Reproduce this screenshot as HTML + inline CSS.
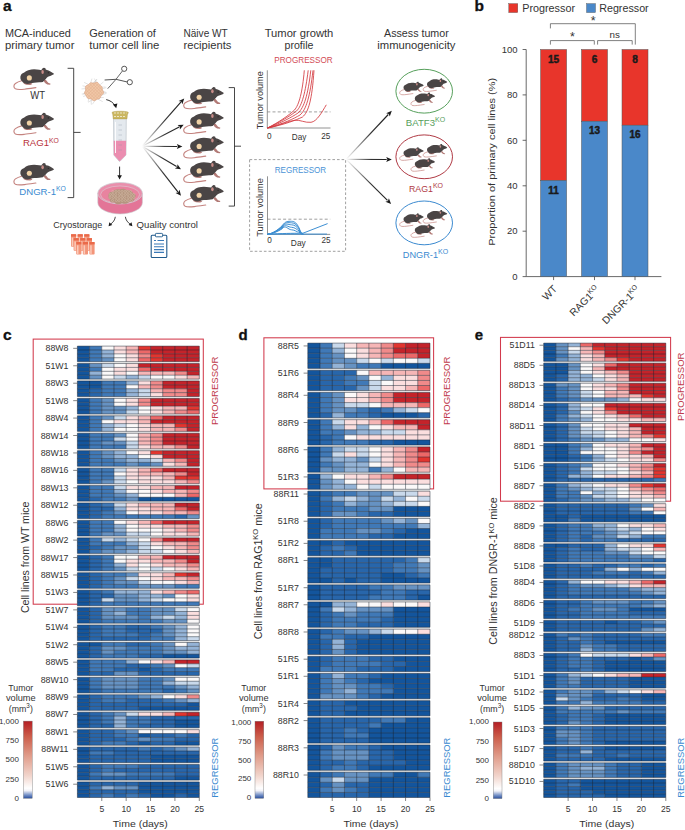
<!DOCTYPE html><html><head><meta charset="utf-8"><style>html,body{margin:0;padding:0;background:#fff;}svg{display:block;}</style></head><body>
<svg width="685" height="830" viewBox="0 0 685 830" font-family='"Liberation Sans", sans-serif'>
<defs>
<symbol id="ms" viewBox="0 0 42 23" overflow="visible">
 <path d="M8.9,13.2 C6.5,13.8 4.5,14.6 2.6,15.9 C0.6,17.4 0.6,20 2.6,21.2 C4.6,22.3 8.5,21.9 11.8,21.6 C15,21.2 19,20.6 23.1,20.0" fill="none" stroke="#c4837f" stroke-width="1.15" stroke-linecap="round"/>
 <path d="M30.3,12.4 L33,12.2 L35.4,15.2 L37.8,16.1 L37.3,17.1 L34.5,17 L32.2,15.3 Z" fill="#b27a76"/>
 <path d="M10.4,14.4 L18,15.1 L19.6,16.5 L17.6,17.4 L13.4,17.2 L11,16.2 Z" fill="#b27a76"/>
 <path d="M9.24,13.57 C7.3,12.3 7.1,9.2 8.15,7.36 C9,6 10,5.6 11.07,5.17 C12.5,4 13.8,3.2 15.45,2.62 C17.5,2 19.5,1.74 21.29,1.74 C23.2,1.74 25,2 26.4,2.25 L28.59,2.62 C29,1.8 29.3,1.3 29.68,1.01 C30.2,0.5 30.6,0.1 31.14,0.06 C31.8,0.05 32.3,0.3 32.6,0.58 L32.97,1.89 C33.8,2.2 34.5,2.4 35.16,2.62 C36.3,3.1 37.2,3.6 38.08,4.08 C39.2,4.7 40.2,5.3 41.0,5.9 C41.1,6.4 40.9,6.8 40.63,7.0 C39.8,7.5 38.9,7.8 38.08,8.09 C37,8.4 36,8.8 35.16,9.19 C34.3,9.9 33.6,10.6 32.97,11.38 L31.51,12.84 C31,13.4 30.6,14 30.05,14.3 C28.8,14.5 27.6,14.6 26.4,14.66 C24.7,14.8 23,14.9 21.29,15.03 C20,15.2 18.8,15.5 17.64,15.76 C16.6,16.1 15.7,16.4 14.72,16.49 C13.7,16.4 12.7,16.1 11.8,15.76 C11.1,15.4 10.5,15 9.97,14.66 Z" fill="#4a4545"/>
 <ellipse cx="29.8" cy="4.3" rx="1.25" ry="2.0" fill="#c98c88"/>
 <circle cx="35.5" cy="5.2" r="0.55" fill="#1a1a1a"/>
</symbol>
<symbol id="msp" viewBox="0 0 42 23" overflow="visible">
 <use href="#ms"/>
 <circle cx="16.54" cy="10.3" r="2.55" fill="#f0d2a6"/>
</symbol>
</defs>
<text x="2.9" y="10.8" font-size="15.5" text-anchor="start" fill="#111" font-weight="bold" stroke="#111" stroke-width="0.3">a</text>
<text x="4.9" y="36.6" font-size="10.6" text-anchor="start" fill="#333333" font-weight="normal" textLength="66" lengthAdjust="spacingAndGlyphs" >MCA-induced</text>
<text x="4.9" y="48.9" font-size="10.6" text-anchor="start" fill="#333333" font-weight="normal" textLength="69.5" lengthAdjust="spacingAndGlyphs" >primary tumor</text>
<text x="89.3" y="36.6" font-size="10.6" text-anchor="start" fill="#333333" font-weight="normal" textLength="66.6" lengthAdjust="spacingAndGlyphs" >Generation of</text>
<text x="89.3" y="48.9" font-size="10.6" text-anchor="start" fill="#333333" font-weight="normal" textLength="70.1" lengthAdjust="spacingAndGlyphs" >tumor cell line</text>
<text x="183.5" y="36.6" font-size="10.6" text-anchor="start" fill="#333333" font-weight="normal" textLength="44.2" lengthAdjust="spacingAndGlyphs" >Näive WT</text>
<text x="183.5" y="48.9" font-size="10.6" text-anchor="start" fill="#333333" font-weight="normal" textLength="47.9" lengthAdjust="spacingAndGlyphs" >recipients</text>
<text x="299" y="36.6" font-size="10.6" text-anchor="middle" fill="#333333" font-weight="normal" textLength="68.7" lengthAdjust="spacingAndGlyphs" >Tumor growth</text>
<text x="299" y="48.9" font-size="10.6" text-anchor="middle" fill="#333333" font-weight="normal" >profile</text>
<text x="416.4" y="36.6" font-size="10.6" text-anchor="middle" fill="#333333" font-weight="normal" textLength="64.8" lengthAdjust="spacingAndGlyphs" >Assess tumor</text>
<text x="416.4" y="48.9" font-size="10.6" text-anchor="middle" fill="#333333" font-weight="normal" textLength="78.2" lengthAdjust="spacingAndGlyphs" >immunogenicity</text>
<use href="#msp" x="0" y="0" width="42" height="23" transform="translate(12.8,67.6) scale(1.0)"/>
<use href="#msp" x="0" y="0" width="42" height="23" transform="translate(12.8,112.7) scale(1.0)"/>
<use href="#msp" x="0" y="0" width="42" height="23" transform="translate(12.8,163.0) scale(1.0)"/>
<text x="30.2" y="98.6" font-size="10.2" text-anchor="start" fill="#333333" font-weight="normal" textLength="14.8" lengthAdjust="spacingAndGlyphs" >WT</text>
<text x="22.9" y="146.4" font-size="9.6" fill="#b8323c">RAG1<tspan font-size="6.8" dy="-3.8">KO</tspan></text>
<text x="19.3" y="195.2" font-size="9.6" fill="#3a8ad0">DNGR-1<tspan font-size="6.8" dy="-3.8">KO</tspan></text>
<path d="M67.6,68.3 H73.7 V197.6 H67.6 M73.7,132.4 H80.6" fill="none" stroke="#333" stroke-width="0.9"/>
<use href="#msp" x="0" y="0" width="42" height="23" transform="translate(182.6,86.9) scale(1.0)"/>
<use href="#msp" x="0" y="0" width="42" height="23" transform="translate(182.6,111.60000000000001) scale(1.0)"/>
<use href="#msp" x="0" y="0" width="42" height="23" transform="translate(182.6,136.1) scale(1.0)"/>
<use href="#msp" x="0" y="0" width="42" height="23" transform="translate(182.6,160.6) scale(1.0)"/>
<use href="#msp" x="0" y="0" width="42" height="23" transform="translate(182.6,185.0) scale(1.0)"/>
<path d="M228.7,87.6 H234.5 V206.1 H228.7 M234.5,146.2 H241" fill="none" stroke="#333" stroke-width="0.9"/>
<path d="M102.39,91.00 L105.75,92.14 M102.23,92.99 L106.67,92.66 M101.43,95.25 L106.51,93.32 M99.55,97.65 L103.81,97.47 M97.55,98.98 L102.71,101.62 M95.57,99.63 L92.40,104.28 M92.56,99.69 L88.00,102.31 M91.08,99.32 L91.32,104.70 M88.80,98.10 L88.15,101.60 M86.47,95.43 L83.14,96.51 M85.68,93.47 L81.78,94.07 M85.43,92.04 L82.75,94.67 M85.84,88.61 L81.56,88.91 M86.83,86.58 L82.51,85.83 M88.72,84.56 L84.09,82.40 M90.48,83.52 L91.97,78.63 M93.08,82.84 L96.80,79.43 M94.46,82.82 L96.96,79.13 M96.88,83.34 L94.36,78.59 M99.68,85.07 L103.51,81.94 M101.38,87.25 L105.40,86.98 M102.10,89.06 L106.28,87.51" stroke="#b8b8b8" stroke-width="0.4" fill="none"/>
<path d="M103.25,91.30 L103.58,92.12 L103.59,92.96 L103.21,93.72 L102.56,94.36 L101.85,94.90 L101.27,95.43 L100.90,96.05 L100.65,96.79 L100.35,97.56 L99.89,98.22 L99.22,98.67 L98.44,98.93 L97.66,99.12 L96.93,99.39 L96.25,99.80 L95.53,100.28 L94.74,100.65 L93.90,100.72 L93.08,100.44 L92.34,99.91 L91.68,99.34 L91.04,98.93 L90.32,98.76 L89.48,98.72 L88.60,98.64 L87.80,98.35 L87.20,97.80 L86.79,97.09 L86.49,96.33 L86.15,95.64 L85.69,95.01 L85.16,94.39 L84.71,93.69 L84.53,92.90 L84.68,92.08 L85.05,91.30 L85.45,90.58 L85.66,89.89 L85.63,89.15 L85.46,88.32 L85.35,87.43 L85.51,86.60 L85.99,85.93 L86.70,85.44 L87.48,85.08 L88.19,84.70 L88.78,84.21 L89.34,83.64 L89.97,83.12 L90.71,82.80 L91.54,82.74 L92.37,82.89 L93.16,83.06 L93.90,83.07 L94.66,82.85 L95.50,82.52 L96.39,82.29 L97.26,82.34 L98.01,82.76 L98.58,83.43 L99.04,84.18 L99.50,84.82 L100.06,85.32 L100.73,85.74 L101.40,86.21 L101.91,86.81 L102.18,87.55 L102.26,88.35 L102.29,89.12 L102.46,89.84 L102.81,90.54 Z" fill="#f1c7a6" stroke="#d59c7e" stroke-width="0.6"/>
<clipPath id="tclip"><circle cx="93.9" cy="91.3" r="8.6"/></clipPath>
<path d="M69.1,79.3 L93.1,103.3 M93.1,79.3 L69.1,103.3 M72.3,79.3 L96.3,103.3 M96.3,79.3 L72.3,103.3 M75.5,79.3 L99.5,103.3 M99.5,79.3 L75.5,103.3 M78.7,79.3 L102.7,103.3 M102.7,79.3 L78.7,103.3 M81.9,79.3 L105.9,103.3 M105.9,79.3 L81.9,103.3 M85.1,79.3 L109.1,103.3 M109.1,79.3 L85.1,103.3 M88.3,79.3 L112.3,103.3 M112.3,79.3 L88.3,103.3 M91.5,79.3 L115.5,103.3 M115.5,79.3 L91.5,103.3 M94.7,79.3 L118.7,103.3 M118.7,79.3 L94.7,103.3" stroke="#e0ad8d" stroke-width="0.45" fill="none" clip-path="url(#tclip)"/>
<g stroke="#555" fill="none" stroke-width="0.9"><path d="M104.6,80 L116,79.3 L127.3,82" stroke-width="1"/><path d="M107.7,88.7 L116,79.3 L122.4,71"/><circle cx="124.2" cy="68.8" r="2.6" stroke-width="1"/><circle cx="129.8" cy="82.2" r="2.6" stroke-width="1"/></g>
<path d="M106.2,99.6 C110,100.4 113.5,102.5 115.3,106.3" stroke="#1a1a1a" stroke-width="0.9" fill="none"/>
<path d="M116.2,108.3 L112.9,104.6 L117.4,103.4 Z" fill="#1a1a1a"/>
<path d="M113.5,118.5 L126.3,118.5 L126,155 L120,161.3 L119.2,161.3 L113.8,155 Z" fill="#e4e9ee" stroke="#a9b1b9" stroke-width="0.5"/>
<path d="M113.7,140.8 L126.1,140.8 L125.9,155 L120,161 L119.3,161 L113.9,155 Z" fill="#eb8db0"/>
<path d="M115.5,122 V153" stroke="#fff" stroke-width="1" opacity="0.9"/>
<path d="M118.5,125 H122 M118.5,130 H122 M118.5,135 H122 M118.5,140 H122 M118.5,145 H122 M118.5,150 H122" stroke="#8a96a2" stroke-width="0.35"/>
<path d="M112,112.5 C112,110.8 128.4,110.8 128.4,112.5 L127.4,114.8 L127,118.9 L113.2,118.9 L112.8,114.8 Z" fill="#cbb761" stroke="#a8964a" stroke-width="0.4"/>
<path d="M114,113 H126.5 M114,116.5 H126" stroke="#f0ead0" stroke-width="0.9" stroke-dasharray="2,1"/>
<path d="M119.6,166.6 V176.5" stroke="#1a1a1a" stroke-width="0.9"/>
<path d="M119.6,179.4 L117.3,175.2 L121.9,175.2 Z" fill="#1a1a1a"/>
<path d="M97.8,193.2 L97.8,202.6 A22.3,11.3 0 0 0 142.4,202.6 L142.4,193.2 Z" fill="#e37597" stroke="#c9c9cf" stroke-width="0.6"/>
<ellipse cx="120.1" cy="193.2" rx="22.3" ry="10.7" fill="#e98fac" stroke="#cfd0d6" stroke-width="0.8"/>
<ellipse cx="120.1" cy="194.6" rx="19.5" ry="8.6" fill="#e8839f" stroke="#d8d8de" stroke-width="0.5"/>
<path d="M108.5,196 C108,193 110.5,191.5 113,191.8 C114,189.5 117,188.6 119.5,189.6 C121.5,188.2 125,188.4 126.5,190.2 C129,189.6 132.5,190.8 133,193 C136,193.8 136.5,196.5 134.5,198.2 C135,200.5 132.5,202.3 129.5,201.8 C128,203.8 124.5,204.5 122,203.2 C119.5,205 115.5,204.6 114.5,202.5 C111.5,203 109,201.5 110,199.2 C108.3,198.6 108,197.3 108.5,196 Z" fill="#b59580"/>
<circle cx="112.7" cy="191.5" r="1.05" fill="none" stroke="#d9c2ad" stroke-width="0.45"/><circle cx="116.0" cy="191.5" r="1.05" fill="none" stroke="#d9c2ad" stroke-width="0.45"/><circle cx="118.9" cy="191.5" r="1.05" fill="none" stroke="#d9c2ad" stroke-width="0.45"/><circle cx="122.1" cy="191.5" r="1.05" fill="none" stroke="#d9c2ad" stroke-width="0.45"/><circle cx="125.1" cy="191.5" r="1.05" fill="none" stroke="#d9c2ad" stroke-width="0.45"/><circle cx="127.6" cy="191.5" r="1.05" fill="none" stroke="#d9c2ad" stroke-width="0.45"/><circle cx="130.5" cy="191.5" r="1.05" fill="none" stroke="#d9c2ad" stroke-width="0.45"/><circle cx="110.3" cy="194.5" r="1.05" fill="none" stroke="#d9c2ad" stroke-width="0.45"/><circle cx="112.8" cy="194.5" r="1.05" fill="none" stroke="#d9c2ad" stroke-width="0.45"/><circle cx="115.7" cy="194.5" r="1.05" fill="none" stroke="#d9c2ad" stroke-width="0.45"/><circle cx="119.5" cy="194.5" r="1.05" fill="none" stroke="#d9c2ad" stroke-width="0.45"/><circle cx="122.0" cy="194.5" r="1.05" fill="none" stroke="#d9c2ad" stroke-width="0.45"/><circle cx="125.3" cy="194.5" r="1.05" fill="none" stroke="#d9c2ad" stroke-width="0.45"/><circle cx="128.0" cy="194.5" r="1.05" fill="none" stroke="#d9c2ad" stroke-width="0.45"/><circle cx="131.1" cy="194.5" r="1.05" fill="none" stroke="#d9c2ad" stroke-width="0.45"/><circle cx="133.7" cy="194.5" r="1.05" fill="none" stroke="#d9c2ad" stroke-width="0.45"/><circle cx="110.1" cy="197.5" r="1.05" fill="none" stroke="#d9c2ad" stroke-width="0.45"/><circle cx="113.4" cy="197.5" r="1.05" fill="none" stroke="#d9c2ad" stroke-width="0.45"/><circle cx="116.0" cy="197.5" r="1.05" fill="none" stroke="#d9c2ad" stroke-width="0.45"/><circle cx="119.2" cy="197.5" r="1.05" fill="none" stroke="#d9c2ad" stroke-width="0.45"/><circle cx="122.2" cy="197.5" r="1.05" fill="none" stroke="#d9c2ad" stroke-width="0.45"/><circle cx="124.6" cy="197.5" r="1.05" fill="none" stroke="#d9c2ad" stroke-width="0.45"/><circle cx="128.3" cy="197.5" r="1.05" fill="none" stroke="#d9c2ad" stroke-width="0.45"/><circle cx="131.1" cy="197.5" r="1.05" fill="none" stroke="#d9c2ad" stroke-width="0.45"/><circle cx="133.8" cy="197.5" r="1.05" fill="none" stroke="#d9c2ad" stroke-width="0.45"/><circle cx="112.5" cy="200.5" r="1.05" fill="none" stroke="#d9c2ad" stroke-width="0.45"/><circle cx="116.4" cy="200.5" r="1.05" fill="none" stroke="#d9c2ad" stroke-width="0.45"/><circle cx="119.0" cy="200.5" r="1.05" fill="none" stroke="#d9c2ad" stroke-width="0.45"/><circle cx="122.2" cy="200.5" r="1.05" fill="none" stroke="#d9c2ad" stroke-width="0.45"/><circle cx="125.4" cy="200.5" r="1.05" fill="none" stroke="#d9c2ad" stroke-width="0.45"/><circle cx="128.2" cy="200.5" r="1.05" fill="none" stroke="#d9c2ad" stroke-width="0.45"/><circle cx="131.4" cy="200.5" r="1.05" fill="none" stroke="#d9c2ad" stroke-width="0.45"/>
<path d="M115.3,216.8 C115,220 113,222.5 110.4,224.3" stroke="#1a1a1a" stroke-width="0.8" fill="none"/>
<path d="M108.6,226.2 L109.3,222.3 L112.3,225 Z" fill="#1a1a1a"/>
<path d="M125.4,216.8 C125.7,220 127.7,222.5 130.4,224.3" stroke="#1a1a1a" stroke-width="0.8" fill="none"/>
<path d="M132.4,226.2 L128.6,225 L131.5,222.3 Z" fill="#1a1a1a"/>
<text x="53.2" y="227.6" font-size="9.2" text-anchor="start" fill="#333333" font-weight="normal" textLength="49" lengthAdjust="spacingAndGlyphs" >Cryostorage</text>
<text x="136.6" y="227.6" font-size="9.2" text-anchor="start" fill="#333333" font-weight="normal" textLength="61.4" lengthAdjust="spacingAndGlyphs" >Quality control</text>
<rect x="71.0" y="234.2" width="5.2" height="12.6" rx="0.8" fill="#f3957a"/><rect x="71.0" y="234.2" width="5.2" height="2.4" fill="#ea6a4a"/><rect x="71.8" y="237.5" width="1.5" height="8.6" fill="#fbcab8"/><rect x="77.6" y="234.2" width="5.2" height="12.6" rx="0.8" fill="#f3957a"/><rect x="77.6" y="234.2" width="5.2" height="2.4" fill="#ea6a4a"/><rect x="78.4" y="237.5" width="1.5" height="8.6" fill="#fbcab8"/><rect x="84.2" y="234.2" width="5.2" height="12.6" rx="0.8" fill="#f3957a"/><rect x="84.2" y="234.2" width="5.2" height="2.4" fill="#ea6a4a"/><rect x="85.0" y="237.5" width="1.5" height="8.6" fill="#fbcab8"/><rect x="73.6" y="238.1" width="5.2" height="12.6" rx="0.8" fill="#f3957a"/><rect x="73.6" y="238.1" width="5.2" height="2.4" fill="#ea6a4a"/><rect x="74.4" y="241.4" width="1.5" height="8.6" fill="#fbcab8"/><rect x="80.2" y="238.1" width="5.2" height="12.6" rx="0.8" fill="#f3957a"/><rect x="80.2" y="238.1" width="5.2" height="2.4" fill="#ea6a4a"/><rect x="81.0" y="241.4" width="1.5" height="8.6" fill="#fbcab8"/><rect x="86.8" y="238.1" width="5.2" height="12.6" rx="0.8" fill="#f3957a"/><rect x="86.8" y="238.1" width="5.2" height="2.4" fill="#ea6a4a"/><rect x="87.6" y="241.4" width="1.5" height="8.6" fill="#fbcab8"/><rect x="76.2" y="242.0" width="5.2" height="12.6" rx="0.8" fill="#f3957a"/><rect x="76.2" y="242.0" width="5.2" height="2.4" fill="#ea6a4a"/><rect x="77.0" y="245.3" width="1.5" height="8.6" fill="#fbcab8"/><rect x="82.8" y="242.0" width="5.2" height="12.6" rx="0.8" fill="#f3957a"/><rect x="82.8" y="242.0" width="5.2" height="2.4" fill="#ea6a4a"/><rect x="83.6" y="245.3" width="1.5" height="8.6" fill="#fbcab8"/><rect x="89.4" y="242.0" width="5.2" height="12.6" rx="0.8" fill="#f3957a"/><rect x="89.4" y="242.0" width="5.2" height="2.4" fill="#ea6a4a"/><rect x="90.2" y="245.3" width="1.5" height="8.6" fill="#fbcab8"/>
<rect x="151.2" y="235.2" width="15.6" height="22.3" rx="1" fill="#fff" stroke="#1f5a8c" stroke-width="1.1"/>
<rect x="155.4" y="233.4" width="7.2" height="3.4" rx="0.8" fill="#fff" stroke="#1f5a8c" stroke-width="0.9"/>
<path d="M154,240.5 h2 M157.5,240.5 h6.5 M154,244 h10 M154,246.8 h10 M154,249.6 h10 M154,252.4 h10" stroke="#3a7ab8" stroke-width="1.1"/>
<linearGradient id="fa0" gradientUnits="userSpaceOnUse" x1="142.2" y1="146.2" x2="184.2" y2="98.4"><stop offset="0" stop-color="#ffffff"/><stop offset="0.55" stop-color="#333"/><stop offset="1" stop-color="#1a1a1a"/></linearGradient><path d="M142.2,146.2 L180.83,102.23" stroke="url(#fa0)" stroke-width="1.15" fill="none"/><path d="M184.2,98.4 L182.38,104.26 L181.30,101.71 L178.63,100.96 Z" fill="#1a1a1a"/>
<linearGradient id="fa1" gradientUnits="userSpaceOnUse" x1="142.2" y1="146.2" x2="183.7" y2="124.7"><stop offset="0" stop-color="#ffffff"/><stop offset="0.55" stop-color="#333"/><stop offset="1" stop-color="#1a1a1a"/></linearGradient><path d="M142.2,146.2 L179.17,127.05" stroke="url(#fa1)" stroke-width="1.15" fill="none"/><path d="M183.7,124.7 L179.88,129.50 L179.79,126.72 L177.58,125.06 Z" fill="#1a1a1a"/>
<linearGradient id="fa2" gradientUnits="userSpaceOnUse" x1="142.2" y1="146.2" x2="182.4" y2="146.6"><stop offset="0" stop-color="#ffffff"/><stop offset="0.55" stop-color="#333"/><stop offset="1" stop-color="#1a1a1a"/></linearGradient><path d="M142.2,146.2 L177.30,146.55" stroke="url(#fa2)" stroke-width="1.15" fill="none"/><path d="M182.4,146.6 L176.78,149.04 L178.00,146.56 L176.83,144.04 Z" fill="#1a1a1a"/>
<linearGradient id="fa3" gradientUnits="userSpaceOnUse" x1="142.2" y1="146.2" x2="181.0" y2="169.2"><stop offset="0" stop-color="#ffffff"/><stop offset="0.55" stop-color="#333"/><stop offset="1" stop-color="#1a1a1a"/></linearGradient><path d="M142.2,146.2 L176.61,166.60" stroke="url(#fa3)" stroke-width="1.15" fill="none"/><path d="M181.0,169.2 L174.91,168.49 L177.22,166.96 L177.46,164.19 Z" fill="#1a1a1a"/>
<linearGradient id="fa4" gradientUnits="userSpaceOnUse" x1="142.2" y1="146.2" x2="181.0" y2="195.8"><stop offset="0" stop-color="#ffffff"/><stop offset="0.55" stop-color="#333"/><stop offset="1" stop-color="#1a1a1a"/></linearGradient><path d="M142.2,146.2 L177.86,191.78" stroke="url(#fa4)" stroke-width="1.15" fill="none"/><path d="M181.0,195.8 L175.58,192.93 L178.29,192.33 L179.52,189.85 Z" fill="#1a1a1a"/>
<linearGradient id="fb0" gradientUnits="userSpaceOnUse" x1="346.1" y1="159.3" x2="391.8" y2="110.8"><stop offset="0" stop-color="#ffffff"/><stop offset="0.55" stop-color="#333"/><stop offset="1" stop-color="#1a1a1a"/></linearGradient><path d="M346.1,159.3 L388.30,114.51" stroke="url(#fb0)" stroke-width="1.15" fill="none"/><path d="M391.8,110.8 L389.78,116.59 L388.78,114.00 L386.14,113.16 Z" fill="#1a1a1a"/>
<linearGradient id="fb1" gradientUnits="userSpaceOnUse" x1="346.1" y1="159.3" x2="391.8" y2="159.5"><stop offset="0" stop-color="#ffffff"/><stop offset="0.55" stop-color="#333"/><stop offset="1" stop-color="#1a1a1a"/></linearGradient><path d="M346.1,159.3 L386.70,159.48" stroke="url(#fb1)" stroke-width="1.15" fill="none"/><path d="M391.8,159.5 L386.19,161.98 L387.40,159.48 L386.21,156.98 Z" fill="#1a1a1a"/>
<linearGradient id="fb2" gradientUnits="userSpaceOnUse" x1="346.1" y1="159.3" x2="391.1" y2="204.0"><stop offset="0" stop-color="#ffffff"/><stop offset="0.55" stop-color="#333"/><stop offset="1" stop-color="#1a1a1a"/></linearGradient><path d="M346.1,159.3 L387.48,200.41" stroke="url(#fb2)" stroke-width="1.15" fill="none"/><path d="M391.1,204.0 L385.37,201.83 L387.98,200.90 L388.89,198.28 Z" fill="#1a1a1a"/>
<text x="274.3" y="63" font-size="8.6" text-anchor="start" fill="#d24a55" font-weight="normal" textLength="58.4" lengthAdjust="spacingAndGlyphs" >PROGRESSOR</text>
<path d="M267.3,70.3 V128 H330.5" stroke="#777" stroke-width="0.8" fill="none"/>
<path d="M267.3,111.9 H330.5" stroke="#777" stroke-width="0.7" stroke-dasharray="3,2.2" fill="none"/>
<g stroke="#d3393f" stroke-width="0.85" fill="none"><path d="M267.5,128 C279,122 288,116 294.5,110 C299,105 302.5,92 304.3,70.3"/><path d="M267.5,128 C281,121.5 290,116 296.5,111 C302,106 305.5,92 308.2,70.3"/><path d="M267.5,128 C282,122.5 292,117 298,113 C304,108 308,95 310.8,70.3"/><path d="M267.5,128 C284,123.5 294,118.5 300,115 C306,110 310,97 313,70.3"/><path d="M267.5,128 C285,124.5 296,120 302.5,117 C308.5,112 312,100 314,70.3"/><path d="M267.5,128 C280,125.5 288,121 295,120.3 C300,119.6 305,123 311,122.3 C317,121.5 322,112 326.3,104.8"/></g>
<text transform="translate(263.2,100.2) rotate(-90)" font-size="9.4" text-anchor="middle" fill="#333333" textLength="58" lengthAdjust="spacingAndGlyphs">Tumor volume</text>
<text x="269.3" y="139.2" font-size="8.2" text-anchor="middle" fill="#333333" font-weight="normal" >0</text>
<text x="299.1" y="139.7" font-size="9.2" text-anchor="middle" fill="#333333" font-weight="normal" textLength="14.6" lengthAdjust="spacingAndGlyphs" >Day</text>
<text x="325.8" y="139.2" font-size="8.2" text-anchor="middle" fill="#333333" font-weight="normal" >25</text>
<rect x="249.6" y="159.6" width="96" height="91.7" fill="none" stroke="#777" stroke-width="0.7" stroke-dasharray="2.6,2"/>
<text x="274.7" y="173.1" font-size="8.6" text-anchor="start" fill="#4a93d6" font-weight="normal" textLength="51.5" lengthAdjust="spacingAndGlyphs" >REGRESSOR</text>
<path d="M267.5,176.3 V234.4 H330.2" stroke="#777" stroke-width="0.8" fill="none"/>
<path d="M267.5,219.2 H330.2" stroke="#777" stroke-width="0.7" stroke-dasharray="3,2.2" fill="none"/>
<g stroke="#3d8fd3" stroke-width="1" fill="none"><path d="M267.5,234.3 C273,233.6 278,229.7 282,225.9 C285.5,220.8 288,221.3 291.5,221.3 C295,221.3 297,223.8 299,227.8 C300.5,231.7 301.5,234 303.5,234.3"/><path d="M267.5,234.3 C273,233.6 278,230.0 282,226.5 C285.5,221.4 288,222.8 291.5,222.8 C295,222.8 297,225.3 299,228.6 C300.5,232.0 301.5,234 303.5,234.3"/><path d="M267.5,234.3 C273,233.6 278,230.4 282,227.2 C285.5,222.2 288,224.8 291.5,224.8 C295,224.8 297,227.3 299,229.6 C300.5,232.4 301.5,234 303,234.3"/><path d="M267.5,234.3 C273,233.6 278,230.9 282,228.1 C285.5,223.2 288,227.3 291.5,227.3 C295,227.3 297,229.8 299,230.8 C300.5,232.9 301.5,234 302.5,234.3"/><path d="M267.5,234.3 C273,233.6 278,231.4 282,228.9 C285.5,224.2 288,229.8 291.5,229.8 C295,229.8 297,232.3 299,232.1 C300.5,233.4 301.5,234 302,234.3"/><path d="M267.5,234.3 C282,233.4 292,233.3 303,233.2 L327.6,223.6"/><path d="M267.5,234.1 H327"/></g>
<text transform="translate(263.3,207.4) rotate(-90)" font-size="9.4" text-anchor="middle" fill="#333333" textLength="58.7" lengthAdjust="spacingAndGlyphs">Tumor volume</text>
<text x="269.5" y="242.8" font-size="8.2" text-anchor="middle" fill="#333333" font-weight="normal" >0</text>
<text x="298.3" y="245.5" font-size="9.2" text-anchor="middle" fill="#333333" font-weight="normal" textLength="14.9" lengthAdjust="spacingAndGlyphs" >Day</text>
<text x="326" y="242.8" font-size="8.2" text-anchor="middle" fill="#333333" font-weight="normal" >25</text>
<ellipse cx="424.2" cy="91.2" rx="28.3" ry="21.9" fill="none" stroke="#57a05c" stroke-width="1"/>
<use href="#ms" x="0" y="0" width="42" height="23" transform="translate(399.0,81.6) scale(0.6)"/>
<use href="#ms" x="0" y="0" width="42" height="23" transform="translate(422.5,78.3) scale(0.6)"/>
<use href="#ms" x="0" y="0" width="42" height="23" transform="translate(410.3,92.5) scale(0.6)"/>
<text x="405.8" y="126.4" font-size="9.8" fill="#57a05c"><tspan textLength="29.2" lengthAdjust="spacingAndGlyphs">BATF3</tspan><tspan font-size="7" dy="-4">KO</tspan></text>
<ellipse cx="424.2" cy="156.8" rx="28.3" ry="21.9" fill="none" stroke="#b03a44" stroke-width="1"/>
<use href="#ms" x="0" y="0" width="42" height="23" transform="translate(399.0,147.20000000000002) scale(0.6)"/>
<use href="#ms" x="0" y="0" width="42" height="23" transform="translate(422.5,143.90000000000003) scale(0.6)"/>
<use href="#ms" x="0" y="0" width="42" height="23" transform="translate(410.3,158.10000000000002) scale(0.6)"/>
<text x="408.9" y="192.4" font-size="9.8" fill="#b03a44"><tspan textLength="24" lengthAdjust="spacingAndGlyphs">RAG1</tspan><tspan font-size="7" dy="-4">KO</tspan></text>
<ellipse cx="424.2" cy="222.9" rx="28.3" ry="21.9" fill="none" stroke="#3b8ad0" stroke-width="1"/>
<use href="#ms" x="0" y="0" width="42" height="23" transform="translate(399.0,213.3) scale(0.6)"/>
<use href="#ms" x="0" y="0" width="42" height="23" transform="translate(422.5,210.00000000000003) scale(0.6)"/>
<use href="#ms" x="0" y="0" width="42" height="23" transform="translate(410.3,224.20000000000002) scale(0.6)"/>
<text x="402.8" y="258.4" font-size="9.8" fill="#3b8ad0"><tspan textLength="35.2" lengthAdjust="spacingAndGlyphs">DNGR-1</tspan><tspan font-size="7" dy="-4">KO</tspan></text>
<text x="474.6" y="10.9" font-size="15.5" text-anchor="start" fill="#111" font-weight="bold" stroke="#111" stroke-width="0.3">b</text>
<rect x="508.8" y="3.6" width="9" height="9" fill="#e8352b" stroke="#555" stroke-width="0.4"/>
<text x="522.2" y="11.7" font-size="10" text-anchor="start" fill="#333333" font-weight="normal" textLength="52.8" lengthAdjust="spacingAndGlyphs" >Progressor</text>
<rect x="586.5" y="3.6" width="9" height="9" fill="#4a88c9" stroke="#555" stroke-width="0.4"/>
<text x="599.2" y="11.7" font-size="10" text-anchor="start" fill="#333333" font-weight="normal" textLength="49.5" lengthAdjust="spacingAndGlyphs" >Regressor</text>
<path d="M526.2,49.5 V276.6 H661.4" fill="none" stroke="#444" stroke-width="0.8"/>
<path d="M522.6,276.6 H526.2" stroke="#444" stroke-width="0.8"/>
<text x="517.6" y="279.90000000000003" font-size="9.5" text-anchor="end" fill="#333333" font-weight="normal" >0</text>
<path d="M522.6,231.2 H526.2" stroke="#444" stroke-width="0.8"/>
<text x="517.6" y="234.48000000000002" font-size="9.5" text-anchor="end" fill="#333333" font-weight="normal" >20</text>
<path d="M522.6,185.8 H526.2" stroke="#444" stroke-width="0.8"/>
<text x="517.6" y="189.06000000000003" font-size="9.5" text-anchor="end" fill="#333333" font-weight="normal" >40</text>
<path d="M522.6,140.3 H526.2" stroke="#444" stroke-width="0.8"/>
<text x="517.6" y="143.64000000000001" font-size="9.5" text-anchor="end" fill="#333333" font-weight="normal" >60</text>
<path d="M522.6,94.9 H526.2" stroke="#444" stroke-width="0.8"/>
<text x="517.6" y="98.22000000000001" font-size="9.5" text-anchor="end" fill="#333333" font-weight="normal" >80</text>
<path d="M522.6,49.5 H526.2" stroke="#444" stroke-width="0.8"/>
<text x="517.6" y="52.8" font-size="9.5" text-anchor="end" fill="#333333" font-weight="normal" >100</text>
<rect x="540.6" y="49.50" width="26" height="131.02" fill="#e8352b" stroke="#555" stroke-width="0.5"/>
<rect x="540.6" y="180.52" width="26" height="96.08" fill="#4a88c9" stroke="#555" stroke-width="0.5"/>
<text x="553.6" y="62.5" font-size="10" text-anchor="middle" fill="#1a1a1a" font-weight="bold" stroke="#1a1a1a" stroke-width="0.45">15</text>
<text x="553.6" y="193.51923076923077" font-size="10" text-anchor="middle" fill="#1a1a1a" font-weight="bold" stroke="#1a1a1a" stroke-width="0.45">11</text>
<path d="M553.6,276.6 V280.1" stroke="#444" stroke-width="0.8"/>
<rect x="581.5" y="49.50" width="26" height="71.72" fill="#e8352b" stroke="#555" stroke-width="0.5"/>
<rect x="581.5" y="121.22" width="26" height="155.38" fill="#4a88c9" stroke="#555" stroke-width="0.5"/>
<text x="594.5" y="62.5" font-size="10" text-anchor="middle" fill="#1a1a1a" font-weight="bold" stroke="#1a1a1a" stroke-width="0.45">6</text>
<text x="594.5" y="134.21578947368423" font-size="10" text-anchor="middle" fill="#1a1a1a" font-weight="bold" stroke="#1a1a1a" stroke-width="0.45">13</text>
<path d="M594.5,276.6 V280.1" stroke="#444" stroke-width="0.8"/>
<rect x="622.0" y="49.50" width="26" height="75.70" fill="#e8352b" stroke="#555" stroke-width="0.5"/>
<rect x="622.0" y="125.20" width="26" height="151.40" fill="#4a88c9" stroke="#555" stroke-width="0.5"/>
<text x="635.0" y="62.5" font-size="10" text-anchor="middle" fill="#1a1a1a" font-weight="bold" stroke="#1a1a1a" stroke-width="0.45">8</text>
<text x="635.0" y="138.20000000000002" font-size="10" text-anchor="middle" fill="#1a1a1a" font-weight="bold" stroke="#1a1a1a" stroke-width="0.45">16</text>
<path d="M635.0,276.6 V280.1" stroke="#444" stroke-width="0.8"/>
<path d="M550.4,28.4 V23.7 H635.3 V44.6" fill="none" stroke="#555" stroke-width="0.75"/>
<text x="593.2" y="25.0" font-size="12.5" text-anchor="middle" fill="#333333" font-weight="normal" >*</text>
<path d="M550.4,44.6 V40.6 H594.3 V44.6" fill="none" stroke="#555" stroke-width="0.75"/>
<text x="572.4" y="41.2" font-size="12.5" text-anchor="middle" fill="#333333" font-weight="normal" >*</text>
<path d="M597.6,44.6 V40.6 H632.2 V44.6" fill="none" stroke="#555" stroke-width="0.75"/>
<text x="614.7" y="38.0" font-size="9.8" text-anchor="middle" fill="#333333" font-weight="normal" >ns</text>
<text transform="translate(495.2,161.8) rotate(-90)" font-size="9.6" text-anchor="middle" fill="#333333" textLength="168" lengthAdjust="spacingAndGlyphs">Proportion of primary cell lines (%)</text>
<text transform="translate(557.8,289.6) rotate(-45)" font-size="10.4" text-anchor="end" fill="#333333">WT</text>
<text transform="translate(600.2,290.2) rotate(-45)" font-size="10.2" text-anchor="end" fill="#333333">RAG1<tspan font-size="7" dy="-4" dx="-0.5">KO</tspan></text>
<text transform="translate(640.8,290.2) rotate(-45)" font-size="10.2" text-anchor="end" fill="#333333">DNGR-1<tspan font-size="7" dy="-4" dx="-0.5">KO</tspan></text>
<defs><linearGradient id="cbg" x1="0" y1="1" x2="0" y2="0">
    <stop offset="0" stop-color="#2a4f9c"/><stop offset="0.04" stop-color="#6f8cc4"/><stop offset="0.1" stop-color="#f2f2f8"/><stop offset="0.13" stop-color="#ffffff"/>
    <stop offset="0.3" stop-color="#f1d3ca"/><stop offset="0.55" stop-color="#e09c8a"/><stop offset="0.8" stop-color="#cc5e4b"/><stop offset="1" stop-color="#b41e24"/>
    </linearGradient></defs>
<text x="2.9" y="340.3" font-size="15.5" font-weight="bold" fill="#111" stroke="#111" stroke-width="0.3">c</text>
<text x="238.4" y="339.6" font-size="15" font-weight="bold" fill="#111" stroke="#111" stroke-width="0.3">d</text>
<text x="474.8" y="340.1" font-size="15" font-weight="bold" fill="#111" stroke="#111" stroke-width="0.3">e</text>
<rect x="33.2" y="339.1" width="170.10000000000002" height="265.1" fill="none" stroke="#d23a4c" stroke-width="1.05"/>
<rect x="263.9" y="337.8" width="169.70000000000005" height="151.09999999999997" fill="none" stroke="#d23a4c" stroke-width="1.05"/>
<rect x="500.5" y="337.4" width="170.10000000000002" height="163.8" fill="none" stroke="#d23a4c" stroke-width="1.05"/>
<rect x="77.4" y="346.1" width="121.9" height="451.4" fill="#ebebeb"/>
<rect x="77.40" y="346.10" width="12.19" height="3.88" fill="#13559d"/>
<rect x="89.59" y="346.10" width="12.19" height="3.88" fill="#4079b7"/>
<rect x="101.78" y="346.10" width="12.19" height="3.88" fill="#fbf9f9"/>
<rect x="113.97" y="346.10" width="12.19" height="3.88" fill="#fbdede"/>
<rect x="126.16" y="346.10" width="12.19" height="3.88" fill="#f6b6b6"/>
<rect x="138.35" y="346.10" width="12.19" height="3.88" fill="#e2352f"/>
<rect x="150.54" y="346.10" width="48.76" height="3.88" fill="#c4232a"/>
<rect x="77.40" y="349.98" width="12.19" height="3.88" fill="#13559d"/>
<rect x="89.59" y="349.98" width="12.19" height="3.88" fill="#4079b7"/>
<rect x="101.78" y="349.98" width="12.19" height="3.88" fill="#94b3d6"/>
<rect x="113.97" y="349.98" width="12.19" height="3.88" fill="#fbdede"/>
<rect x="126.16" y="349.98" width="12.19" height="3.88" fill="#f6b6b6"/>
<rect x="138.35" y="349.98" width="12.19" height="3.88" fill="#ec6868"/>
<rect x="150.54" y="349.98" width="48.76" height="3.88" fill="#c4232a"/>
<rect x="77.40" y="353.87" width="12.19" height="3.88" fill="#13559d"/>
<rect x="89.59" y="353.87" width="12.19" height="3.88" fill="#4079b7"/>
<rect x="101.78" y="353.87" width="12.19" height="3.88" fill="#94b3d6"/>
<rect x="113.97" y="353.87" width="12.19" height="3.88" fill="#fbf9f9"/>
<rect x="126.16" y="353.87" width="12.19" height="3.88" fill="#fbdede"/>
<rect x="138.35" y="353.87" width="12.19" height="3.88" fill="#f08a8a"/>
<rect x="150.54" y="353.87" width="12.19" height="3.88" fill="#e2352f"/>
<rect x="162.73" y="353.87" width="36.57" height="3.88" fill="#c4232a"/>
<rect x="77.40" y="357.75" width="12.19" height="3.88" fill="#13559d"/>
<rect x="89.59" y="357.75" width="12.19" height="3.88" fill="#4079b7"/>
<rect x="101.78" y="357.75" width="12.19" height="3.88" fill="#6692c2"/>
<rect x="113.97" y="357.75" width="12.19" height="3.88" fill="#fbf9f9"/>
<rect x="126.16" y="357.75" width="12.19" height="3.88" fill="#fbdede"/>
<rect x="138.35" y="357.75" width="12.19" height="3.88" fill="#ec6868"/>
<rect x="150.54" y="357.75" width="12.19" height="3.88" fill="#e2352f"/>
<rect x="162.73" y="357.75" width="36.57" height="3.88" fill="#c4232a"/>
<rect x="77.40" y="363.53" width="12.19" height="3.88" fill="#13559d"/>
<rect x="89.59" y="363.53" width="12.19" height="3.88" fill="#6692c2"/>
<rect x="101.78" y="363.53" width="12.19" height="3.88" fill="#c9d9eb"/>
<rect x="113.97" y="363.53" width="12.19" height="3.88" fill="#fbf9f9"/>
<rect x="126.16" y="363.53" width="12.19" height="3.88" fill="#fbdede"/>
<rect x="138.35" y="363.53" width="60.95" height="3.88" fill="#c4232a"/>
<rect x="77.40" y="367.42" width="12.19" height="3.88" fill="#13559d"/>
<rect x="89.59" y="367.42" width="12.19" height="3.88" fill="#4079b7"/>
<rect x="101.78" y="367.42" width="12.19" height="3.88" fill="#fbf9f9"/>
<rect x="113.97" y="367.42" width="24.38" height="3.88" fill="#fbdede"/>
<rect x="138.35" y="367.42" width="12.19" height="3.88" fill="#ec6868"/>
<rect x="150.54" y="367.42" width="48.76" height="3.88" fill="#c4232a"/>
<rect x="77.40" y="371.30" width="12.19" height="3.88" fill="#13559d"/>
<rect x="89.59" y="371.30" width="12.19" height="3.88" fill="#94b3d6"/>
<rect x="101.78" y="371.30" width="12.19" height="3.88" fill="#fbf9f9"/>
<rect x="113.97" y="371.30" width="12.19" height="3.88" fill="#fbdede"/>
<rect x="126.16" y="371.30" width="12.19" height="3.88" fill="#fbf9f9"/>
<rect x="138.35" y="371.30" width="36.57" height="3.88" fill="#f6b6b6"/>
<rect x="174.92" y="371.30" width="12.19" height="3.88" fill="#f08a8a"/>
<rect x="187.11" y="371.30" width="12.19" height="3.88" fill="#c4232a"/>
<rect x="77.40" y="375.19" width="12.19" height="3.88" fill="#13559d"/>
<rect x="89.59" y="375.19" width="12.19" height="3.88" fill="#6692c2"/>
<rect x="101.78" y="375.19" width="12.19" height="3.88" fill="#fbf9f9"/>
<rect x="113.97" y="375.19" width="12.19" height="3.88" fill="#c9d9eb"/>
<rect x="126.16" y="375.19" width="12.19" height="3.88" fill="#94b3d6"/>
<rect x="138.35" y="375.19" width="12.19" height="3.88" fill="#c9d9eb"/>
<rect x="150.54" y="375.19" width="24.38" height="3.88" fill="#fbf9f9"/>
<rect x="174.92" y="375.19" width="12.19" height="3.88" fill="#fbdede"/>
<rect x="187.11" y="375.19" width="12.19" height="3.88" fill="#f6b6b6"/>
<rect x="77.40" y="380.97" width="24.38" height="3.88" fill="#13559d"/>
<rect x="101.78" y="380.97" width="24.38" height="3.88" fill="#4079b7"/>
<rect x="126.16" y="380.97" width="12.19" height="3.88" fill="#94b3d6"/>
<rect x="138.35" y="380.97" width="12.19" height="3.88" fill="#fbdede"/>
<rect x="150.54" y="380.97" width="12.19" height="3.88" fill="#f08a8a"/>
<rect x="162.73" y="380.97" width="36.57" height="3.88" fill="#c4232a"/>
<rect x="77.40" y="384.85" width="24.38" height="3.88" fill="#13559d"/>
<rect x="101.78" y="384.85" width="24.38" height="3.88" fill="#4079b7"/>
<rect x="126.16" y="384.85" width="12.19" height="3.88" fill="#fbf9f9"/>
<rect x="138.35" y="384.85" width="12.19" height="3.88" fill="#f6b6b6"/>
<rect x="150.54" y="384.85" width="12.19" height="3.88" fill="#f08a8a"/>
<rect x="162.73" y="384.85" width="36.57" height="3.88" fill="#c4232a"/>
<rect x="77.40" y="388.74" width="12.19" height="3.88" fill="#13559d"/>
<rect x="89.59" y="388.74" width="12.19" height="3.88" fill="#2866ab"/>
<rect x="101.78" y="388.74" width="24.38" height="3.88" fill="#4079b7"/>
<rect x="126.16" y="388.74" width="12.19" height="3.88" fill="#94b3d6"/>
<rect x="138.35" y="388.74" width="12.19" height="3.88" fill="#c9d9eb"/>
<rect x="150.54" y="388.74" width="12.19" height="3.88" fill="#f6b6b6"/>
<rect x="162.73" y="388.74" width="24.38" height="3.88" fill="#f08a8a"/>
<rect x="187.11" y="388.74" width="12.19" height="3.88" fill="#c4232a"/>
<rect x="77.40" y="392.62" width="12.19" height="3.88" fill="#13559d"/>
<rect x="89.59" y="392.62" width="12.19" height="3.88" fill="#2866ab"/>
<rect x="101.78" y="392.62" width="24.38" height="3.88" fill="#4079b7"/>
<rect x="126.16" y="392.62" width="12.19" height="3.88" fill="#94b3d6"/>
<rect x="138.35" y="392.62" width="12.19" height="3.88" fill="#c9d9eb"/>
<rect x="150.54" y="392.62" width="12.19" height="3.88" fill="#fbdede"/>
<rect x="162.73" y="392.62" width="24.38" height="3.88" fill="#f08a8a"/>
<rect x="187.11" y="392.62" width="12.19" height="3.88" fill="#c4232a"/>
<rect x="77.40" y="398.40" width="12.19" height="3.88" fill="#13559d"/>
<rect x="89.59" y="398.40" width="12.19" height="3.88" fill="#4079b7"/>
<rect x="101.78" y="398.40" width="12.19" height="3.88" fill="#6692c2"/>
<rect x="113.97" y="398.40" width="12.19" height="3.88" fill="#fbf9f9"/>
<rect x="126.16" y="398.40" width="12.19" height="3.88" fill="#fbdede"/>
<rect x="138.35" y="398.40" width="12.19" height="3.88" fill="#f08a8a"/>
<rect x="150.54" y="398.40" width="48.76" height="3.88" fill="#c4232a"/>
<rect x="77.40" y="402.29" width="12.19" height="3.88" fill="#13559d"/>
<rect x="89.59" y="402.29" width="12.19" height="3.88" fill="#4079b7"/>
<rect x="101.78" y="402.29" width="12.19" height="3.88" fill="#6692c2"/>
<rect x="113.97" y="402.29" width="12.19" height="3.88" fill="#fbf9f9"/>
<rect x="126.16" y="402.29" width="12.19" height="3.88" fill="#fbdede"/>
<rect x="138.35" y="402.29" width="12.19" height="3.88" fill="#f08a8a"/>
<rect x="150.54" y="402.29" width="48.76" height="3.88" fill="#c4232a"/>
<rect x="77.40" y="406.17" width="12.19" height="3.88" fill="#13559d"/>
<rect x="89.59" y="406.17" width="12.19" height="3.88" fill="#4079b7"/>
<rect x="101.78" y="406.17" width="24.38" height="3.88" fill="#6692c2"/>
<rect x="126.16" y="406.17" width="12.19" height="3.88" fill="#94b3d6"/>
<rect x="138.35" y="406.17" width="12.19" height="3.88" fill="#fbf9f9"/>
<rect x="150.54" y="406.17" width="12.19" height="3.88" fill="#fbdede"/>
<rect x="162.73" y="406.17" width="24.38" height="3.88" fill="#f6b6b6"/>
<rect x="187.11" y="406.17" width="12.19" height="3.88" fill="#e2352f"/>
<rect x="77.40" y="410.05" width="12.19" height="3.88" fill="#13559d"/>
<rect x="89.59" y="410.05" width="12.19" height="3.88" fill="#4079b7"/>
<rect x="101.78" y="410.05" width="24.38" height="3.88" fill="#6692c2"/>
<rect x="126.16" y="410.05" width="12.19" height="3.88" fill="#c9d9eb"/>
<rect x="138.35" y="410.05" width="12.19" height="3.88" fill="#fbf9f9"/>
<rect x="150.54" y="410.05" width="12.19" height="3.88" fill="#fbdede"/>
<rect x="162.73" y="410.05" width="12.19" height="3.88" fill="#f6b6b6"/>
<rect x="174.92" y="410.05" width="12.19" height="3.88" fill="#f08a8a"/>
<rect x="187.11" y="410.05" width="12.19" height="3.88" fill="#ec6868"/>
<rect x="77.40" y="415.84" width="12.19" height="3.88" fill="#13559d"/>
<rect x="89.59" y="415.84" width="12.19" height="3.88" fill="#4079b7"/>
<rect x="101.78" y="415.84" width="12.19" height="3.88" fill="#6692c2"/>
<rect x="113.97" y="415.84" width="12.19" height="3.88" fill="#c9d9eb"/>
<rect x="126.16" y="415.84" width="12.19" height="3.88" fill="#fbdede"/>
<rect x="138.35" y="415.84" width="12.19" height="3.88" fill="#f6b6b6"/>
<rect x="150.54" y="415.84" width="12.19" height="3.88" fill="#ec6868"/>
<rect x="162.73" y="415.84" width="36.57" height="3.88" fill="#c4232a"/>
<rect x="77.40" y="419.72" width="12.19" height="3.88" fill="#13559d"/>
<rect x="89.59" y="419.72" width="12.19" height="3.88" fill="#4079b7"/>
<rect x="101.78" y="419.72" width="12.19" height="3.88" fill="#fbf9f9"/>
<rect x="113.97" y="419.72" width="24.38" height="3.88" fill="#fbdede"/>
<rect x="138.35" y="419.72" width="12.19" height="3.88" fill="#f6b6b6"/>
<rect x="150.54" y="419.72" width="48.76" height="3.88" fill="#c4232a"/>
<rect x="77.40" y="423.61" width="12.19" height="3.88" fill="#13559d"/>
<rect x="89.59" y="423.61" width="12.19" height="3.88" fill="#4079b7"/>
<rect x="101.78" y="423.61" width="12.19" height="3.88" fill="#94b3d6"/>
<rect x="113.97" y="423.61" width="12.19" height="3.88" fill="#c9d9eb"/>
<rect x="126.16" y="423.61" width="12.19" height="3.88" fill="#fbf9f9"/>
<rect x="138.35" y="423.61" width="12.19" height="3.88" fill="#fbdede"/>
<rect x="150.54" y="423.61" width="24.38" height="3.88" fill="#f6b6b6"/>
<rect x="174.92" y="423.61" width="12.19" height="3.88" fill="#e2352f"/>
<rect x="187.11" y="423.61" width="12.19" height="3.88" fill="#c4232a"/>
<rect x="77.40" y="427.49" width="12.19" height="3.88" fill="#13559d"/>
<rect x="89.59" y="427.49" width="12.19" height="3.88" fill="#4079b7"/>
<rect x="101.78" y="427.49" width="12.19" height="3.88" fill="#94b3d6"/>
<rect x="113.97" y="427.49" width="24.38" height="3.88" fill="#fbf9f9"/>
<rect x="138.35" y="427.49" width="12.19" height="3.88" fill="#fbdede"/>
<rect x="150.54" y="427.49" width="24.38" height="3.88" fill="#f6b6b6"/>
<rect x="174.92" y="427.49" width="12.19" height="3.88" fill="#f08a8a"/>
<rect x="187.11" y="427.49" width="12.19" height="3.88" fill="#c4232a"/>
<rect x="77.40" y="433.27" width="12.19" height="3.88" fill="#13559d"/>
<rect x="89.59" y="433.27" width="24.38" height="3.88" fill="#4079b7"/>
<rect x="113.97" y="433.27" width="12.19" height="3.88" fill="#6692c2"/>
<rect x="126.16" y="433.27" width="12.19" height="3.88" fill="#fbf9f9"/>
<rect x="138.35" y="433.27" width="12.19" height="3.88" fill="#f6b6b6"/>
<rect x="150.54" y="433.27" width="12.19" height="3.88" fill="#f08a8a"/>
<rect x="162.73" y="433.27" width="36.57" height="3.88" fill="#c4232a"/>
<rect x="77.40" y="437.16" width="12.19" height="3.88" fill="#13559d"/>
<rect x="89.59" y="437.16" width="24.38" height="3.88" fill="#4079b7"/>
<rect x="113.97" y="437.16" width="12.19" height="3.88" fill="#c9d9eb"/>
<rect x="126.16" y="437.16" width="12.19" height="3.88" fill="#fbf9f9"/>
<rect x="138.35" y="437.16" width="12.19" height="3.88" fill="#f6b6b6"/>
<rect x="150.54" y="437.16" width="12.19" height="3.88" fill="#f08a8a"/>
<rect x="162.73" y="437.16" width="36.57" height="3.88" fill="#c4232a"/>
<rect x="77.40" y="441.04" width="12.19" height="3.88" fill="#13559d"/>
<rect x="89.59" y="441.04" width="12.19" height="3.88" fill="#4079b7"/>
<rect x="101.78" y="441.04" width="24.38" height="3.88" fill="#6692c2"/>
<rect x="126.16" y="441.04" width="12.19" height="3.88" fill="#c9d9eb"/>
<rect x="138.35" y="441.04" width="12.19" height="3.88" fill="#f6b6b6"/>
<rect x="150.54" y="441.04" width="12.19" height="3.88" fill="#f08a8a"/>
<rect x="162.73" y="441.04" width="36.57" height="3.88" fill="#c4232a"/>
<rect x="77.40" y="444.92" width="12.19" height="3.88" fill="#13559d"/>
<rect x="89.59" y="444.92" width="36.57" height="3.88" fill="#4079b7"/>
<rect x="126.16" y="444.92" width="12.19" height="3.88" fill="#c9d9eb"/>
<rect x="138.35" y="444.92" width="12.19" height="3.88" fill="#fbdede"/>
<rect x="150.54" y="444.92" width="24.38" height="3.88" fill="#f6b6b6"/>
<rect x="174.92" y="444.92" width="12.19" height="3.88" fill="#f08a8a"/>
<rect x="187.11" y="444.92" width="12.19" height="3.88" fill="#c4232a"/>
<rect x="77.40" y="450.71" width="12.19" height="3.88" fill="#13559d"/>
<rect x="89.59" y="450.71" width="12.19" height="3.88" fill="#4079b7"/>
<rect x="101.78" y="450.71" width="12.19" height="3.88" fill="#6692c2"/>
<rect x="113.97" y="450.71" width="12.19" height="3.88" fill="#94b3d6"/>
<rect x="126.16" y="450.71" width="12.19" height="3.88" fill="#fbf9f9"/>
<rect x="138.35" y="450.71" width="12.19" height="3.88" fill="#fbdede"/>
<rect x="150.54" y="450.71" width="12.19" height="3.88" fill="#e2352f"/>
<rect x="162.73" y="450.71" width="36.57" height="3.88" fill="#c4232a"/>
<rect x="77.40" y="454.59" width="12.19" height="3.88" fill="#13559d"/>
<rect x="89.59" y="454.59" width="12.19" height="3.88" fill="#4079b7"/>
<rect x="101.78" y="454.59" width="12.19" height="3.88" fill="#6692c2"/>
<rect x="113.97" y="454.59" width="24.38" height="3.88" fill="#94b3d6"/>
<rect x="138.35" y="454.59" width="12.19" height="3.88" fill="#fbf9f9"/>
<rect x="150.54" y="454.59" width="12.19" height="3.88" fill="#fbdede"/>
<rect x="162.73" y="454.59" width="36.57" height="3.88" fill="#c4232a"/>
<rect x="77.40" y="458.47" width="12.19" height="3.88" fill="#13559d"/>
<rect x="89.59" y="458.47" width="24.38" height="3.88" fill="#4079b7"/>
<rect x="113.97" y="458.47" width="12.19" height="3.88" fill="#6692c2"/>
<rect x="126.16" y="458.47" width="24.38" height="3.88" fill="#94b3d6"/>
<rect x="150.54" y="458.47" width="12.19" height="3.88" fill="#c9d9eb"/>
<rect x="162.73" y="458.47" width="12.19" height="3.88" fill="#f6b6b6"/>
<rect x="174.92" y="458.47" width="12.19" height="3.88" fill="#f08a8a"/>
<rect x="187.11" y="458.47" width="12.19" height="3.88" fill="#c4232a"/>
<rect x="77.40" y="462.36" width="12.19" height="3.88" fill="#13559d"/>
<rect x="89.59" y="462.36" width="36.57" height="3.88" fill="#4079b7"/>
<rect x="126.16" y="462.36" width="12.19" height="3.88" fill="#6692c2"/>
<rect x="138.35" y="462.36" width="12.19" height="3.88" fill="#4079b7"/>
<rect x="150.54" y="462.36" width="12.19" height="3.88" fill="#6692c2"/>
<rect x="162.73" y="462.36" width="12.19" height="3.88" fill="#fbdede"/>
<rect x="174.92" y="462.36" width="12.19" height="3.88" fill="#f6b6b6"/>
<rect x="187.11" y="462.36" width="12.19" height="3.88" fill="#c4232a"/>
<rect x="77.40" y="468.14" width="12.19" height="3.88" fill="#13559d"/>
<rect x="89.59" y="468.14" width="24.38" height="3.88" fill="#4079b7"/>
<rect x="113.97" y="468.14" width="12.19" height="3.88" fill="#c9d9eb"/>
<rect x="126.16" y="468.14" width="12.19" height="3.88" fill="#fbdede"/>
<rect x="138.35" y="468.14" width="12.19" height="3.88" fill="#f6b6b6"/>
<rect x="150.54" y="468.14" width="12.19" height="3.88" fill="#ec6868"/>
<rect x="162.73" y="468.14" width="36.57" height="3.88" fill="#c4232a"/>
<rect x="77.40" y="472.03" width="12.19" height="3.88" fill="#13559d"/>
<rect x="89.59" y="472.03" width="24.38" height="3.88" fill="#4079b7"/>
<rect x="113.97" y="472.03" width="12.19" height="3.88" fill="#fbf9f9"/>
<rect x="126.16" y="472.03" width="12.19" height="3.88" fill="#fbdede"/>
<rect x="138.35" y="472.03" width="36.57" height="3.88" fill="#f6b6b6"/>
<rect x="174.92" y="472.03" width="12.19" height="3.88" fill="#f08a8a"/>
<rect x="187.11" y="472.03" width="12.19" height="3.88" fill="#c4232a"/>
<rect x="77.40" y="475.91" width="12.19" height="3.88" fill="#13559d"/>
<rect x="89.59" y="475.91" width="24.38" height="3.88" fill="#4079b7"/>
<rect x="113.97" y="475.91" width="12.19" height="3.88" fill="#c9d9eb"/>
<rect x="126.16" y="475.91" width="36.57" height="3.88" fill="#fbdede"/>
<rect x="162.73" y="475.91" width="12.19" height="3.88" fill="#f6b6b6"/>
<rect x="174.92" y="475.91" width="24.38" height="3.88" fill="#e2352f"/>
<rect x="77.40" y="479.79" width="12.19" height="3.88" fill="#13559d"/>
<rect x="89.59" y="479.79" width="12.19" height="3.88" fill="#4079b7"/>
<rect x="101.78" y="479.79" width="12.19" height="3.88" fill="#6692c2"/>
<rect x="113.97" y="479.79" width="12.19" height="3.88" fill="#c9d9eb"/>
<rect x="126.16" y="479.79" width="12.19" height="3.88" fill="#fbf9f9"/>
<rect x="138.35" y="479.79" width="36.57" height="3.88" fill="#fbdede"/>
<rect x="174.92" y="479.79" width="12.19" height="3.88" fill="#f6b6b6"/>
<rect x="187.11" y="479.79" width="12.19" height="3.88" fill="#f08a8a"/>
<rect x="77.40" y="485.58" width="12.19" height="3.88" fill="#13559d"/>
<rect x="89.59" y="485.58" width="24.38" height="3.88" fill="#4079b7"/>
<rect x="113.97" y="485.58" width="12.19" height="3.88" fill="#c9d9eb"/>
<rect x="126.16" y="485.58" width="24.38" height="3.88" fill="#fbdede"/>
<rect x="150.54" y="485.58" width="24.38" height="3.88" fill="#f6b6b6"/>
<rect x="174.92" y="485.58" width="24.38" height="3.88" fill="#c4232a"/>
<rect x="77.40" y="489.46" width="12.19" height="3.88" fill="#13559d"/>
<rect x="89.59" y="489.46" width="24.38" height="3.88" fill="#4079b7"/>
<rect x="113.97" y="489.46" width="12.19" height="3.88" fill="#94b3d6"/>
<rect x="126.16" y="489.46" width="24.38" height="3.88" fill="#fbf9f9"/>
<rect x="150.54" y="489.46" width="12.19" height="3.88" fill="#fbdede"/>
<rect x="162.73" y="489.46" width="24.38" height="3.88" fill="#f6b6b6"/>
<rect x="187.11" y="489.46" width="12.19" height="3.88" fill="#f08a8a"/>
<rect x="77.40" y="493.34" width="12.19" height="3.88" fill="#13559d"/>
<rect x="89.59" y="493.34" width="24.38" height="3.88" fill="#4079b7"/>
<rect x="113.97" y="493.34" width="12.19" height="3.88" fill="#6692c2"/>
<rect x="126.16" y="493.34" width="12.19" height="3.88" fill="#94b3d6"/>
<rect x="138.35" y="493.34" width="36.57" height="3.88" fill="#fbf9f9"/>
<rect x="174.92" y="493.34" width="12.19" height="3.88" fill="#f6b6b6"/>
<rect x="187.11" y="493.34" width="12.19" height="3.88" fill="#ec6868"/>
<rect x="77.40" y="497.23" width="12.19" height="3.88" fill="#13559d"/>
<rect x="89.59" y="497.23" width="12.19" height="3.88" fill="#2866ab"/>
<rect x="101.78" y="497.23" width="24.38" height="3.88" fill="#4079b7"/>
<rect x="126.16" y="497.23" width="12.19" height="3.88" fill="#6692c2"/>
<rect x="138.35" y="497.23" width="60.95" height="3.88" fill="#13559d"/>
<rect x="77.40" y="503.01" width="12.19" height="3.88" fill="#13559d"/>
<rect x="89.59" y="503.01" width="12.19" height="3.88" fill="#2866ab"/>
<rect x="101.78" y="503.01" width="12.19" height="3.88" fill="#4079b7"/>
<rect x="113.97" y="503.01" width="12.19" height="3.88" fill="#c9d9eb"/>
<rect x="126.16" y="503.01" width="12.19" height="3.88" fill="#fbdede"/>
<rect x="138.35" y="503.01" width="36.57" height="3.88" fill="#f6b6b6"/>
<rect x="174.92" y="503.01" width="24.38" height="3.88" fill="#c4232a"/>
<rect x="77.40" y="506.90" width="12.19" height="3.88" fill="#13559d"/>
<rect x="89.59" y="506.90" width="24.38" height="3.88" fill="#2866ab"/>
<rect x="113.97" y="506.90" width="12.19" height="3.88" fill="#94b3d6"/>
<rect x="126.16" y="506.90" width="24.38" height="3.88" fill="#fbdede"/>
<rect x="150.54" y="506.90" width="24.38" height="3.88" fill="#f6b6b6"/>
<rect x="174.92" y="506.90" width="12.19" height="3.88" fill="#ec6868"/>
<rect x="187.11" y="506.90" width="12.19" height="3.88" fill="#c4232a"/>
<rect x="77.40" y="510.78" width="12.19" height="3.88" fill="#13559d"/>
<rect x="89.59" y="510.78" width="12.19" height="3.88" fill="#2866ab"/>
<rect x="101.78" y="510.78" width="12.19" height="3.88" fill="#4079b7"/>
<rect x="113.97" y="510.78" width="12.19" height="3.88" fill="#6692c2"/>
<rect x="126.16" y="510.78" width="12.19" height="3.88" fill="#fbf9f9"/>
<rect x="138.35" y="510.78" width="24.38" height="3.88" fill="#fbdede"/>
<rect x="162.73" y="510.78" width="24.38" height="3.88" fill="#f6b6b6"/>
<rect x="187.11" y="510.78" width="12.19" height="3.88" fill="#f08a8a"/>
<rect x="77.40" y="514.66" width="12.19" height="3.88" fill="#13559d"/>
<rect x="89.59" y="514.66" width="12.19" height="3.88" fill="#2866ab"/>
<rect x="101.78" y="514.66" width="73.14" height="3.88" fill="#4079b7"/>
<rect x="174.92" y="514.66" width="12.19" height="3.88" fill="#2866ab"/>
<rect x="187.11" y="514.66" width="12.19" height="3.88" fill="#6692c2"/>
<rect x="77.40" y="520.45" width="12.19" height="3.88" fill="#13559d"/>
<rect x="89.59" y="520.45" width="24.38" height="3.88" fill="#4079b7"/>
<rect x="113.97" y="520.45" width="12.19" height="3.88" fill="#fbf9f9"/>
<rect x="126.16" y="520.45" width="12.19" height="3.88" fill="#fbdede"/>
<rect x="138.35" y="520.45" width="12.19" height="3.88" fill="#f6b6b6"/>
<rect x="150.54" y="520.45" width="12.19" height="3.88" fill="#ec6868"/>
<rect x="162.73" y="520.45" width="36.57" height="3.88" fill="#c4232a"/>
<rect x="77.40" y="524.33" width="12.19" height="3.88" fill="#13559d"/>
<rect x="89.59" y="524.33" width="24.38" height="3.88" fill="#4079b7"/>
<rect x="113.97" y="524.33" width="12.19" height="3.88" fill="#94b3d6"/>
<rect x="126.16" y="524.33" width="12.19" height="3.88" fill="#fbf9f9"/>
<rect x="138.35" y="524.33" width="24.38" height="3.88" fill="#fbdede"/>
<rect x="162.73" y="524.33" width="24.38" height="3.88" fill="#f6b6b6"/>
<rect x="187.11" y="524.33" width="12.19" height="3.88" fill="#f08a8a"/>
<rect x="77.40" y="528.21" width="12.19" height="3.88" fill="#13559d"/>
<rect x="89.59" y="528.21" width="24.38" height="3.88" fill="#4079b7"/>
<rect x="113.97" y="528.21" width="12.19" height="3.88" fill="#94b3d6"/>
<rect x="126.16" y="528.21" width="36.57" height="3.88" fill="#fbf9f9"/>
<rect x="162.73" y="528.21" width="12.19" height="3.88" fill="#fbdede"/>
<rect x="174.92" y="528.21" width="12.19" height="3.88" fill="#f6b6b6"/>
<rect x="187.11" y="528.21" width="12.19" height="3.88" fill="#f08a8a"/>
<rect x="77.40" y="532.10" width="12.19" height="3.88" fill="#13559d"/>
<rect x="89.59" y="532.10" width="12.19" height="3.88" fill="#4079b7"/>
<rect x="101.78" y="532.10" width="24.38" height="3.88" fill="#6692c2"/>
<rect x="126.16" y="532.10" width="24.38" height="3.88" fill="#c9d9eb"/>
<rect x="150.54" y="532.10" width="12.19" height="3.88" fill="#fbf9f9"/>
<rect x="162.73" y="532.10" width="24.38" height="3.88" fill="#fbdede"/>
<rect x="187.11" y="532.10" width="12.19" height="3.88" fill="#f6b6b6"/>
<rect x="77.40" y="537.88" width="12.19" height="3.88" fill="#13559d"/>
<rect x="89.59" y="537.88" width="12.19" height="3.88" fill="#4079b7"/>
<rect x="101.78" y="537.88" width="12.19" height="3.88" fill="#c9d9eb"/>
<rect x="113.97" y="537.88" width="12.19" height="3.88" fill="#94b3d6"/>
<rect x="126.16" y="537.88" width="12.19" height="3.88" fill="#c9d9eb"/>
<rect x="138.35" y="537.88" width="12.19" height="3.88" fill="#fbf9f9"/>
<rect x="150.54" y="537.88" width="12.19" height="3.88" fill="#f08a8a"/>
<rect x="162.73" y="537.88" width="36.57" height="3.88" fill="#c4232a"/>
<rect x="77.40" y="541.76" width="12.19" height="3.88" fill="#13559d"/>
<rect x="89.59" y="541.76" width="36.57" height="3.88" fill="#4079b7"/>
<rect x="126.16" y="541.76" width="12.19" height="3.88" fill="#94b3d6"/>
<rect x="138.35" y="541.76" width="12.19" height="3.88" fill="#c9d9eb"/>
<rect x="150.54" y="541.76" width="12.19" height="3.88" fill="#fbdede"/>
<rect x="162.73" y="541.76" width="24.38" height="3.88" fill="#f6b6b6"/>
<rect x="187.11" y="541.76" width="12.19" height="3.88" fill="#f08a8a"/>
<rect x="77.40" y="545.65" width="12.19" height="3.88" fill="#13559d"/>
<rect x="89.59" y="545.65" width="12.19" height="3.88" fill="#2866ab"/>
<rect x="101.78" y="545.65" width="12.19" height="3.88" fill="#4079b7"/>
<rect x="113.97" y="545.65" width="24.38" height="3.88" fill="#6692c2"/>
<rect x="138.35" y="545.65" width="12.19" height="3.88" fill="#c9d9eb"/>
<rect x="150.54" y="545.65" width="12.19" height="3.88" fill="#fbf9f9"/>
<rect x="162.73" y="545.65" width="12.19" height="3.88" fill="#fbdede"/>
<rect x="174.92" y="545.65" width="12.19" height="3.88" fill="#f6b6b6"/>
<rect x="187.11" y="545.65" width="12.19" height="3.88" fill="#f08a8a"/>
<rect x="77.40" y="549.53" width="12.19" height="3.88" fill="#13559d"/>
<rect x="89.59" y="549.53" width="12.19" height="3.88" fill="#4079b7"/>
<rect x="101.78" y="549.53" width="24.38" height="3.88" fill="#6692c2"/>
<rect x="126.16" y="549.53" width="12.19" height="3.88" fill="#94b3d6"/>
<rect x="138.35" y="549.53" width="24.38" height="3.88" fill="#c9d9eb"/>
<rect x="162.73" y="549.53" width="12.19" height="3.88" fill="#fbf9f9"/>
<rect x="174.92" y="549.53" width="12.19" height="3.88" fill="#fbdede"/>
<rect x="187.11" y="549.53" width="12.19" height="3.88" fill="#f6b6b6"/>
<rect x="77.40" y="555.32" width="12.19" height="3.88" fill="#13559d"/>
<rect x="89.59" y="555.32" width="12.19" height="3.88" fill="#2866ab"/>
<rect x="101.78" y="555.32" width="12.19" height="3.88" fill="#4079b7"/>
<rect x="113.97" y="555.32" width="24.38" height="3.88" fill="#fbf9f9"/>
<rect x="138.35" y="555.32" width="24.38" height="3.88" fill="#f6b6b6"/>
<rect x="162.73" y="555.32" width="36.57" height="3.88" fill="#c4232a"/>
<rect x="77.40" y="559.20" width="12.19" height="3.88" fill="#13559d"/>
<rect x="89.59" y="559.20" width="12.19" height="3.88" fill="#2866ab"/>
<rect x="101.78" y="559.20" width="12.19" height="3.88" fill="#4079b7"/>
<rect x="113.97" y="559.20" width="12.19" height="3.88" fill="#fbf9f9"/>
<rect x="126.16" y="559.20" width="24.38" height="3.88" fill="#fbdede"/>
<rect x="150.54" y="559.20" width="24.38" height="3.88" fill="#f6b6b6"/>
<rect x="174.92" y="559.20" width="12.19" height="3.88" fill="#f08a8a"/>
<rect x="187.11" y="559.20" width="12.19" height="3.88" fill="#c4232a"/>
<rect x="77.40" y="563.08" width="12.19" height="3.88" fill="#13559d"/>
<rect x="89.59" y="563.08" width="12.19" height="3.88" fill="#2866ab"/>
<rect x="101.78" y="563.08" width="12.19" height="3.88" fill="#4079b7"/>
<rect x="113.97" y="563.08" width="12.19" height="3.88" fill="#94b3d6"/>
<rect x="126.16" y="563.08" width="12.19" height="3.88" fill="#fbdede"/>
<rect x="138.35" y="563.08" width="12.19" height="3.88" fill="#fbf9f9"/>
<rect x="150.54" y="563.08" width="12.19" height="3.88" fill="#fbdede"/>
<rect x="162.73" y="563.08" width="24.38" height="3.88" fill="#f6b6b6"/>
<rect x="187.11" y="563.08" width="12.19" height="3.88" fill="#f08a8a"/>
<rect x="77.40" y="566.97" width="12.19" height="3.88" fill="#13559d"/>
<rect x="89.59" y="566.97" width="12.19" height="3.88" fill="#2866ab"/>
<rect x="101.78" y="566.97" width="12.19" height="3.88" fill="#4079b7"/>
<rect x="113.97" y="566.97" width="12.19" height="3.88" fill="#6692c2"/>
<rect x="126.16" y="566.97" width="12.19" height="3.88" fill="#c9d9eb"/>
<rect x="138.35" y="566.97" width="12.19" height="3.88" fill="#fbf9f9"/>
<rect x="150.54" y="566.97" width="12.19" height="3.88" fill="#c9d9eb"/>
<rect x="162.73" y="566.97" width="12.19" height="3.88" fill="#fbf9f9"/>
<rect x="174.92" y="566.97" width="12.19" height="3.88" fill="#fbdede"/>
<rect x="187.11" y="566.97" width="12.19" height="3.88" fill="#f6b6b6"/>
<rect x="77.40" y="572.75" width="12.19" height="3.88" fill="#13559d"/>
<rect x="89.59" y="572.75" width="12.19" height="3.88" fill="#2866ab"/>
<rect x="101.78" y="572.75" width="24.38" height="3.88" fill="#4079b7"/>
<rect x="126.16" y="572.75" width="12.19" height="3.88" fill="#6692c2"/>
<rect x="138.35" y="572.75" width="24.38" height="3.88" fill="#fbdede"/>
<rect x="162.73" y="572.75" width="12.19" height="3.88" fill="#f6b6b6"/>
<rect x="174.92" y="572.75" width="12.19" height="3.88" fill="#e2352f"/>
<rect x="187.11" y="572.75" width="12.19" height="3.88" fill="#c4232a"/>
<rect x="77.40" y="576.63" width="12.19" height="3.88" fill="#13559d"/>
<rect x="89.59" y="576.63" width="12.19" height="3.88" fill="#2866ab"/>
<rect x="101.78" y="576.63" width="12.19" height="3.88" fill="#4079b7"/>
<rect x="113.97" y="576.63" width="12.19" height="3.88" fill="#6692c2"/>
<rect x="126.16" y="576.63" width="12.19" height="3.88" fill="#c9d9eb"/>
<rect x="138.35" y="576.63" width="12.19" height="3.88" fill="#fbf9f9"/>
<rect x="150.54" y="576.63" width="12.19" height="3.88" fill="#fbdede"/>
<rect x="162.73" y="576.63" width="24.38" height="3.88" fill="#f6b6b6"/>
<rect x="187.11" y="576.63" width="12.19" height="3.88" fill="#f08a8a"/>
<rect x="77.40" y="580.52" width="12.19" height="3.88" fill="#13559d"/>
<rect x="89.59" y="580.52" width="12.19" height="3.88" fill="#2866ab"/>
<rect x="101.78" y="580.52" width="12.19" height="3.88" fill="#4079b7"/>
<rect x="113.97" y="580.52" width="24.38" height="3.88" fill="#6692c2"/>
<rect x="138.35" y="580.52" width="12.19" height="3.88" fill="#c9d9eb"/>
<rect x="150.54" y="580.52" width="24.38" height="3.88" fill="#fbf9f9"/>
<rect x="174.92" y="580.52" width="12.19" height="3.88" fill="#fbdede"/>
<rect x="187.11" y="580.52" width="12.19" height="3.88" fill="#f6b6b6"/>
<rect x="77.40" y="584.40" width="12.19" height="3.88" fill="#13559d"/>
<rect x="89.59" y="584.40" width="12.19" height="3.88" fill="#2866ab"/>
<rect x="101.78" y="584.40" width="36.57" height="3.88" fill="#4079b7"/>
<rect x="138.35" y="584.40" width="36.57" height="3.88" fill="#6692c2"/>
<rect x="174.92" y="584.40" width="24.38" height="3.88" fill="#4079b7"/>
<rect x="77.40" y="590.18" width="12.19" height="3.88" fill="#13559d"/>
<rect x="89.59" y="590.18" width="12.19" height="3.88" fill="#2866ab"/>
<rect x="101.78" y="590.18" width="12.19" height="3.88" fill="#4079b7"/>
<rect x="113.97" y="590.18" width="36.57" height="3.88" fill="#94b3d6"/>
<rect x="150.54" y="590.18" width="12.19" height="3.88" fill="#fbdede"/>
<rect x="162.73" y="590.18" width="12.19" height="3.88" fill="#f6b6b6"/>
<rect x="174.92" y="590.18" width="12.19" height="3.88" fill="#f08a8a"/>
<rect x="187.11" y="590.18" width="12.19" height="3.88" fill="#ec6868"/>
<rect x="77.40" y="594.07" width="12.19" height="3.88" fill="#13559d"/>
<rect x="89.59" y="594.07" width="24.38" height="3.88" fill="#2866ab"/>
<rect x="113.97" y="594.07" width="24.38" height="3.88" fill="#6692c2"/>
<rect x="138.35" y="594.07" width="24.38" height="3.88" fill="#94b3d6"/>
<rect x="162.73" y="594.07" width="12.19" height="3.88" fill="#6692c2"/>
<rect x="174.92" y="594.07" width="12.19" height="3.88" fill="#fbf9f9"/>
<rect x="187.11" y="594.07" width="12.19" height="3.88" fill="#fbdede"/>
<rect x="77.40" y="597.95" width="12.19" height="3.88" fill="#13559d"/>
<rect x="89.59" y="597.95" width="12.19" height="3.88" fill="#2866ab"/>
<rect x="101.78" y="597.95" width="12.19" height="3.88" fill="#c9d9eb"/>
<rect x="113.97" y="597.95" width="24.38" height="3.88" fill="#6692c2"/>
<rect x="138.35" y="597.95" width="12.19" height="3.88" fill="#94b3d6"/>
<rect x="150.54" y="597.95" width="12.19" height="3.88" fill="#c9d9eb"/>
<rect x="162.73" y="597.95" width="24.38" height="3.88" fill="#fbf9f9"/>
<rect x="187.11" y="597.95" width="12.19" height="3.88" fill="#fbdede"/>
<rect x="77.40" y="601.84" width="12.19" height="3.88" fill="#13559d"/>
<rect x="89.59" y="601.84" width="12.19" height="3.88" fill="#2866ab"/>
<rect x="101.78" y="601.84" width="97.52" height="3.88" fill="#4079b7"/>
<rect x="77.40" y="607.62" width="12.19" height="3.88" fill="#13559d"/>
<rect x="89.59" y="607.62" width="12.19" height="3.88" fill="#2866ab"/>
<rect x="101.78" y="607.62" width="24.38" height="3.88" fill="#6692c2"/>
<rect x="126.16" y="607.62" width="24.38" height="3.88" fill="#4079b7"/>
<rect x="150.54" y="607.62" width="24.38" height="3.88" fill="#6692c2"/>
<rect x="174.92" y="607.62" width="12.19" height="3.88" fill="#c9d9eb"/>
<rect x="187.11" y="607.62" width="12.19" height="3.88" fill="#fbf9f9"/>
<rect x="77.40" y="611.50" width="12.19" height="3.88" fill="#13559d"/>
<rect x="89.59" y="611.50" width="12.19" height="3.88" fill="#2866ab"/>
<rect x="101.78" y="611.50" width="12.19" height="3.88" fill="#6692c2"/>
<rect x="113.97" y="611.50" width="12.19" height="3.88" fill="#94b3d6"/>
<rect x="126.16" y="611.50" width="24.38" height="3.88" fill="#4079b7"/>
<rect x="150.54" y="611.50" width="24.38" height="3.88" fill="#6692c2"/>
<rect x="174.92" y="611.50" width="12.19" height="3.88" fill="#94b3d6"/>
<rect x="187.11" y="611.50" width="12.19" height="3.88" fill="#fbdede"/>
<rect x="77.40" y="615.39" width="12.19" height="3.88" fill="#13559d"/>
<rect x="89.59" y="615.39" width="12.19" height="3.88" fill="#2866ab"/>
<rect x="101.78" y="615.39" width="36.57" height="3.88" fill="#6692c2"/>
<rect x="138.35" y="615.39" width="12.19" height="3.88" fill="#4079b7"/>
<rect x="150.54" y="615.39" width="12.19" height="3.88" fill="#94b3d6"/>
<rect x="162.73" y="615.39" width="12.19" height="3.88" fill="#c9d9eb"/>
<rect x="174.92" y="615.39" width="12.19" height="3.88" fill="#94b3d6"/>
<rect x="187.11" y="615.39" width="12.19" height="3.88" fill="#fbdede"/>
<rect x="77.40" y="619.27" width="12.19" height="3.88" fill="#13559d"/>
<rect x="89.59" y="619.27" width="12.19" height="3.88" fill="#2866ab"/>
<rect x="101.78" y="619.27" width="60.95" height="3.88" fill="#4079b7"/>
<rect x="162.73" y="619.27" width="24.38" height="3.88" fill="#6692c2"/>
<rect x="187.11" y="619.27" width="12.19" height="3.88" fill="#fbf9f9"/>
<rect x="77.40" y="625.05" width="12.19" height="3.88" fill="#13559d"/>
<rect x="89.59" y="625.05" width="12.19" height="3.88" fill="#2866ab"/>
<rect x="101.78" y="625.05" width="24.38" height="3.88" fill="#4079b7"/>
<rect x="126.16" y="625.05" width="24.38" height="3.88" fill="#2866ab"/>
<rect x="150.54" y="625.05" width="12.19" height="3.88" fill="#4079b7"/>
<rect x="162.73" y="625.05" width="12.19" height="3.88" fill="#6692c2"/>
<rect x="174.92" y="625.05" width="12.19" height="3.88" fill="#94b3d6"/>
<rect x="187.11" y="625.05" width="12.19" height="3.88" fill="#fbf9f9"/>
<rect x="77.40" y="628.94" width="12.19" height="3.88" fill="#13559d"/>
<rect x="89.59" y="628.94" width="12.19" height="3.88" fill="#2866ab"/>
<rect x="101.78" y="628.94" width="24.38" height="3.88" fill="#4079b7"/>
<rect x="126.16" y="628.94" width="36.57" height="3.88" fill="#2866ab"/>
<rect x="162.73" y="628.94" width="12.19" height="3.88" fill="#6692c2"/>
<rect x="174.92" y="628.94" width="12.19" height="3.88" fill="#94b3d6"/>
<rect x="187.11" y="628.94" width="12.19" height="3.88" fill="#fbf9f9"/>
<rect x="77.40" y="632.82" width="12.19" height="3.88" fill="#13559d"/>
<rect x="89.59" y="632.82" width="12.19" height="3.88" fill="#2866ab"/>
<rect x="101.78" y="632.82" width="36.57" height="3.88" fill="#4079b7"/>
<rect x="138.35" y="632.82" width="12.19" height="3.88" fill="#2866ab"/>
<rect x="150.54" y="632.82" width="12.19" height="3.88" fill="#4079b7"/>
<rect x="162.73" y="632.82" width="12.19" height="3.88" fill="#6692c2"/>
<rect x="174.92" y="632.82" width="12.19" height="3.88" fill="#94b3d6"/>
<rect x="187.11" y="632.82" width="12.19" height="3.88" fill="#fbf9f9"/>
<rect x="77.40" y="636.70" width="12.19" height="3.88" fill="#13559d"/>
<rect x="89.59" y="636.70" width="60.95" height="3.88" fill="#2866ab"/>
<rect x="150.54" y="636.70" width="24.38" height="3.88" fill="#4079b7"/>
<rect x="174.92" y="636.70" width="12.19" height="3.88" fill="#94b3d6"/>
<rect x="187.11" y="636.70" width="12.19" height="3.88" fill="#c9d9eb"/>
<rect x="77.40" y="642.49" width="24.38" height="3.88" fill="#13559d"/>
<rect x="101.78" y="642.49" width="24.38" height="3.88" fill="#4079b7"/>
<rect x="126.16" y="642.49" width="24.38" height="3.88" fill="#2866ab"/>
<rect x="150.54" y="642.49" width="12.19" height="3.88" fill="#4079b7"/>
<rect x="162.73" y="642.49" width="12.19" height="3.88" fill="#6692c2"/>
<rect x="174.92" y="642.49" width="12.19" height="3.88" fill="#fbf9f9"/>
<rect x="187.11" y="642.49" width="12.19" height="3.88" fill="#94b3d6"/>
<rect x="77.40" y="646.37" width="12.19" height="3.88" fill="#13559d"/>
<rect x="89.59" y="646.37" width="12.19" height="3.88" fill="#2866ab"/>
<rect x="101.78" y="646.37" width="24.38" height="3.88" fill="#6692c2"/>
<rect x="126.16" y="646.37" width="36.57" height="3.88" fill="#4079b7"/>
<rect x="162.73" y="646.37" width="12.19" height="3.88" fill="#6692c2"/>
<rect x="174.92" y="646.37" width="24.38" height="3.88" fill="#94b3d6"/>
<rect x="77.40" y="650.26" width="12.19" height="3.88" fill="#13559d"/>
<rect x="89.59" y="650.26" width="12.19" height="3.88" fill="#2866ab"/>
<rect x="101.78" y="650.26" width="12.19" height="3.88" fill="#6692c2"/>
<rect x="113.97" y="650.26" width="48.76" height="3.88" fill="#4079b7"/>
<rect x="162.73" y="650.26" width="24.38" height="3.88" fill="#6692c2"/>
<rect x="187.11" y="650.26" width="12.19" height="3.88" fill="#94b3d6"/>
<rect x="77.40" y="654.14" width="12.19" height="3.88" fill="#13559d"/>
<rect x="89.59" y="654.14" width="12.19" height="3.88" fill="#2866ab"/>
<rect x="101.78" y="654.14" width="36.57" height="3.88" fill="#4079b7"/>
<rect x="138.35" y="654.14" width="24.38" height="3.88" fill="#2866ab"/>
<rect x="162.73" y="654.14" width="36.57" height="3.88" fill="#13559d"/>
<rect x="77.40" y="659.92" width="12.19" height="3.88" fill="#13559d"/>
<rect x="89.59" y="659.92" width="36.57" height="3.88" fill="#4079b7"/>
<rect x="126.16" y="659.92" width="12.19" height="3.88" fill="#94b3d6"/>
<rect x="138.35" y="659.92" width="12.19" height="3.88" fill="#fbf9f9"/>
<rect x="150.54" y="659.92" width="12.19" height="3.88" fill="#fbdede"/>
<rect x="162.73" y="659.92" width="12.19" height="3.88" fill="#f6b6b6"/>
<rect x="174.92" y="659.92" width="24.38" height="3.88" fill="#c4232a"/>
<rect x="77.40" y="663.81" width="12.19" height="3.88" fill="#13559d"/>
<rect x="89.59" y="663.81" width="36.57" height="3.88" fill="#4079b7"/>
<rect x="126.16" y="663.81" width="24.38" height="3.88" fill="#2866ab"/>
<rect x="150.54" y="663.81" width="12.19" height="3.88" fill="#4079b7"/>
<rect x="162.73" y="663.81" width="12.19" height="3.88" fill="#6692c2"/>
<rect x="174.92" y="663.81" width="12.19" height="3.88" fill="#fbf9f9"/>
<rect x="187.11" y="663.81" width="12.19" height="3.88" fill="#c9d9eb"/>
<rect x="77.40" y="667.69" width="12.19" height="3.88" fill="#13559d"/>
<rect x="89.59" y="667.69" width="24.38" height="3.88" fill="#4079b7"/>
<rect x="113.97" y="667.69" width="24.38" height="3.88" fill="#2866ab"/>
<rect x="138.35" y="667.69" width="12.19" height="3.88" fill="#13559d"/>
<rect x="150.54" y="667.69" width="12.19" height="3.88" fill="#2866ab"/>
<rect x="162.73" y="667.69" width="36.57" height="3.88" fill="#4079b7"/>
<rect x="77.40" y="671.57" width="12.19" height="3.88" fill="#13559d"/>
<rect x="89.59" y="671.57" width="24.38" height="3.88" fill="#2866ab"/>
<rect x="113.97" y="671.57" width="24.38" height="3.88" fill="#6692c2"/>
<rect x="138.35" y="671.57" width="60.95" height="3.88" fill="#2866ab"/>
<rect x="77.40" y="677.36" width="12.19" height="3.88" fill="#13559d"/>
<rect x="89.59" y="677.36" width="12.19" height="3.88" fill="#4079b7"/>
<rect x="101.78" y="677.36" width="36.57" height="3.88" fill="#6692c2"/>
<rect x="138.35" y="677.36" width="24.38" height="3.88" fill="#4079b7"/>
<rect x="162.73" y="677.36" width="12.19" height="3.88" fill="#6692c2"/>
<rect x="174.92" y="677.36" width="24.38" height="3.88" fill="#fbf9f9"/>
<rect x="77.40" y="681.24" width="12.19" height="3.88" fill="#13559d"/>
<rect x="89.59" y="681.24" width="12.19" height="3.88" fill="#4079b7"/>
<rect x="101.78" y="681.24" width="36.57" height="3.88" fill="#6692c2"/>
<rect x="138.35" y="681.24" width="24.38" height="3.88" fill="#4079b7"/>
<rect x="162.73" y="681.24" width="12.19" height="3.88" fill="#94b3d6"/>
<rect x="174.92" y="681.24" width="24.38" height="3.88" fill="#c9d9eb"/>
<rect x="77.40" y="685.12" width="12.19" height="3.88" fill="#13559d"/>
<rect x="89.59" y="685.12" width="12.19" height="3.88" fill="#4079b7"/>
<rect x="101.78" y="685.12" width="36.57" height="3.88" fill="#6692c2"/>
<rect x="138.35" y="685.12" width="36.57" height="3.88" fill="#4079b7"/>
<rect x="174.92" y="685.12" width="12.19" height="3.88" fill="#6692c2"/>
<rect x="187.11" y="685.12" width="12.19" height="3.88" fill="#94b3d6"/>
<rect x="77.40" y="689.01" width="12.19" height="3.88" fill="#13559d"/>
<rect x="89.59" y="689.01" width="12.19" height="3.88" fill="#2866ab"/>
<rect x="101.78" y="689.01" width="60.95" height="3.88" fill="#4079b7"/>
<rect x="162.73" y="689.01" width="12.19" height="3.88" fill="#2866ab"/>
<rect x="174.92" y="689.01" width="12.19" height="3.88" fill="#4079b7"/>
<rect x="187.11" y="689.01" width="12.19" height="3.88" fill="#6692c2"/>
<rect x="77.40" y="694.79" width="12.19" height="3.88" fill="#13559d"/>
<rect x="89.59" y="694.79" width="12.19" height="3.88" fill="#2866ab"/>
<rect x="101.78" y="694.79" width="36.57" height="3.88" fill="#4079b7"/>
<rect x="138.35" y="694.79" width="12.19" height="3.88" fill="#6692c2"/>
<rect x="150.54" y="694.79" width="12.19" height="3.88" fill="#94b3d6"/>
<rect x="162.73" y="694.79" width="12.19" height="3.88" fill="#fbf9f9"/>
<rect x="174.92" y="694.79" width="12.19" height="3.88" fill="#fbdede"/>
<rect x="187.11" y="694.79" width="12.19" height="3.88" fill="#f08a8a"/>
<rect x="77.40" y="698.68" width="12.19" height="3.88" fill="#13559d"/>
<rect x="89.59" y="698.68" width="12.19" height="3.88" fill="#2866ab"/>
<rect x="101.78" y="698.68" width="24.38" height="3.88" fill="#4079b7"/>
<rect x="126.16" y="698.68" width="36.57" height="3.88" fill="#2866ab"/>
<rect x="162.73" y="698.68" width="12.19" height="3.88" fill="#4079b7"/>
<rect x="174.92" y="698.68" width="12.19" height="3.88" fill="#6692c2"/>
<rect x="187.11" y="698.68" width="12.19" height="3.88" fill="#94b3d6"/>
<rect x="77.40" y="702.56" width="12.19" height="3.88" fill="#13559d"/>
<rect x="89.59" y="702.56" width="97.52" height="3.88" fill="#2866ab"/>
<rect x="187.11" y="702.56" width="12.19" height="3.88" fill="#13559d"/>
<rect x="77.40" y="706.44" width="12.19" height="3.88" fill="#13559d"/>
<rect x="89.59" y="706.44" width="48.76" height="3.88" fill="#2866ab"/>
<rect x="138.35" y="706.44" width="60.95" height="3.88" fill="#13559d"/>
<rect x="77.40" y="712.23" width="12.19" height="3.88" fill="#13559d"/>
<rect x="89.59" y="712.23" width="12.19" height="3.88" fill="#2866ab"/>
<rect x="101.78" y="712.23" width="12.19" height="3.88" fill="#4079b7"/>
<rect x="113.97" y="712.23" width="12.19" height="3.88" fill="#6692c2"/>
<rect x="126.16" y="712.23" width="12.19" height="3.88" fill="#c9d9eb"/>
<rect x="138.35" y="712.23" width="24.38" height="3.88" fill="#fbdede"/>
<rect x="162.73" y="712.23" width="12.19" height="3.88" fill="#f6b6b6"/>
<rect x="174.92" y="712.23" width="12.19" height="3.88" fill="#e2352f"/>
<rect x="187.11" y="712.23" width="12.19" height="3.88" fill="#c4232a"/>
<rect x="77.40" y="716.11" width="12.19" height="3.88" fill="#13559d"/>
<rect x="89.59" y="716.11" width="12.19" height="3.88" fill="#2866ab"/>
<rect x="101.78" y="716.11" width="12.19" height="3.88" fill="#4079b7"/>
<rect x="113.97" y="716.11" width="12.19" height="3.88" fill="#94b3d6"/>
<rect x="126.16" y="716.11" width="24.38" height="3.88" fill="#4079b7"/>
<rect x="150.54" y="716.11" width="48.76" height="3.88" fill="#2866ab"/>
<rect x="77.40" y="719.99" width="12.19" height="3.88" fill="#13559d"/>
<rect x="89.59" y="719.99" width="12.19" height="3.88" fill="#2866ab"/>
<rect x="101.78" y="719.99" width="12.19" height="3.88" fill="#4079b7"/>
<rect x="113.97" y="719.99" width="12.19" height="3.88" fill="#94b3d6"/>
<rect x="126.16" y="719.99" width="24.38" height="3.88" fill="#4079b7"/>
<rect x="150.54" y="719.99" width="24.38" height="3.88" fill="#2866ab"/>
<rect x="174.92" y="719.99" width="24.38" height="3.88" fill="#13559d"/>
<rect x="77.40" y="723.88" width="12.19" height="3.88" fill="#13559d"/>
<rect x="89.59" y="723.88" width="24.38" height="3.88" fill="#2866ab"/>
<rect x="113.97" y="723.88" width="12.19" height="3.88" fill="#94b3d6"/>
<rect x="126.16" y="723.88" width="12.19" height="3.88" fill="#4079b7"/>
<rect x="138.35" y="723.88" width="36.57" height="3.88" fill="#2866ab"/>
<rect x="174.92" y="723.88" width="24.38" height="3.88" fill="#13559d"/>
<rect x="77.40" y="729.66" width="12.19" height="3.88" fill="#13559d"/>
<rect x="89.59" y="729.66" width="24.38" height="3.88" fill="#2866ab"/>
<rect x="113.97" y="729.66" width="12.19" height="3.88" fill="#4079b7"/>
<rect x="126.16" y="729.66" width="12.19" height="3.88" fill="#6692c2"/>
<rect x="138.35" y="729.66" width="48.76" height="3.88" fill="#fbf9f9"/>
<rect x="187.11" y="729.66" width="12.19" height="3.88" fill="#fbdede"/>
<rect x="77.40" y="733.55" width="12.19" height="3.88" fill="#13559d"/>
<rect x="89.59" y="733.55" width="24.38" height="3.88" fill="#2866ab"/>
<rect x="113.97" y="733.55" width="24.38" height="3.88" fill="#4079b7"/>
<rect x="138.35" y="733.55" width="12.19" height="3.88" fill="#13559d"/>
<rect x="150.54" y="733.55" width="24.38" height="3.88" fill="#2866ab"/>
<rect x="174.92" y="733.55" width="12.19" height="3.88" fill="#4079b7"/>
<rect x="187.11" y="733.55" width="12.19" height="3.88" fill="#2866ab"/>
<rect x="77.40" y="737.43" width="12.19" height="3.88" fill="#13559d"/>
<rect x="89.59" y="737.43" width="36.57" height="3.88" fill="#2866ab"/>
<rect x="126.16" y="737.43" width="12.19" height="3.88" fill="#4079b7"/>
<rect x="138.35" y="737.43" width="12.19" height="3.88" fill="#6692c2"/>
<rect x="150.54" y="737.43" width="24.38" height="3.88" fill="#4079b7"/>
<rect x="174.92" y="737.43" width="24.38" height="3.88" fill="#2866ab"/>
<rect x="77.40" y="741.31" width="12.19" height="3.88" fill="#13559d"/>
<rect x="89.59" y="741.31" width="12.19" height="3.88" fill="#2866ab"/>
<rect x="101.78" y="741.31" width="24.38" height="3.88" fill="#4079b7"/>
<rect x="126.16" y="741.31" width="12.19" height="3.88" fill="#2866ab"/>
<rect x="138.35" y="741.31" width="12.19" height="3.88" fill="#13559d"/>
<rect x="150.54" y="741.31" width="24.38" height="3.88" fill="#2866ab"/>
<rect x="174.92" y="741.31" width="24.38" height="3.88" fill="#13559d"/>
<rect x="77.40" y="747.10" width="12.19" height="3.88" fill="#13559d"/>
<rect x="89.59" y="747.10" width="48.76" height="3.88" fill="#2866ab"/>
<rect x="138.35" y="747.10" width="12.19" height="3.88" fill="#4079b7"/>
<rect x="150.54" y="747.10" width="12.19" height="3.88" fill="#2866ab"/>
<rect x="162.73" y="747.10" width="12.19" height="3.88" fill="#4079b7"/>
<rect x="174.92" y="747.10" width="12.19" height="3.88" fill="#6692c2"/>
<rect x="187.11" y="747.10" width="12.19" height="3.88" fill="#94b3d6"/>
<rect x="77.40" y="750.98" width="12.19" height="3.88" fill="#13559d"/>
<rect x="89.59" y="750.98" width="24.38" height="3.88" fill="#4079b7"/>
<rect x="113.97" y="750.98" width="85.33" height="3.88" fill="#2866ab"/>
<rect x="77.40" y="754.86" width="12.19" height="3.88" fill="#13559d"/>
<rect x="89.59" y="754.86" width="60.95" height="3.88" fill="#2866ab"/>
<rect x="150.54" y="754.86" width="48.76" height="3.88" fill="#13559d"/>
<rect x="77.40" y="758.75" width="12.19" height="3.88" fill="#13559d"/>
<rect x="89.59" y="758.75" width="60.95" height="3.88" fill="#2866ab"/>
<rect x="150.54" y="758.75" width="48.76" height="3.88" fill="#13559d"/>
<rect x="77.40" y="764.53" width="12.19" height="3.88" fill="#13559d"/>
<rect x="89.59" y="764.53" width="12.19" height="3.88" fill="#2866ab"/>
<rect x="101.78" y="764.53" width="36.57" height="3.88" fill="#4079b7"/>
<rect x="138.35" y="764.53" width="60.95" height="3.88" fill="#2866ab"/>
<rect x="77.40" y="768.41" width="12.19" height="3.88" fill="#13559d"/>
<rect x="89.59" y="768.41" width="12.19" height="3.88" fill="#2866ab"/>
<rect x="101.78" y="768.41" width="12.19" height="3.88" fill="#4079b7"/>
<rect x="113.97" y="768.41" width="85.33" height="3.88" fill="#2866ab"/>
<rect x="77.40" y="772.30" width="12.19" height="3.88" fill="#13559d"/>
<rect x="89.59" y="772.30" width="12.19" height="3.88" fill="#4079b7"/>
<rect x="101.78" y="772.30" width="24.38" height="3.88" fill="#6692c2"/>
<rect x="126.16" y="772.30" width="48.76" height="3.88" fill="#4079b7"/>
<rect x="174.92" y="772.30" width="24.38" height="3.88" fill="#2866ab"/>
<rect x="77.40" y="776.18" width="12.19" height="3.88" fill="#13559d"/>
<rect x="89.59" y="776.18" width="85.33" height="3.88" fill="#2866ab"/>
<rect x="174.92" y="776.18" width="24.38" height="3.88" fill="#13559d"/>
<rect x="77.40" y="781.97" width="12.19" height="3.88" fill="#13559d"/>
<rect x="89.59" y="781.97" width="48.76" height="3.88" fill="#2866ab"/>
<rect x="138.35" y="781.97" width="60.95" height="3.88" fill="#13559d"/>
<rect x="77.40" y="785.85" width="12.19" height="3.88" fill="#13559d"/>
<rect x="89.59" y="785.85" width="12.19" height="3.88" fill="#4079b7"/>
<rect x="101.78" y="785.85" width="12.19" height="3.88" fill="#94b3d6"/>
<rect x="113.97" y="785.85" width="24.38" height="3.88" fill="#6692c2"/>
<rect x="138.35" y="785.85" width="60.95" height="3.88" fill="#13559d"/>
<rect x="77.40" y="789.73" width="12.19" height="3.88" fill="#13559d"/>
<rect x="89.59" y="789.73" width="48.76" height="3.88" fill="#2866ab"/>
<rect x="138.35" y="789.73" width="60.95" height="3.88" fill="#13559d"/>
<rect x="77.40" y="793.62" width="12.19" height="3.88" fill="#13559d"/>
<rect x="89.59" y="793.62" width="12.19" height="3.88" fill="#2866ab"/>
<rect x="101.78" y="793.62" width="12.19" height="3.88" fill="#4079b7"/>
<rect x="113.97" y="793.62" width="12.19" height="3.88" fill="#2866ab"/>
<rect x="126.16" y="793.62" width="12.19" height="3.88" fill="#4079b7"/>
<rect x="138.35" y="793.62" width="12.19" height="3.88" fill="#2866ab"/>
<rect x="150.54" y="793.62" width="24.38" height="3.88" fill="#13559d"/>
<rect x="174.92" y="793.62" width="12.19" height="3.88" fill="#2866ab"/>
<rect x="187.11" y="793.62" width="12.19" height="3.88" fill="#13559d"/>
<path d="M77.40,346.10H199.30M77.40,349.98H199.30M77.40,353.87H199.30M77.40,357.75H199.30M77.40,361.63H199.30M77.40,346.10V361.63M89.59,346.10V361.63M101.78,346.10V361.63M113.97,346.10V361.63M126.16,346.10V361.63M138.35,346.10V361.63M150.54,346.10V361.63M162.73,346.10V361.63M174.92,346.10V361.63M187.11,346.10V361.63M199.30,346.10V361.63M77.40,363.53H199.30M77.40,367.42H199.30M77.40,371.30H199.30M77.40,375.19H199.30M77.40,379.07H199.30M77.40,363.53V379.07M89.59,363.53V379.07M101.78,363.53V379.07M113.97,363.53V379.07M126.16,363.53V379.07M138.35,363.53V379.07M150.54,363.53V379.07M162.73,363.53V379.07M174.92,363.53V379.07M187.11,363.53V379.07M199.30,363.53V379.07M77.40,380.97H199.30M77.40,384.85H199.30M77.40,388.74H199.30M77.40,392.62H199.30M77.40,396.50H199.30M77.40,380.97V396.50M89.59,380.97V396.50M101.78,380.97V396.50M113.97,380.97V396.50M126.16,380.97V396.50M138.35,380.97V396.50M150.54,380.97V396.50M162.73,380.97V396.50M174.92,380.97V396.50M187.11,380.97V396.50M199.30,380.97V396.50M77.40,398.40H199.30M77.40,402.29H199.30M77.40,406.17H199.30M77.40,410.05H199.30M77.40,413.94H199.30M77.40,398.40V413.94M89.59,398.40V413.94M101.78,398.40V413.94M113.97,398.40V413.94M126.16,398.40V413.94M138.35,398.40V413.94M150.54,398.40V413.94M162.73,398.40V413.94M174.92,398.40V413.94M187.11,398.40V413.94M199.30,398.40V413.94M77.40,415.84H199.30M77.40,419.72H199.30M77.40,423.61H199.30M77.40,427.49H199.30M77.40,431.37H199.30M77.40,415.84V431.37M89.59,415.84V431.37M101.78,415.84V431.37M113.97,415.84V431.37M126.16,415.84V431.37M138.35,415.84V431.37M150.54,415.84V431.37M162.73,415.84V431.37M174.92,415.84V431.37M187.11,415.84V431.37M199.30,415.84V431.37M77.40,433.27H199.30M77.40,437.16H199.30M77.40,441.04H199.30M77.40,444.92H199.30M77.40,448.81H199.30M77.40,433.27V448.81M89.59,433.27V448.81M101.78,433.27V448.81M113.97,433.27V448.81M126.16,433.27V448.81M138.35,433.27V448.81M150.54,433.27V448.81M162.73,433.27V448.81M174.92,433.27V448.81M187.11,433.27V448.81M199.30,433.27V448.81M77.40,450.71H199.30M77.40,454.59H199.30M77.40,458.47H199.30M77.40,462.36H199.30M77.40,466.24H199.30M77.40,450.71V466.24M89.59,450.71V466.24M101.78,450.71V466.24M113.97,450.71V466.24M126.16,450.71V466.24M138.35,450.71V466.24M150.54,450.71V466.24M162.73,450.71V466.24M174.92,450.71V466.24M187.11,450.71V466.24M199.30,450.71V466.24M77.40,468.14H199.30M77.40,472.03H199.30M77.40,475.91H199.30M77.40,479.79H199.30M77.40,483.68H199.30M77.40,468.14V483.68M89.59,468.14V483.68M101.78,468.14V483.68M113.97,468.14V483.68M126.16,468.14V483.68M138.35,468.14V483.68M150.54,468.14V483.68M162.73,468.14V483.68M174.92,468.14V483.68M187.11,468.14V483.68M199.30,468.14V483.68M77.40,485.58H199.30M77.40,489.46H199.30M77.40,493.34H199.30M77.40,497.23H199.30M77.40,501.11H199.30M77.40,485.58V501.11M89.59,485.58V501.11M101.78,485.58V501.11M113.97,485.58V501.11M126.16,485.58V501.11M138.35,485.58V501.11M150.54,485.58V501.11M162.73,485.58V501.11M174.92,485.58V501.11M187.11,485.58V501.11M199.30,485.58V501.11M77.40,503.01H199.30M77.40,506.90H199.30M77.40,510.78H199.30M77.40,514.66H199.30M77.40,518.55H199.30M77.40,503.01V518.55M89.59,503.01V518.55M101.78,503.01V518.55M113.97,503.01V518.55M126.16,503.01V518.55M138.35,503.01V518.55M150.54,503.01V518.55M162.73,503.01V518.55M174.92,503.01V518.55M187.11,503.01V518.55M199.30,503.01V518.55M77.40,520.45H199.30M77.40,524.33H199.30M77.40,528.21H199.30M77.40,532.10H199.30M77.40,535.98H199.30M77.40,520.45V535.98M89.59,520.45V535.98M101.78,520.45V535.98M113.97,520.45V535.98M126.16,520.45V535.98M138.35,520.45V535.98M150.54,520.45V535.98M162.73,520.45V535.98M174.92,520.45V535.98M187.11,520.45V535.98M199.30,520.45V535.98M77.40,537.88H199.30M77.40,541.76H199.30M77.40,545.65H199.30M77.40,549.53H199.30M77.40,553.42H199.30M77.40,537.88V553.42M89.59,537.88V553.42M101.78,537.88V553.42M113.97,537.88V553.42M126.16,537.88V553.42M138.35,537.88V553.42M150.54,537.88V553.42M162.73,537.88V553.42M174.92,537.88V553.42M187.11,537.88V553.42M199.30,537.88V553.42M77.40,555.32H199.30M77.40,559.20H199.30M77.40,563.08H199.30M77.40,566.97H199.30M77.40,570.85H199.30M77.40,555.32V570.85M89.59,555.32V570.85M101.78,555.32V570.85M113.97,555.32V570.85M126.16,555.32V570.85M138.35,555.32V570.85M150.54,555.32V570.85M162.73,555.32V570.85M174.92,555.32V570.85M187.11,555.32V570.85M199.30,555.32V570.85M77.40,572.75H199.30M77.40,576.63H199.30M77.40,580.52H199.30M77.40,584.40H199.30M77.40,588.28H199.30M77.40,572.75V588.28M89.59,572.75V588.28M101.78,572.75V588.28M113.97,572.75V588.28M126.16,572.75V588.28M138.35,572.75V588.28M150.54,572.75V588.28M162.73,572.75V588.28M174.92,572.75V588.28M187.11,572.75V588.28M199.30,572.75V588.28M77.40,590.18H199.30M77.40,594.07H199.30M77.40,597.95H199.30M77.40,601.84H199.30M77.40,605.72H199.30M77.40,590.18V605.72M89.59,590.18V605.72M101.78,590.18V605.72M113.97,590.18V605.72M126.16,590.18V605.72M138.35,590.18V605.72M150.54,590.18V605.72M162.73,590.18V605.72M174.92,590.18V605.72M187.11,590.18V605.72M199.30,590.18V605.72M77.40,607.62H199.30M77.40,611.50H199.30M77.40,615.39H199.30M77.40,619.27H199.30M77.40,623.15H199.30M77.40,607.62V623.15M89.59,607.62V623.15M101.78,607.62V623.15M113.97,607.62V623.15M126.16,607.62V623.15M138.35,607.62V623.15M150.54,607.62V623.15M162.73,607.62V623.15M174.92,607.62V623.15M187.11,607.62V623.15M199.30,607.62V623.15M77.40,625.05H199.30M77.40,628.94H199.30M77.40,632.82H199.30M77.40,636.70H199.30M77.40,640.59H199.30M77.40,625.05V640.59M89.59,625.05V640.59M101.78,625.05V640.59M113.97,625.05V640.59M126.16,625.05V640.59M138.35,625.05V640.59M150.54,625.05V640.59M162.73,625.05V640.59M174.92,625.05V640.59M187.11,625.05V640.59M199.30,625.05V640.59M77.40,642.49H199.30M77.40,646.37H199.30M77.40,650.26H199.30M77.40,654.14H199.30M77.40,658.02H199.30M77.40,642.49V658.02M89.59,642.49V658.02M101.78,642.49V658.02M113.97,642.49V658.02M126.16,642.49V658.02M138.35,642.49V658.02M150.54,642.49V658.02M162.73,642.49V658.02M174.92,642.49V658.02M187.11,642.49V658.02M199.30,642.49V658.02M77.40,659.92H199.30M77.40,663.81H199.30M77.40,667.69H199.30M77.40,671.57H199.30M77.40,675.46H199.30M77.40,659.92V675.46M89.59,659.92V675.46M101.78,659.92V675.46M113.97,659.92V675.46M126.16,659.92V675.46M138.35,659.92V675.46M150.54,659.92V675.46M162.73,659.92V675.46M174.92,659.92V675.46M187.11,659.92V675.46M199.30,659.92V675.46M77.40,677.36H199.30M77.40,681.24H199.30M77.40,685.12H199.30M77.40,689.01H199.30M77.40,692.89H199.30M77.40,677.36V692.89M89.59,677.36V692.89M101.78,677.36V692.89M113.97,677.36V692.89M126.16,677.36V692.89M138.35,677.36V692.89M150.54,677.36V692.89M162.73,677.36V692.89M174.92,677.36V692.89M187.11,677.36V692.89M199.30,677.36V692.89M77.40,694.79H199.30M77.40,698.68H199.30M77.40,702.56H199.30M77.40,706.44H199.30M77.40,710.33H199.30M77.40,694.79V710.33M89.59,694.79V710.33M101.78,694.79V710.33M113.97,694.79V710.33M126.16,694.79V710.33M138.35,694.79V710.33M150.54,694.79V710.33M162.73,694.79V710.33M174.92,694.79V710.33M187.11,694.79V710.33M199.30,694.79V710.33M77.40,712.23H199.30M77.40,716.11H199.30M77.40,719.99H199.30M77.40,723.88H199.30M77.40,727.76H199.30M77.40,712.23V727.76M89.59,712.23V727.76M101.78,712.23V727.76M113.97,712.23V727.76M126.16,712.23V727.76M138.35,712.23V727.76M150.54,712.23V727.76M162.73,712.23V727.76M174.92,712.23V727.76M187.11,712.23V727.76M199.30,712.23V727.76M77.40,729.66H199.30M77.40,733.55H199.30M77.40,737.43H199.30M77.40,741.31H199.30M77.40,745.20H199.30M77.40,729.66V745.20M89.59,729.66V745.20M101.78,729.66V745.20M113.97,729.66V745.20M126.16,729.66V745.20M138.35,729.66V745.20M150.54,729.66V745.20M162.73,729.66V745.20M174.92,729.66V745.20M187.11,729.66V745.20M199.30,729.66V745.20M77.40,747.10H199.30M77.40,750.98H199.30M77.40,754.86H199.30M77.40,758.75H199.30M77.40,762.63H199.30M77.40,747.10V762.63M89.59,747.10V762.63M101.78,747.10V762.63M113.97,747.10V762.63M126.16,747.10V762.63M138.35,747.10V762.63M150.54,747.10V762.63M162.73,747.10V762.63M174.92,747.10V762.63M187.11,747.10V762.63M199.30,747.10V762.63M77.40,764.53H199.30M77.40,768.41H199.30M77.40,772.30H199.30M77.40,776.18H199.30M77.40,780.07H199.30M77.40,764.53V780.07M89.59,764.53V780.07M101.78,764.53V780.07M113.97,764.53V780.07M126.16,764.53V780.07M138.35,764.53V780.07M150.54,764.53V780.07M162.73,764.53V780.07M174.92,764.53V780.07M187.11,764.53V780.07M199.30,764.53V780.07M77.40,781.97H199.30M77.40,785.85H199.30M77.40,789.73H199.30M77.40,793.62H199.30M77.40,797.50H199.30M77.40,781.97V797.50M89.59,781.97V797.50M101.78,781.97V797.50M113.97,781.97V797.50M126.16,781.97V797.50M138.35,781.97V797.50M150.54,781.97V797.50M162.73,781.97V797.50M174.92,781.97V797.50M187.11,781.97V797.50M199.30,781.97V797.50" stroke="#1a2230" stroke-width="0.55" stroke-opacity="0.85" fill="none"/>
<path d="M73.20,348.34H77.4" stroke="#555" stroke-width="0.7"/>
<text x="68.50" y="351.34" font-size="8.8" text-anchor="end" fill="#333333">88W8</text>
<path d="M73.20,365.78H77.4" stroke="#555" stroke-width="0.7"/>
<text x="68.50" y="368.78" font-size="8.8" text-anchor="end" fill="#333333">51W1</text>
<path d="M73.20,383.21H77.4" stroke="#555" stroke-width="0.7"/>
<text x="68.50" y="386.21" font-size="8.8" text-anchor="end" fill="#333333">88W3</text>
<path d="M73.20,400.65H77.4" stroke="#555" stroke-width="0.7"/>
<text x="68.50" y="403.65" font-size="8.8" text-anchor="end" fill="#333333">51W8</text>
<path d="M73.20,418.08H77.4" stroke="#555" stroke-width="0.7"/>
<text x="68.50" y="421.08" font-size="8.8" text-anchor="end" fill="#333333">88W4</text>
<path d="M73.20,435.51H77.4" stroke="#555" stroke-width="0.7"/>
<text x="68.50" y="438.51" font-size="8.8" text-anchor="end" fill="#333333">88W14</text>
<path d="M73.20,452.95H77.4" stroke="#555" stroke-width="0.7"/>
<text x="68.50" y="455.95" font-size="8.8" text-anchor="end" fill="#333333">88W18</text>
<path d="M73.20,470.38H77.4" stroke="#555" stroke-width="0.7"/>
<text x="68.50" y="473.38" font-size="8.8" text-anchor="end" fill="#333333">88W16</text>
<path d="M73.20,487.82H77.4" stroke="#555" stroke-width="0.7"/>
<text x="68.50" y="490.82" font-size="8.8" text-anchor="end" fill="#333333">88W13</text>
<path d="M73.20,505.25H77.4" stroke="#555" stroke-width="0.7"/>
<text x="68.50" y="508.25" font-size="8.8" text-anchor="end" fill="#333333">88W12</text>
<path d="M73.20,522.69H77.4" stroke="#555" stroke-width="0.7"/>
<text x="68.50" y="525.69" font-size="8.8" text-anchor="end" fill="#333333">88W6</text>
<path d="M73.20,540.12H77.4" stroke="#555" stroke-width="0.7"/>
<text x="68.50" y="543.12" font-size="8.8" text-anchor="end" fill="#333333">88W2</text>
<path d="M73.20,557.56H77.4" stroke="#555" stroke-width="0.7"/>
<text x="68.50" y="560.56" font-size="8.8" text-anchor="end" fill="#333333">88W17</text>
<path d="M73.20,574.99H77.4" stroke="#555" stroke-width="0.7"/>
<text x="68.50" y="577.99" font-size="8.8" text-anchor="end" fill="#333333">88W15</text>
<path d="M73.20,592.43H77.4" stroke="#555" stroke-width="0.7"/>
<text x="68.50" y="595.43" font-size="8.8" text-anchor="end" fill="#333333">51W3</text>
<path d="M73.20,609.86H77.4" stroke="#555" stroke-width="0.7"/>
<text x="68.50" y="612.86" font-size="8.8" text-anchor="end" fill="#333333">51W7</text>
<path d="M73.20,627.30H77.4" stroke="#555" stroke-width="0.7"/>
<text x="68.50" y="630.30" font-size="8.8" text-anchor="end" fill="#333333">51W4</text>
<path d="M73.20,644.73H77.4" stroke="#555" stroke-width="0.7"/>
<text x="68.50" y="647.73" font-size="8.8" text-anchor="end" fill="#333333">51W2</text>
<path d="M73.20,662.16H77.4" stroke="#555" stroke-width="0.7"/>
<text x="68.50" y="665.16" font-size="8.8" text-anchor="end" fill="#333333">88W5</text>
<path d="M73.20,679.60H77.4" stroke="#555" stroke-width="0.7"/>
<text x="68.50" y="682.60" font-size="8.8" text-anchor="end" fill="#333333">88W10</text>
<path d="M73.20,697.03H77.4" stroke="#555" stroke-width="0.7"/>
<text x="68.50" y="700.03" font-size="8.8" text-anchor="end" fill="#333333">88W9</text>
<path d="M73.20,714.47H77.4" stroke="#555" stroke-width="0.7"/>
<text x="68.50" y="717.47" font-size="8.8" text-anchor="end" fill="#333333">88W7</text>
<path d="M73.20,731.90H77.4" stroke="#555" stroke-width="0.7"/>
<text x="68.50" y="734.90" font-size="8.8" text-anchor="end" fill="#333333">88W1</text>
<path d="M73.20,749.34H77.4" stroke="#555" stroke-width="0.7"/>
<text x="68.50" y="752.34" font-size="8.8" text-anchor="end" fill="#333333">88W11</text>
<path d="M73.20,766.77H77.4" stroke="#555" stroke-width="0.7"/>
<text x="68.50" y="769.77" font-size="8.8" text-anchor="end" fill="#333333">51W5</text>
<path d="M73.20,784.21H77.4" stroke="#555" stroke-width="0.7"/>
<text x="68.50" y="787.21" font-size="8.8" text-anchor="end" fill="#333333">51W6</text>
<path d="M101.78,797.5V801.0" stroke="#555" stroke-width="0.7"/>
<text x="101.78" y="812.2" font-size="8.6" text-anchor="middle" fill="#333333">5</text>
<path d="M126.16,797.5V801.0" stroke="#555" stroke-width="0.7"/>
<text x="126.16" y="812.2" font-size="8.6" text-anchor="middle" fill="#333333">10</text>
<path d="M150.54,797.5V801.0" stroke="#555" stroke-width="0.7"/>
<text x="150.54" y="812.2" font-size="8.6" text-anchor="middle" fill="#333333">15</text>
<path d="M174.92,797.5V801.0" stroke="#555" stroke-width="0.7"/>
<text x="174.92" y="812.2" font-size="8.6" text-anchor="middle" fill="#333333">20</text>
<path d="M199.30,797.5V801.0" stroke="#555" stroke-width="0.7"/>
<text x="199.30" y="812.2" font-size="8.6" text-anchor="middle" fill="#333333">25</text>
<text x="140.35" y="827.4" font-size="9.6" text-anchor="middle" fill="#333333" textLength="55" lengthAdjust="spacingAndGlyphs">Time (days)</text>
<rect x="307.8" y="343.1" width="122.19999999999999" height="454.4" fill="#ebebeb"/>
<rect x="307.80" y="343.10" width="12.22" height="5.06" fill="#13559d"/>
<rect x="320.02" y="343.10" width="12.22" height="5.06" fill="#4079b7"/>
<rect x="332.24" y="343.10" width="12.22" height="5.06" fill="#c9d9eb"/>
<rect x="344.46" y="343.10" width="12.22" height="5.06" fill="#fbdede"/>
<rect x="356.68" y="343.10" width="24.44" height="5.06" fill="#f6b6b6"/>
<rect x="381.12" y="343.10" width="12.22" height="5.06" fill="#f08a8a"/>
<rect x="393.34" y="343.10" width="12.22" height="5.06" fill="#e2352f"/>
<rect x="405.56" y="343.10" width="24.44" height="5.06" fill="#c4232a"/>
<rect x="307.80" y="348.16" width="12.22" height="5.06" fill="#13559d"/>
<rect x="320.02" y="348.16" width="12.22" height="5.06" fill="#4079b7"/>
<rect x="332.24" y="348.16" width="12.22" height="5.06" fill="#94b3d6"/>
<rect x="344.46" y="348.16" width="12.22" height="5.06" fill="#fbf9f9"/>
<rect x="356.68" y="348.16" width="12.22" height="5.06" fill="#fbdede"/>
<rect x="368.90" y="348.16" width="12.22" height="5.06" fill="#f6b6b6"/>
<rect x="381.12" y="348.16" width="12.22" height="5.06" fill="#f08a8a"/>
<rect x="393.34" y="348.16" width="36.66" height="5.06" fill="#c4232a"/>
<rect x="307.80" y="353.23" width="12.22" height="5.06" fill="#13559d"/>
<rect x="320.02" y="353.23" width="12.22" height="5.06" fill="#4079b7"/>
<rect x="332.24" y="353.23" width="12.22" height="5.06" fill="#6692c2"/>
<rect x="344.46" y="353.23" width="12.22" height="5.06" fill="#fbf9f9"/>
<rect x="356.68" y="353.23" width="12.22" height="5.06" fill="#fbdede"/>
<rect x="368.90" y="353.23" width="12.22" height="5.06" fill="#f6b6b6"/>
<rect x="381.12" y="353.23" width="12.22" height="5.06" fill="#f08a8a"/>
<rect x="393.34" y="353.23" width="24.44" height="5.06" fill="#ec6868"/>
<rect x="417.78" y="353.23" width="12.22" height="5.06" fill="#c4232a"/>
<rect x="307.80" y="358.29" width="12.22" height="5.06" fill="#13559d"/>
<rect x="320.02" y="358.29" width="12.22" height="5.06" fill="#4079b7"/>
<rect x="332.24" y="358.29" width="24.44" height="5.06" fill="#6692c2"/>
<rect x="356.68" y="358.29" width="12.22" height="5.06" fill="#c9d9eb"/>
<rect x="368.90" y="358.29" width="12.22" height="5.06" fill="#fbf9f9"/>
<rect x="381.12" y="358.29" width="12.22" height="5.06" fill="#c9d9eb"/>
<rect x="393.34" y="358.29" width="24.44" height="5.06" fill="#fbf9f9"/>
<rect x="417.78" y="358.29" width="12.22" height="5.06" fill="#c9d9eb"/>
<rect x="307.80" y="363.35" width="12.22" height="5.06" fill="#13559d"/>
<rect x="320.02" y="363.35" width="12.22" height="5.06" fill="#4079b7"/>
<rect x="332.24" y="363.35" width="12.22" height="5.06" fill="#94b3d6"/>
<rect x="344.46" y="363.35" width="12.22" height="5.06" fill="#6692c2"/>
<rect x="356.68" y="363.35" width="24.44" height="5.06" fill="#4079b7"/>
<rect x="381.12" y="363.35" width="48.88" height="5.06" fill="#13559d"/>
<rect x="307.80" y="370.31" width="12.22" height="5.06" fill="#13559d"/>
<rect x="320.02" y="370.31" width="36.66" height="5.06" fill="#2866ab"/>
<rect x="356.68" y="370.31" width="12.22" height="5.06" fill="#fbf9f9"/>
<rect x="368.90" y="370.31" width="48.88" height="5.06" fill="#f6b6b6"/>
<rect x="417.78" y="370.31" width="12.22" height="5.06" fill="#f08a8a"/>
<rect x="307.80" y="375.38" width="12.22" height="5.06" fill="#13559d"/>
<rect x="320.02" y="375.38" width="24.44" height="5.06" fill="#2866ab"/>
<rect x="344.46" y="375.38" width="12.22" height="5.06" fill="#4079b7"/>
<rect x="356.68" y="375.38" width="12.22" height="5.06" fill="#6692c2"/>
<rect x="368.90" y="375.38" width="12.22" height="5.06" fill="#fbf9f9"/>
<rect x="381.12" y="375.38" width="12.22" height="5.06" fill="#94b3d6"/>
<rect x="393.34" y="375.38" width="24.44" height="5.06" fill="#fbdede"/>
<rect x="417.78" y="375.38" width="12.22" height="5.06" fill="#f08a8a"/>
<rect x="307.80" y="380.44" width="12.22" height="5.06" fill="#13559d"/>
<rect x="320.02" y="380.44" width="24.44" height="5.06" fill="#2866ab"/>
<rect x="344.46" y="380.44" width="24.44" height="5.06" fill="#4079b7"/>
<rect x="368.90" y="380.44" width="12.22" height="5.06" fill="#c9d9eb"/>
<rect x="381.12" y="380.44" width="12.22" height="5.06" fill="#fbf9f9"/>
<rect x="393.34" y="380.44" width="24.44" height="5.06" fill="#fbdede"/>
<rect x="417.78" y="380.44" width="12.22" height="5.06" fill="#f08a8a"/>
<rect x="307.80" y="385.50" width="12.22" height="5.06" fill="#13559d"/>
<rect x="320.02" y="385.50" width="36.66" height="5.06" fill="#2866ab"/>
<rect x="356.68" y="385.50" width="12.22" height="5.06" fill="#6692c2"/>
<rect x="368.90" y="385.50" width="12.22" height="5.06" fill="#c9d9eb"/>
<rect x="381.12" y="385.50" width="24.44" height="5.06" fill="#fbdede"/>
<rect x="405.56" y="385.50" width="12.22" height="5.06" fill="#f6b6b6"/>
<rect x="417.78" y="385.50" width="12.22" height="5.06" fill="#ec6868"/>
<rect x="307.80" y="392.46" width="12.22" height="5.06" fill="#13559d"/>
<rect x="320.02" y="392.46" width="12.22" height="5.06" fill="#4079b7"/>
<rect x="332.24" y="392.46" width="12.22" height="5.06" fill="#6692c2"/>
<rect x="344.46" y="392.46" width="12.22" height="5.06" fill="#fbf9f9"/>
<rect x="356.68" y="392.46" width="12.22" height="5.06" fill="#fbdede"/>
<rect x="368.90" y="392.46" width="12.22" height="5.06" fill="#f6b6b6"/>
<rect x="381.12" y="392.46" width="12.22" height="5.06" fill="#f08a8a"/>
<rect x="393.34" y="392.46" width="36.66" height="5.06" fill="#c4232a"/>
<rect x="307.80" y="397.53" width="12.22" height="5.06" fill="#13559d"/>
<rect x="320.02" y="397.53" width="12.22" height="5.06" fill="#4079b7"/>
<rect x="332.24" y="397.53" width="12.22" height="5.06" fill="#6692c2"/>
<rect x="344.46" y="397.53" width="24.44" height="5.06" fill="#fbdede"/>
<rect x="368.90" y="397.53" width="12.22" height="5.06" fill="#f6b6b6"/>
<rect x="381.12" y="397.53" width="12.22" height="5.06" fill="#f08a8a"/>
<rect x="393.34" y="397.53" width="36.66" height="5.06" fill="#c4232a"/>
<rect x="307.80" y="402.59" width="12.22" height="5.06" fill="#13559d"/>
<rect x="320.02" y="402.59" width="12.22" height="5.06" fill="#4079b7"/>
<rect x="332.24" y="402.59" width="12.22" height="5.06" fill="#6692c2"/>
<rect x="344.46" y="402.59" width="24.44" height="5.06" fill="#c9d9eb"/>
<rect x="368.90" y="402.59" width="12.22" height="5.06" fill="#fbf9f9"/>
<rect x="381.12" y="402.59" width="36.66" height="5.06" fill="#f6b6b6"/>
<rect x="417.78" y="402.59" width="12.22" height="5.06" fill="#ec6868"/>
<rect x="307.80" y="407.65" width="12.22" height="5.06" fill="#13559d"/>
<rect x="320.02" y="407.65" width="12.22" height="5.06" fill="#4079b7"/>
<rect x="332.24" y="407.65" width="24.44" height="5.06" fill="#6692c2"/>
<rect x="356.68" y="407.65" width="12.22" height="5.06" fill="#4079b7"/>
<rect x="368.90" y="407.65" width="12.22" height="5.06" fill="#2866ab"/>
<rect x="381.12" y="407.65" width="12.22" height="5.06" fill="#4079b7"/>
<rect x="393.34" y="407.65" width="12.22" height="5.06" fill="#94b3d6"/>
<rect x="405.56" y="407.65" width="12.22" height="5.06" fill="#c9d9eb"/>
<rect x="417.78" y="407.65" width="12.22" height="5.06" fill="#fbf9f9"/>
<rect x="307.80" y="412.71" width="12.22" height="5.06" fill="#13559d"/>
<rect x="320.02" y="412.71" width="12.22" height="5.06" fill="#2866ab"/>
<rect x="332.24" y="412.71" width="12.22" height="5.06" fill="#94b3d6"/>
<rect x="344.46" y="412.71" width="24.44" height="5.06" fill="#4079b7"/>
<rect x="368.90" y="412.71" width="12.22" height="5.06" fill="#2866ab"/>
<rect x="381.12" y="412.71" width="36.66" height="5.06" fill="#13559d"/>
<rect x="417.78" y="412.71" width="12.22" height="5.06" fill="#2866ab"/>
<rect x="307.80" y="419.68" width="12.22" height="5.06" fill="#13559d"/>
<rect x="320.02" y="419.68" width="12.22" height="5.06" fill="#4079b7"/>
<rect x="332.24" y="419.68" width="12.22" height="5.06" fill="#c9d9eb"/>
<rect x="344.46" y="419.68" width="24.44" height="5.06" fill="#fbdede"/>
<rect x="368.90" y="419.68" width="12.22" height="5.06" fill="#f6b6b6"/>
<rect x="381.12" y="419.68" width="12.22" height="5.06" fill="#ec6868"/>
<rect x="393.34" y="419.68" width="36.66" height="5.06" fill="#c4232a"/>
<rect x="307.80" y="424.74" width="12.22" height="5.06" fill="#13559d"/>
<rect x="320.02" y="424.74" width="12.22" height="5.06" fill="#4079b7"/>
<rect x="332.24" y="424.74" width="12.22" height="5.06" fill="#94b3d6"/>
<rect x="344.46" y="424.74" width="12.22" height="5.06" fill="#fbdede"/>
<rect x="356.68" y="424.74" width="12.22" height="5.06" fill="#94b3d6"/>
<rect x="368.90" y="424.74" width="12.22" height="5.06" fill="#fbf9f9"/>
<rect x="381.12" y="424.74" width="12.22" height="5.06" fill="#fbdede"/>
<rect x="393.34" y="424.74" width="24.44" height="5.06" fill="#f6b6b6"/>
<rect x="417.78" y="424.74" width="12.22" height="5.06" fill="#c4232a"/>
<rect x="307.80" y="429.80" width="12.22" height="5.06" fill="#13559d"/>
<rect x="320.02" y="429.80" width="24.44" height="5.06" fill="#4079b7"/>
<rect x="344.46" y="429.80" width="12.22" height="5.06" fill="#6692c2"/>
<rect x="356.68" y="429.80" width="24.44" height="5.06" fill="#94b3d6"/>
<rect x="381.12" y="429.80" width="24.44" height="5.06" fill="#c9d9eb"/>
<rect x="405.56" y="429.80" width="24.44" height="5.06" fill="#fbdede"/>
<rect x="307.80" y="434.87" width="12.22" height="5.06" fill="#13559d"/>
<rect x="320.02" y="434.87" width="12.22" height="5.06" fill="#2866ab"/>
<rect x="332.24" y="434.87" width="12.22" height="5.06" fill="#4079b7"/>
<rect x="344.46" y="434.87" width="12.22" height="5.06" fill="#fbf9f9"/>
<rect x="356.68" y="434.87" width="73.32" height="5.06" fill="#fbdede"/>
<rect x="307.80" y="439.93" width="12.22" height="5.06" fill="#13559d"/>
<rect x="320.02" y="439.93" width="12.22" height="5.06" fill="#2866ab"/>
<rect x="332.24" y="439.93" width="36.66" height="5.06" fill="#4079b7"/>
<rect x="368.90" y="439.93" width="24.44" height="5.06" fill="#2866ab"/>
<rect x="393.34" y="439.93" width="36.66" height="5.06" fill="#13559d"/>
<rect x="307.80" y="446.89" width="12.22" height="5.06" fill="#13559d"/>
<rect x="320.02" y="446.89" width="12.22" height="5.06" fill="#4079b7"/>
<rect x="332.24" y="446.89" width="12.22" height="5.06" fill="#94b3d6"/>
<rect x="344.46" y="446.89" width="24.44" height="5.06" fill="#c9d9eb"/>
<rect x="368.90" y="446.89" width="12.22" height="5.06" fill="#fbf9f9"/>
<rect x="381.12" y="446.89" width="12.22" height="5.06" fill="#fbdede"/>
<rect x="393.34" y="446.89" width="12.22" height="5.06" fill="#f6b6b6"/>
<rect x="405.56" y="446.89" width="12.22" height="5.06" fill="#f08a8a"/>
<rect x="417.78" y="446.89" width="12.22" height="5.06" fill="#c4232a"/>
<rect x="307.80" y="451.95" width="12.22" height="5.06" fill="#13559d"/>
<rect x="320.02" y="451.95" width="12.22" height="5.06" fill="#4079b7"/>
<rect x="332.24" y="451.95" width="12.22" height="5.06" fill="#c9d9eb"/>
<rect x="344.46" y="451.95" width="12.22" height="5.06" fill="#fbdede"/>
<rect x="356.68" y="451.95" width="12.22" height="5.06" fill="#c9d9eb"/>
<rect x="368.90" y="451.95" width="12.22" height="5.06" fill="#fbf9f9"/>
<rect x="381.12" y="451.95" width="12.22" height="5.06" fill="#fbdede"/>
<rect x="393.34" y="451.95" width="12.22" height="5.06" fill="#f6b6b6"/>
<rect x="405.56" y="451.95" width="12.22" height="5.06" fill="#f08a8a"/>
<rect x="417.78" y="451.95" width="12.22" height="5.06" fill="#ec6868"/>
<rect x="307.80" y="457.02" width="12.22" height="5.06" fill="#13559d"/>
<rect x="320.02" y="457.02" width="12.22" height="5.06" fill="#6692c2"/>
<rect x="332.24" y="457.02" width="24.44" height="5.06" fill="#94b3d6"/>
<rect x="356.68" y="457.02" width="12.22" height="5.06" fill="#6692c2"/>
<rect x="368.90" y="457.02" width="12.22" height="5.06" fill="#c9d9eb"/>
<rect x="381.12" y="457.02" width="12.22" height="5.06" fill="#fbdede"/>
<rect x="393.34" y="457.02" width="12.22" height="5.06" fill="#f6b6b6"/>
<rect x="405.56" y="457.02" width="12.22" height="5.06" fill="#f08a8a"/>
<rect x="417.78" y="457.02" width="12.22" height="5.06" fill="#e2352f"/>
<rect x="307.80" y="462.08" width="12.22" height="5.06" fill="#13559d"/>
<rect x="320.02" y="462.08" width="12.22" height="5.06" fill="#4079b7"/>
<rect x="332.24" y="462.08" width="12.22" height="5.06" fill="#6692c2"/>
<rect x="344.46" y="462.08" width="24.44" height="5.06" fill="#94b3d6"/>
<rect x="368.90" y="462.08" width="12.22" height="5.06" fill="#fbf9f9"/>
<rect x="381.12" y="462.08" width="12.22" height="5.06" fill="#fbdede"/>
<rect x="393.34" y="462.08" width="12.22" height="5.06" fill="#f6b6b6"/>
<rect x="405.56" y="462.08" width="24.44" height="5.06" fill="#f08a8a"/>
<rect x="307.80" y="467.14" width="12.22" height="5.06" fill="#13559d"/>
<rect x="320.02" y="467.14" width="24.44" height="5.06" fill="#6692c2"/>
<rect x="344.46" y="467.14" width="24.44" height="5.06" fill="#94b3d6"/>
<rect x="368.90" y="467.14" width="12.22" height="5.06" fill="#4079b7"/>
<rect x="381.12" y="467.14" width="12.22" height="5.06" fill="#94b3d6"/>
<rect x="393.34" y="467.14" width="12.22" height="5.06" fill="#fbf9f9"/>
<rect x="405.56" y="467.14" width="24.44" height="5.06" fill="#f6b6b6"/>
<rect x="307.80" y="474.10" width="12.22" height="5.06" fill="#13559d"/>
<rect x="320.02" y="474.10" width="12.22" height="5.06" fill="#94b3d6"/>
<rect x="332.24" y="474.10" width="12.22" height="5.06" fill="#fbf9f9"/>
<rect x="344.46" y="474.10" width="24.44" height="5.06" fill="#fbdede"/>
<rect x="368.90" y="474.10" width="12.22" height="5.06" fill="#f6b6b6"/>
<rect x="381.12" y="474.10" width="12.22" height="5.06" fill="#f08a8a"/>
<rect x="393.34" y="474.10" width="36.66" height="5.06" fill="#c4232a"/>
<rect x="307.80" y="479.17" width="12.22" height="5.06" fill="#13559d"/>
<rect x="320.02" y="479.17" width="12.22" height="5.06" fill="#6692c2"/>
<rect x="332.24" y="479.17" width="12.22" height="5.06" fill="#94b3d6"/>
<rect x="344.46" y="479.17" width="12.22" height="5.06" fill="#fbf9f9"/>
<rect x="356.68" y="479.17" width="73.32" height="5.06" fill="#fbdede"/>
<rect x="307.80" y="484.23" width="12.22" height="5.06" fill="#13559d"/>
<rect x="320.02" y="484.23" width="12.22" height="5.06" fill="#6692c2"/>
<rect x="332.24" y="484.23" width="24.44" height="5.06" fill="#94b3d6"/>
<rect x="356.68" y="484.23" width="12.22" height="5.06" fill="#fbf9f9"/>
<rect x="368.90" y="484.23" width="12.22" height="5.06" fill="#c9d9eb"/>
<rect x="381.12" y="484.23" width="48.88" height="5.06" fill="#fbf9f9"/>
<rect x="307.80" y="491.19" width="12.22" height="5.06" fill="#13559d"/>
<rect x="320.02" y="491.19" width="12.22" height="5.06" fill="#2866ab"/>
<rect x="332.24" y="491.19" width="24.44" height="5.06" fill="#4079b7"/>
<rect x="356.68" y="491.19" width="36.66" height="5.06" fill="#6692c2"/>
<rect x="393.34" y="491.19" width="24.44" height="5.06" fill="#c9d9eb"/>
<rect x="417.78" y="491.19" width="12.22" height="5.06" fill="#fbdede"/>
<rect x="307.80" y="496.25" width="12.22" height="5.06" fill="#13559d"/>
<rect x="320.02" y="496.25" width="12.22" height="5.06" fill="#4079b7"/>
<rect x="332.24" y="496.25" width="12.22" height="5.06" fill="#94b3d6"/>
<rect x="344.46" y="496.25" width="12.22" height="5.06" fill="#c9d9eb"/>
<rect x="356.68" y="496.25" width="12.22" height="5.06" fill="#94b3d6"/>
<rect x="368.90" y="496.25" width="12.22" height="5.06" fill="#6692c2"/>
<rect x="381.12" y="496.25" width="12.22" height="5.06" fill="#c9d9eb"/>
<rect x="393.34" y="496.25" width="12.22" height="5.06" fill="#94b3d6"/>
<rect x="405.56" y="496.25" width="12.22" height="5.06" fill="#fbf9f9"/>
<rect x="417.78" y="496.25" width="12.22" height="5.06" fill="#c9d9eb"/>
<rect x="307.80" y="501.32" width="12.22" height="5.06" fill="#13559d"/>
<rect x="320.02" y="501.32" width="12.22" height="5.06" fill="#2866ab"/>
<rect x="332.24" y="501.32" width="12.22" height="5.06" fill="#4079b7"/>
<rect x="344.46" y="501.32" width="12.22" height="5.06" fill="#94b3d6"/>
<rect x="356.68" y="501.32" width="24.44" height="5.06" fill="#6692c2"/>
<rect x="381.12" y="501.32" width="12.22" height="5.06" fill="#94b3d6"/>
<rect x="393.34" y="501.32" width="24.44" height="5.06" fill="#c9d9eb"/>
<rect x="417.78" y="501.32" width="12.22" height="5.06" fill="#fbf9f9"/>
<rect x="307.80" y="506.38" width="12.22" height="5.06" fill="#13559d"/>
<rect x="320.02" y="506.38" width="12.22" height="5.06" fill="#2866ab"/>
<rect x="332.24" y="506.38" width="36.66" height="5.06" fill="#4079b7"/>
<rect x="368.90" y="506.38" width="24.44" height="5.06" fill="#6692c2"/>
<rect x="393.34" y="506.38" width="36.66" height="5.06" fill="#13559d"/>
<rect x="307.80" y="511.44" width="12.22" height="5.06" fill="#13559d"/>
<rect x="320.02" y="511.44" width="12.22" height="5.06" fill="#2866ab"/>
<rect x="332.24" y="511.44" width="24.44" height="5.06" fill="#6692c2"/>
<rect x="356.68" y="511.44" width="12.22" height="5.06" fill="#4079b7"/>
<rect x="368.90" y="511.44" width="24.44" height="5.06" fill="#2866ab"/>
<rect x="393.34" y="511.44" width="36.66" height="5.06" fill="#13559d"/>
<rect x="307.80" y="518.40" width="12.22" height="5.06" fill="#13559d"/>
<rect x="320.02" y="518.40" width="12.22" height="5.06" fill="#2866ab"/>
<rect x="332.24" y="518.40" width="48.88" height="5.06" fill="#4079b7"/>
<rect x="381.12" y="518.40" width="12.22" height="5.06" fill="#6692c2"/>
<rect x="393.34" y="518.40" width="12.22" height="5.06" fill="#94b3d6"/>
<rect x="405.56" y="518.40" width="12.22" height="5.06" fill="#6692c2"/>
<rect x="417.78" y="518.40" width="12.22" height="5.06" fill="#fbf9f9"/>
<rect x="307.80" y="523.47" width="12.22" height="5.06" fill="#13559d"/>
<rect x="320.02" y="523.47" width="12.22" height="5.06" fill="#2866ab"/>
<rect x="332.24" y="523.47" width="85.54" height="5.06" fill="#4079b7"/>
<rect x="417.78" y="523.47" width="12.22" height="5.06" fill="#94b3d6"/>
<rect x="307.80" y="528.53" width="12.22" height="5.06" fill="#13559d"/>
<rect x="320.02" y="528.53" width="36.66" height="5.06" fill="#4079b7"/>
<rect x="356.68" y="528.53" width="24.44" height="5.06" fill="#6692c2"/>
<rect x="381.12" y="528.53" width="12.22" height="5.06" fill="#4079b7"/>
<rect x="393.34" y="528.53" width="12.22" height="5.06" fill="#2866ab"/>
<rect x="405.56" y="528.53" width="24.44" height="5.06" fill="#13559d"/>
<rect x="307.80" y="533.59" width="12.22" height="5.06" fill="#13559d"/>
<rect x="320.02" y="533.59" width="48.88" height="5.06" fill="#4079b7"/>
<rect x="368.90" y="533.59" width="24.44" height="5.06" fill="#2866ab"/>
<rect x="393.34" y="533.59" width="36.66" height="5.06" fill="#13559d"/>
<rect x="307.80" y="540.56" width="24.44" height="5.06" fill="#13559d"/>
<rect x="332.24" y="540.56" width="12.22" height="5.06" fill="#2866ab"/>
<rect x="344.46" y="540.56" width="85.54" height="5.06" fill="#13559d"/>
<rect x="307.80" y="545.62" width="12.22" height="5.06" fill="#13559d"/>
<rect x="320.02" y="545.62" width="12.22" height="5.06" fill="#2866ab"/>
<rect x="332.24" y="545.62" width="12.22" height="5.06" fill="#4079b7"/>
<rect x="344.46" y="545.62" width="12.22" height="5.06" fill="#2866ab"/>
<rect x="356.68" y="545.62" width="73.32" height="5.06" fill="#13559d"/>
<rect x="307.80" y="550.68" width="12.22" height="5.06" fill="#13559d"/>
<rect x="320.02" y="550.68" width="24.44" height="5.06" fill="#2866ab"/>
<rect x="344.46" y="550.68" width="12.22" height="5.06" fill="#4079b7"/>
<rect x="356.68" y="550.68" width="73.32" height="5.06" fill="#13559d"/>
<rect x="307.80" y="557.64" width="24.44" height="5.06" fill="#13559d"/>
<rect x="332.24" y="557.64" width="73.32" height="5.06" fill="#2866ab"/>
<rect x="405.56" y="557.64" width="12.22" height="5.06" fill="#4079b7"/>
<rect x="417.78" y="557.64" width="12.22" height="5.06" fill="#c9d9eb"/>
<rect x="307.80" y="562.71" width="24.44" height="5.06" fill="#13559d"/>
<rect x="332.24" y="562.71" width="61.10" height="5.06" fill="#2866ab"/>
<rect x="393.34" y="562.71" width="24.44" height="5.06" fill="#4079b7"/>
<rect x="417.78" y="562.71" width="12.22" height="5.06" fill="#6692c2"/>
<rect x="307.80" y="567.77" width="12.22" height="5.06" fill="#13559d"/>
<rect x="320.02" y="567.77" width="73.32" height="5.06" fill="#2866ab"/>
<rect x="393.34" y="567.77" width="24.44" height="5.06" fill="#4079b7"/>
<rect x="417.78" y="567.77" width="12.22" height="5.06" fill="#6692c2"/>
<rect x="307.80" y="572.83" width="12.22" height="5.06" fill="#13559d"/>
<rect x="320.02" y="572.83" width="61.10" height="5.06" fill="#2866ab"/>
<rect x="381.12" y="572.83" width="24.44" height="5.06" fill="#13559d"/>
<rect x="405.56" y="572.83" width="12.22" height="5.06" fill="#2866ab"/>
<rect x="417.78" y="572.83" width="12.22" height="5.06" fill="#4079b7"/>
<rect x="307.80" y="577.89" width="24.44" height="5.06" fill="#13559d"/>
<rect x="332.24" y="577.89" width="12.22" height="5.06" fill="#2866ab"/>
<rect x="344.46" y="577.89" width="12.22" height="5.06" fill="#13559d"/>
<rect x="356.68" y="577.89" width="24.44" height="5.06" fill="#2866ab"/>
<rect x="381.12" y="577.89" width="48.88" height="5.06" fill="#13559d"/>
<rect x="307.80" y="584.86" width="12.22" height="5.06" fill="#13559d"/>
<rect x="320.02" y="584.86" width="48.88" height="5.06" fill="#2866ab"/>
<rect x="368.90" y="584.86" width="24.44" height="5.06" fill="#4079b7"/>
<rect x="393.34" y="584.86" width="36.66" height="5.06" fill="#6692c2"/>
<rect x="307.80" y="589.92" width="12.22" height="5.06" fill="#13559d"/>
<rect x="320.02" y="589.92" width="61.10" height="5.06" fill="#2866ab"/>
<rect x="381.12" y="589.92" width="24.44" height="5.06" fill="#4079b7"/>
<rect x="405.56" y="589.92" width="24.44" height="5.06" fill="#2866ab"/>
<rect x="307.80" y="594.98" width="12.22" height="5.06" fill="#13559d"/>
<rect x="320.02" y="594.98" width="48.88" height="5.06" fill="#2866ab"/>
<rect x="368.90" y="594.98" width="36.66" height="5.06" fill="#4079b7"/>
<rect x="405.56" y="594.98" width="12.22" height="5.06" fill="#2866ab"/>
<rect x="417.78" y="594.98" width="12.22" height="5.06" fill="#13559d"/>
<rect x="307.80" y="601.94" width="24.44" height="5.06" fill="#13559d"/>
<rect x="332.24" y="601.94" width="24.44" height="5.06" fill="#94b3d6"/>
<rect x="356.68" y="601.94" width="24.44" height="5.06" fill="#fbf9f9"/>
<rect x="381.12" y="601.94" width="12.22" height="5.06" fill="#fbdede"/>
<rect x="393.34" y="601.94" width="24.44" height="5.06" fill="#fbf9f9"/>
<rect x="417.78" y="601.94" width="12.22" height="5.06" fill="#fbdede"/>
<rect x="307.80" y="607.01" width="12.22" height="5.06" fill="#13559d"/>
<rect x="320.02" y="607.01" width="12.22" height="5.06" fill="#4079b7"/>
<rect x="332.24" y="607.01" width="12.22" height="5.06" fill="#c9d9eb"/>
<rect x="344.46" y="607.01" width="12.22" height="5.06" fill="#94b3d6"/>
<rect x="356.68" y="607.01" width="36.66" height="5.06" fill="#6692c2"/>
<rect x="393.34" y="607.01" width="36.66" height="5.06" fill="#13559d"/>
<rect x="307.80" y="612.07" width="12.22" height="5.06" fill="#13559d"/>
<rect x="320.02" y="612.07" width="12.22" height="5.06" fill="#2866ab"/>
<rect x="332.24" y="612.07" width="12.22" height="5.06" fill="#4079b7"/>
<rect x="344.46" y="612.07" width="12.22" height="5.06" fill="#6692c2"/>
<rect x="356.68" y="612.07" width="36.66" height="5.06" fill="#4079b7"/>
<rect x="393.34" y="612.07" width="36.66" height="5.06" fill="#13559d"/>
<rect x="307.80" y="617.13" width="12.22" height="5.06" fill="#13559d"/>
<rect x="320.02" y="617.13" width="12.22" height="5.06" fill="#2866ab"/>
<rect x="332.24" y="617.13" width="48.88" height="5.06" fill="#4079b7"/>
<rect x="381.12" y="617.13" width="12.22" height="5.06" fill="#2866ab"/>
<rect x="393.34" y="617.13" width="36.66" height="5.06" fill="#13559d"/>
<rect x="307.80" y="622.20" width="12.22" height="5.06" fill="#13559d"/>
<rect x="320.02" y="622.20" width="12.22" height="5.06" fill="#2866ab"/>
<rect x="332.24" y="622.20" width="24.44" height="5.06" fill="#4079b7"/>
<rect x="356.68" y="622.20" width="36.66" height="5.06" fill="#2866ab"/>
<rect x="393.34" y="622.20" width="36.66" height="5.06" fill="#13559d"/>
<rect x="307.80" y="629.16" width="12.22" height="5.06" fill="#13559d"/>
<rect x="320.02" y="629.16" width="12.22" height="5.06" fill="#2866ab"/>
<rect x="332.24" y="629.16" width="12.22" height="5.06" fill="#4079b7"/>
<rect x="344.46" y="629.16" width="24.44" height="5.06" fill="#6692c2"/>
<rect x="368.90" y="629.16" width="12.22" height="5.06" fill="#94b3d6"/>
<rect x="381.12" y="629.16" width="12.22" height="5.06" fill="#c9d9eb"/>
<rect x="393.34" y="629.16" width="24.44" height="5.06" fill="#fbf9f9"/>
<rect x="417.78" y="629.16" width="12.22" height="5.06" fill="#fbdede"/>
<rect x="307.80" y="634.22" width="12.22" height="5.06" fill="#13559d"/>
<rect x="320.02" y="634.22" width="24.44" height="5.06" fill="#4079b7"/>
<rect x="344.46" y="634.22" width="24.44" height="5.06" fill="#2866ab"/>
<rect x="368.90" y="634.22" width="61.10" height="5.06" fill="#13559d"/>
<rect x="307.80" y="639.28" width="12.22" height="5.06" fill="#13559d"/>
<rect x="320.02" y="639.28" width="12.22" height="5.06" fill="#2866ab"/>
<rect x="332.24" y="639.28" width="12.22" height="5.06" fill="#94b3d6"/>
<rect x="344.46" y="639.28" width="12.22" height="5.06" fill="#2866ab"/>
<rect x="356.68" y="639.28" width="73.32" height="5.06" fill="#13559d"/>
<rect x="307.80" y="644.35" width="12.22" height="5.06" fill="#13559d"/>
<rect x="320.02" y="644.35" width="12.22" height="5.06" fill="#2866ab"/>
<rect x="332.24" y="644.35" width="12.22" height="5.06" fill="#94b3d6"/>
<rect x="344.46" y="644.35" width="12.22" height="5.06" fill="#2866ab"/>
<rect x="356.68" y="644.35" width="73.32" height="5.06" fill="#13559d"/>
<rect x="307.80" y="649.41" width="12.22" height="5.06" fill="#13559d"/>
<rect x="320.02" y="649.41" width="12.22" height="5.06" fill="#2866ab"/>
<rect x="332.24" y="649.41" width="12.22" height="5.06" fill="#6692c2"/>
<rect x="344.46" y="649.41" width="12.22" height="5.06" fill="#2866ab"/>
<rect x="356.68" y="649.41" width="73.32" height="5.06" fill="#13559d"/>
<rect x="307.80" y="656.37" width="12.22" height="5.06" fill="#13559d"/>
<rect x="320.02" y="656.37" width="12.22" height="5.06" fill="#2866ab"/>
<rect x="332.24" y="656.37" width="36.66" height="5.06" fill="#4079b7"/>
<rect x="368.90" y="656.37" width="24.44" height="5.06" fill="#2866ab"/>
<rect x="393.34" y="656.37" width="36.66" height="5.06" fill="#13559d"/>
<rect x="307.80" y="661.43" width="12.22" height="5.06" fill="#13559d"/>
<rect x="320.02" y="661.43" width="12.22" height="5.06" fill="#2866ab"/>
<rect x="332.24" y="661.43" width="48.88" height="5.06" fill="#4079b7"/>
<rect x="381.12" y="661.43" width="24.44" height="5.06" fill="#2866ab"/>
<rect x="405.56" y="661.43" width="24.44" height="5.06" fill="#13559d"/>
<rect x="307.80" y="666.50" width="12.22" height="5.06" fill="#13559d"/>
<rect x="320.02" y="666.50" width="36.66" height="5.06" fill="#4079b7"/>
<rect x="356.68" y="666.50" width="36.66" height="5.06" fill="#2866ab"/>
<rect x="393.34" y="666.50" width="36.66" height="5.06" fill="#13559d"/>
<rect x="307.80" y="673.46" width="12.22" height="5.06" fill="#13559d"/>
<rect x="320.02" y="673.46" width="12.22" height="5.06" fill="#4079b7"/>
<rect x="332.24" y="673.46" width="12.22" height="5.06" fill="#94b3d6"/>
<rect x="344.46" y="673.46" width="24.44" height="5.06" fill="#4079b7"/>
<rect x="368.90" y="673.46" width="12.22" height="5.06" fill="#2866ab"/>
<rect x="381.12" y="673.46" width="48.88" height="5.06" fill="#13559d"/>
<rect x="307.80" y="678.52" width="12.22" height="5.06" fill="#13559d"/>
<rect x="320.02" y="678.52" width="12.22" height="5.06" fill="#4079b7"/>
<rect x="332.24" y="678.52" width="12.22" height="5.06" fill="#6692c2"/>
<rect x="344.46" y="678.52" width="12.22" height="5.06" fill="#4079b7"/>
<rect x="356.68" y="678.52" width="12.22" height="5.06" fill="#2866ab"/>
<rect x="368.90" y="678.52" width="61.10" height="5.06" fill="#13559d"/>
<rect x="307.80" y="683.58" width="12.22" height="5.06" fill="#13559d"/>
<rect x="320.02" y="683.58" width="12.22" height="5.06" fill="#4079b7"/>
<rect x="332.24" y="683.58" width="24.44" height="5.06" fill="#6692c2"/>
<rect x="356.68" y="683.58" width="24.44" height="5.06" fill="#4079b7"/>
<rect x="381.12" y="683.58" width="12.22" height="5.06" fill="#2866ab"/>
<rect x="393.34" y="683.58" width="36.66" height="5.06" fill="#13559d"/>
<rect x="307.80" y="688.65" width="12.22" height="5.06" fill="#13559d"/>
<rect x="320.02" y="688.65" width="12.22" height="5.06" fill="#4079b7"/>
<rect x="332.24" y="688.65" width="12.22" height="5.06" fill="#6692c2"/>
<rect x="344.46" y="688.65" width="12.22" height="5.06" fill="#94b3d6"/>
<rect x="356.68" y="688.65" width="36.66" height="5.06" fill="#4079b7"/>
<rect x="393.34" y="688.65" width="36.66" height="5.06" fill="#13559d"/>
<rect x="307.80" y="693.71" width="12.22" height="5.06" fill="#13559d"/>
<rect x="320.02" y="693.71" width="36.66" height="5.06" fill="#6692c2"/>
<rect x="356.68" y="693.71" width="12.22" height="5.06" fill="#4079b7"/>
<rect x="368.90" y="693.71" width="12.22" height="5.06" fill="#2866ab"/>
<rect x="381.12" y="693.71" width="48.88" height="5.06" fill="#13559d"/>
<rect x="307.80" y="700.67" width="12.22" height="5.06" fill="#13559d"/>
<rect x="320.02" y="700.67" width="24.44" height="5.06" fill="#2866ab"/>
<rect x="344.46" y="700.67" width="85.54" height="5.06" fill="#13559d"/>
<rect x="307.80" y="705.73" width="12.22" height="5.06" fill="#13559d"/>
<rect x="320.02" y="705.73" width="36.66" height="5.06" fill="#2866ab"/>
<rect x="356.68" y="705.73" width="73.32" height="5.06" fill="#13559d"/>
<rect x="307.80" y="710.80" width="12.22" height="5.06" fill="#13559d"/>
<rect x="320.02" y="710.80" width="24.44" height="5.06" fill="#2866ab"/>
<rect x="344.46" y="710.80" width="85.54" height="5.06" fill="#13559d"/>
<rect x="307.80" y="717.76" width="12.22" height="5.06" fill="#13559d"/>
<rect x="320.02" y="717.76" width="61.10" height="5.06" fill="#2866ab"/>
<rect x="381.12" y="717.76" width="24.44" height="5.06" fill="#4079b7"/>
<rect x="405.56" y="717.76" width="24.44" height="5.06" fill="#13559d"/>
<rect x="307.80" y="722.82" width="12.22" height="5.06" fill="#13559d"/>
<rect x="320.02" y="722.82" width="48.88" height="5.06" fill="#2866ab"/>
<rect x="368.90" y="722.82" width="12.22" height="5.06" fill="#4079b7"/>
<rect x="381.12" y="722.82" width="48.88" height="5.06" fill="#13559d"/>
<rect x="307.80" y="727.89" width="12.22" height="5.06" fill="#13559d"/>
<rect x="320.02" y="727.89" width="24.44" height="5.06" fill="#2866ab"/>
<rect x="344.46" y="727.89" width="12.22" height="5.06" fill="#4079b7"/>
<rect x="356.68" y="727.89" width="12.22" height="5.06" fill="#2866ab"/>
<rect x="368.90" y="727.89" width="61.10" height="5.06" fill="#13559d"/>
<rect x="307.80" y="732.95" width="12.22" height="5.06" fill="#13559d"/>
<rect x="320.02" y="732.95" width="24.44" height="5.06" fill="#2866ab"/>
<rect x="344.46" y="732.95" width="24.44" height="5.06" fill="#4079b7"/>
<rect x="368.90" y="732.95" width="61.10" height="5.06" fill="#13559d"/>
<rect x="307.80" y="738.01" width="12.22" height="5.06" fill="#13559d"/>
<rect x="320.02" y="738.01" width="48.88" height="5.06" fill="#2866ab"/>
<rect x="368.90" y="738.01" width="61.10" height="5.06" fill="#13559d"/>
<rect x="307.80" y="744.97" width="12.22" height="5.06" fill="#13559d"/>
<rect x="320.02" y="744.97" width="12.22" height="5.06" fill="#2866ab"/>
<rect x="332.24" y="744.97" width="12.22" height="5.06" fill="#6692c2"/>
<rect x="344.46" y="744.97" width="24.44" height="5.06" fill="#4079b7"/>
<rect x="368.90" y="744.97" width="12.22" height="5.06" fill="#2866ab"/>
<rect x="381.12" y="744.97" width="48.88" height="5.06" fill="#13559d"/>
<rect x="307.80" y="750.04" width="12.22" height="5.06" fill="#13559d"/>
<rect x="320.02" y="750.04" width="12.22" height="5.06" fill="#4079b7"/>
<rect x="332.24" y="750.04" width="36.66" height="5.06" fill="#6692c2"/>
<rect x="368.90" y="750.04" width="24.44" height="5.06" fill="#2866ab"/>
<rect x="393.34" y="750.04" width="36.66" height="5.06" fill="#13559d"/>
<rect x="307.80" y="755.10" width="12.22" height="5.06" fill="#13559d"/>
<rect x="320.02" y="755.10" width="12.22" height="5.06" fill="#4079b7"/>
<rect x="332.24" y="755.10" width="36.66" height="5.06" fill="#6692c2"/>
<rect x="368.90" y="755.10" width="24.44" height="5.06" fill="#2866ab"/>
<rect x="393.34" y="755.10" width="36.66" height="5.06" fill="#13559d"/>
<rect x="307.80" y="760.16" width="12.22" height="5.06" fill="#13559d"/>
<rect x="320.02" y="760.16" width="24.44" height="5.06" fill="#2866ab"/>
<rect x="344.46" y="760.16" width="12.22" height="5.06" fill="#4079b7"/>
<rect x="356.68" y="760.16" width="48.88" height="5.06" fill="#2866ab"/>
<rect x="405.56" y="760.16" width="24.44" height="5.06" fill="#13559d"/>
<rect x="307.80" y="765.22" width="12.22" height="5.06" fill="#13559d"/>
<rect x="320.02" y="765.22" width="12.22" height="5.06" fill="#2866ab"/>
<rect x="332.24" y="765.22" width="24.44" height="5.06" fill="#4079b7"/>
<rect x="356.68" y="765.22" width="12.22" height="5.06" fill="#2866ab"/>
<rect x="368.90" y="765.22" width="61.10" height="5.06" fill="#13559d"/>
<rect x="307.80" y="772.19" width="12.22" height="5.06" fill="#13559d"/>
<rect x="320.02" y="772.19" width="12.22" height="5.06" fill="#2866ab"/>
<rect x="332.24" y="772.19" width="12.22" height="5.06" fill="#4079b7"/>
<rect x="344.46" y="772.19" width="24.44" height="5.06" fill="#6692c2"/>
<rect x="368.90" y="772.19" width="24.44" height="5.06" fill="#4079b7"/>
<rect x="393.34" y="772.19" width="24.44" height="5.06" fill="#13559d"/>
<rect x="417.78" y="772.19" width="12.22" height="5.06" fill="#4079b7"/>
<rect x="307.80" y="777.25" width="12.22" height="5.06" fill="#13559d"/>
<rect x="320.02" y="777.25" width="12.22" height="5.06" fill="#6692c2"/>
<rect x="332.24" y="777.25" width="12.22" height="5.06" fill="#c9d9eb"/>
<rect x="344.46" y="777.25" width="24.44" height="5.06" fill="#6692c2"/>
<rect x="368.90" y="777.25" width="61.10" height="5.06" fill="#13559d"/>
<rect x="307.80" y="782.31" width="12.22" height="5.06" fill="#13559d"/>
<rect x="320.02" y="782.31" width="12.22" height="5.06" fill="#2866ab"/>
<rect x="332.24" y="782.31" width="12.22" height="5.06" fill="#6692c2"/>
<rect x="344.46" y="782.31" width="24.44" height="5.06" fill="#2866ab"/>
<rect x="368.90" y="782.31" width="61.10" height="5.06" fill="#13559d"/>
<rect x="307.80" y="787.37" width="12.22" height="5.06" fill="#13559d"/>
<rect x="320.02" y="787.37" width="12.22" height="5.06" fill="#4079b7"/>
<rect x="332.24" y="787.37" width="12.22" height="5.06" fill="#6692c2"/>
<rect x="344.46" y="787.37" width="12.22" height="5.06" fill="#4079b7"/>
<rect x="356.68" y="787.37" width="12.22" height="5.06" fill="#2866ab"/>
<rect x="368.90" y="787.37" width="61.10" height="5.06" fill="#13559d"/>
<rect x="307.80" y="792.44" width="12.22" height="5.06" fill="#13559d"/>
<rect x="320.02" y="792.44" width="48.88" height="5.06" fill="#2866ab"/>
<rect x="368.90" y="792.44" width="61.10" height="5.06" fill="#13559d"/>
<path d="M307.80,343.10H430.00M307.80,348.16H430.00M307.80,353.23H430.00M307.80,358.29H430.00M307.80,363.35H430.00M307.80,368.41H430.00M307.80,343.10V368.41M320.02,343.10V368.41M332.24,343.10V368.41M344.46,343.10V368.41M356.68,343.10V368.41M368.90,343.10V368.41M381.12,343.10V368.41M393.34,343.10V368.41M405.56,343.10V368.41M417.78,343.10V368.41M430.00,343.10V368.41M307.80,370.31H430.00M307.80,375.38H430.00M307.80,380.44H430.00M307.80,385.50H430.00M307.80,390.56H430.00M307.80,370.31V390.56M320.02,370.31V390.56M332.24,370.31V390.56M344.46,370.31V390.56M356.68,370.31V390.56M368.90,370.31V390.56M381.12,370.31V390.56M393.34,370.31V390.56M405.56,370.31V390.56M417.78,370.31V390.56M430.00,370.31V390.56M307.80,392.46H430.00M307.80,397.53H430.00M307.80,402.59H430.00M307.80,407.65H430.00M307.80,412.71H430.00M307.80,417.78H430.00M307.80,392.46V417.78M320.02,392.46V417.78M332.24,392.46V417.78M344.46,392.46V417.78M356.68,392.46V417.78M368.90,392.46V417.78M381.12,392.46V417.78M393.34,392.46V417.78M405.56,392.46V417.78M417.78,392.46V417.78M430.00,392.46V417.78M307.80,419.68H430.00M307.80,424.74H430.00M307.80,429.80H430.00M307.80,434.87H430.00M307.80,439.93H430.00M307.80,444.99H430.00M307.80,419.68V444.99M320.02,419.68V444.99M332.24,419.68V444.99M344.46,419.68V444.99M356.68,419.68V444.99M368.90,419.68V444.99M381.12,419.68V444.99M393.34,419.68V444.99M405.56,419.68V444.99M417.78,419.68V444.99M430.00,419.68V444.99M307.80,446.89H430.00M307.80,451.95H430.00M307.80,457.02H430.00M307.80,462.08H430.00M307.80,467.14H430.00M307.80,472.20H430.00M307.80,446.89V472.20M320.02,446.89V472.20M332.24,446.89V472.20M344.46,446.89V472.20M356.68,446.89V472.20M368.90,446.89V472.20M381.12,446.89V472.20M393.34,446.89V472.20M405.56,446.89V472.20M417.78,446.89V472.20M430.00,446.89V472.20M307.80,474.10H430.00M307.80,479.17H430.00M307.80,484.23H430.00M307.80,489.29H430.00M307.80,474.10V489.29M320.02,474.10V489.29M332.24,474.10V489.29M344.46,474.10V489.29M356.68,474.10V489.29M368.90,474.10V489.29M381.12,474.10V489.29M393.34,474.10V489.29M405.56,474.10V489.29M417.78,474.10V489.29M430.00,474.10V489.29M307.80,491.19H430.00M307.80,496.25H430.00M307.80,501.32H430.00M307.80,506.38H430.00M307.80,511.44H430.00M307.80,516.50H430.00M307.80,491.19V516.50M320.02,491.19V516.50M332.24,491.19V516.50M344.46,491.19V516.50M356.68,491.19V516.50M368.90,491.19V516.50M381.12,491.19V516.50M393.34,491.19V516.50M405.56,491.19V516.50M417.78,491.19V516.50M430.00,491.19V516.50M307.80,518.40H430.00M307.80,523.47H430.00M307.80,528.53H430.00M307.80,533.59H430.00M307.80,538.66H430.00M307.80,518.40V538.66M320.02,518.40V538.66M332.24,518.40V538.66M344.46,518.40V538.66M356.68,518.40V538.66M368.90,518.40V538.66M381.12,518.40V538.66M393.34,518.40V538.66M405.56,518.40V538.66M417.78,518.40V538.66M430.00,518.40V538.66M307.80,540.56H430.00M307.80,545.62H430.00M307.80,550.68H430.00M307.80,555.74H430.00M307.80,540.56V555.74M320.02,540.56V555.74M332.24,540.56V555.74M344.46,540.56V555.74M356.68,540.56V555.74M368.90,540.56V555.74M381.12,540.56V555.74M393.34,540.56V555.74M405.56,540.56V555.74M417.78,540.56V555.74M430.00,540.56V555.74M307.80,557.64H430.00M307.80,562.71H430.00M307.80,567.77H430.00M307.80,572.83H430.00M307.80,577.89H430.00M307.80,582.96H430.00M307.80,557.64V582.96M320.02,557.64V582.96M332.24,557.64V582.96M344.46,557.64V582.96M356.68,557.64V582.96M368.90,557.64V582.96M381.12,557.64V582.96M393.34,557.64V582.96M405.56,557.64V582.96M417.78,557.64V582.96M430.00,557.64V582.96M307.80,584.86H430.00M307.80,589.92H430.00M307.80,594.98H430.00M307.80,600.04H430.00M307.80,584.86V600.04M320.02,584.86V600.04M332.24,584.86V600.04M344.46,584.86V600.04M356.68,584.86V600.04M368.90,584.86V600.04M381.12,584.86V600.04M393.34,584.86V600.04M405.56,584.86V600.04M417.78,584.86V600.04M430.00,584.86V600.04M307.80,601.94H430.00M307.80,607.01H430.00M307.80,612.07H430.00M307.80,617.13H430.00M307.80,622.20H430.00M307.80,627.26H430.00M307.80,601.94V627.26M320.02,601.94V627.26M332.24,601.94V627.26M344.46,601.94V627.26M356.68,601.94V627.26M368.90,601.94V627.26M381.12,601.94V627.26M393.34,601.94V627.26M405.56,601.94V627.26M417.78,601.94V627.26M430.00,601.94V627.26M307.80,629.16H430.00M307.80,634.22H430.00M307.80,639.28H430.00M307.80,644.35H430.00M307.80,649.41H430.00M307.80,654.47H430.00M307.80,629.16V654.47M320.02,629.16V654.47M332.24,629.16V654.47M344.46,629.16V654.47M356.68,629.16V654.47M368.90,629.16V654.47M381.12,629.16V654.47M393.34,629.16V654.47M405.56,629.16V654.47M417.78,629.16V654.47M430.00,629.16V654.47M307.80,656.37H430.00M307.80,661.43H430.00M307.80,666.50H430.00M307.80,671.56H430.00M307.80,656.37V671.56M320.02,656.37V671.56M332.24,656.37V671.56M344.46,656.37V671.56M356.68,656.37V671.56M368.90,656.37V671.56M381.12,656.37V671.56M393.34,656.37V671.56M405.56,656.37V671.56M417.78,656.37V671.56M430.00,656.37V671.56M307.80,673.46H430.00M307.80,678.52H430.00M307.80,683.58H430.00M307.80,688.65H430.00M307.80,693.71H430.00M307.80,698.77H430.00M307.80,673.46V698.77M320.02,673.46V698.77M332.24,673.46V698.77M344.46,673.46V698.77M356.68,673.46V698.77M368.90,673.46V698.77M381.12,673.46V698.77M393.34,673.46V698.77M405.56,673.46V698.77M417.78,673.46V698.77M430.00,673.46V698.77M307.80,700.67H430.00M307.80,705.73H430.00M307.80,710.80H430.00M307.80,715.86H430.00M307.80,700.67V715.86M320.02,700.67V715.86M332.24,700.67V715.86M344.46,700.67V715.86M356.68,700.67V715.86M368.90,700.67V715.86M381.12,700.67V715.86M393.34,700.67V715.86M405.56,700.67V715.86M417.78,700.67V715.86M430.00,700.67V715.86M307.80,717.76H430.00M307.80,722.82H430.00M307.80,727.89H430.00M307.80,732.95H430.00M307.80,738.01H430.00M307.80,743.07H430.00M307.80,717.76V743.07M320.02,717.76V743.07M332.24,717.76V743.07M344.46,717.76V743.07M356.68,717.76V743.07M368.90,717.76V743.07M381.12,717.76V743.07M393.34,717.76V743.07M405.56,717.76V743.07M417.78,717.76V743.07M430.00,717.76V743.07M307.80,744.97H430.00M307.80,750.04H430.00M307.80,755.10H430.00M307.80,760.16H430.00M307.80,765.22H430.00M307.80,770.29H430.00M307.80,744.97V770.29M320.02,744.97V770.29M332.24,744.97V770.29M344.46,744.97V770.29M356.68,744.97V770.29M368.90,744.97V770.29M381.12,744.97V770.29M393.34,744.97V770.29M405.56,744.97V770.29M417.78,744.97V770.29M430.00,744.97V770.29M307.80,772.19H430.00M307.80,777.25H430.00M307.80,782.31H430.00M307.80,787.37H430.00M307.80,792.44H430.00M307.80,797.50H430.00M307.80,772.19V797.50M320.02,772.19V797.50M332.24,772.19V797.50M344.46,772.19V797.50M356.68,772.19V797.50M368.90,772.19V797.50M381.12,772.19V797.50M393.34,772.19V797.50M405.56,772.19V797.50M417.78,772.19V797.50M430.00,772.19V797.50" stroke="#1a2230" stroke-width="0.55" stroke-opacity="0.85" fill="none"/>
<path d="M303.60,345.93H307.8" stroke="#555" stroke-width="0.7"/>
<text x="298.90" y="348.93" font-size="8.8" text-anchor="end" fill="#333333">88R5</text>
<path d="M303.60,373.14H307.8" stroke="#555" stroke-width="0.7"/>
<text x="298.90" y="376.14" font-size="8.8" text-anchor="end" fill="#333333">51R6</text>
<path d="M303.60,395.30H307.8" stroke="#555" stroke-width="0.7"/>
<text x="298.90" y="398.30" font-size="8.8" text-anchor="end" fill="#333333">88R4</text>
<path d="M303.60,422.51H307.8" stroke="#555" stroke-width="0.7"/>
<text x="298.90" y="425.51" font-size="8.8" text-anchor="end" fill="#333333">88R9</text>
<path d="M303.60,449.72H307.8" stroke="#555" stroke-width="0.7"/>
<text x="298.90" y="452.72" font-size="8.8" text-anchor="end" fill="#333333">88R6</text>
<path d="M303.60,476.93H307.8" stroke="#555" stroke-width="0.7"/>
<text x="298.90" y="479.93" font-size="8.8" text-anchor="end" fill="#333333">51R3</text>
<path d="M303.60,494.02H307.8" stroke="#555" stroke-width="0.7"/>
<text x="298.90" y="497.02" font-size="8.8" text-anchor="end" fill="#333333">88R11</text>
<path d="M303.60,521.24H307.8" stroke="#555" stroke-width="0.7"/>
<text x="298.90" y="524.24" font-size="8.8" text-anchor="end" fill="#333333">51R8</text>
<path d="M303.60,543.39H307.8" stroke="#555" stroke-width="0.7"/>
<text x="298.90" y="546.39" font-size="8.8" text-anchor="end" fill="#333333">51R2</text>
<path d="M303.60,560.47H307.8" stroke="#555" stroke-width="0.7"/>
<text x="298.90" y="563.47" font-size="8.8" text-anchor="end" fill="#333333">88R1</text>
<path d="M303.60,587.69H307.8" stroke="#555" stroke-width="0.7"/>
<text x="298.90" y="590.69" font-size="8.8" text-anchor="end" fill="#333333">51R7</text>
<path d="M303.60,604.78H307.8" stroke="#555" stroke-width="0.7"/>
<text x="298.90" y="607.78" font-size="8.8" text-anchor="end" fill="#333333">88R7</text>
<path d="M303.60,631.99H307.8" stroke="#555" stroke-width="0.7"/>
<text x="298.90" y="634.99" font-size="8.8" text-anchor="end" fill="#333333">88R8</text>
<path d="M303.60,659.20H307.8" stroke="#555" stroke-width="0.7"/>
<text x="298.90" y="662.20" font-size="8.8" text-anchor="end" fill="#333333">51R5</text>
<path d="M303.60,676.29H307.8" stroke="#555" stroke-width="0.7"/>
<text x="298.90" y="679.29" font-size="8.8" text-anchor="end" fill="#333333">51R1</text>
<path d="M303.60,703.50H307.8" stroke="#555" stroke-width="0.7"/>
<text x="298.90" y="706.50" font-size="8.8" text-anchor="end" fill="#333333">51R4</text>
<path d="M303.60,720.59H307.8" stroke="#555" stroke-width="0.7"/>
<text x="298.90" y="723.59" font-size="8.8" text-anchor="end" fill="#333333">88R2</text>
<path d="M303.60,747.80H307.8" stroke="#555" stroke-width="0.7"/>
<text x="298.90" y="750.80" font-size="8.8" text-anchor="end" fill="#333333">88R3</text>
<path d="M303.60,775.02H307.8" stroke="#555" stroke-width="0.7"/>
<text x="298.90" y="778.02" font-size="8.8" text-anchor="end" fill="#333333">88R10</text>
<path d="M332.24,797.5V801.0" stroke="#555" stroke-width="0.7"/>
<text x="332.24" y="812.2" font-size="8.6" text-anchor="middle" fill="#333333">5</text>
<path d="M356.68,797.5V801.0" stroke="#555" stroke-width="0.7"/>
<text x="356.68" y="812.2" font-size="8.6" text-anchor="middle" fill="#333333">10</text>
<path d="M381.12,797.5V801.0" stroke="#555" stroke-width="0.7"/>
<text x="381.12" y="812.2" font-size="8.6" text-anchor="middle" fill="#333333">15</text>
<path d="M405.56,797.5V801.0" stroke="#555" stroke-width="0.7"/>
<text x="405.56" y="812.2" font-size="8.6" text-anchor="middle" fill="#333333">20</text>
<path d="M430.00,797.5V801.0" stroke="#555" stroke-width="0.7"/>
<text x="430.00" y="812.2" font-size="8.6" text-anchor="middle" fill="#333333">25</text>
<text x="370.90" y="827.4" font-size="9.6" text-anchor="middle" fill="#333333" textLength="55" lengthAdjust="spacingAndGlyphs">Time (days)</text>
<rect x="543.7" y="343.1" width="122.09999999999991" height="454.4" fill="#ebebeb"/>
<rect x="543.70" y="343.10" width="12.21" height="3.63" fill="#13559d"/>
<rect x="555.91" y="343.10" width="12.21" height="3.63" fill="#6692c2"/>
<rect x="568.12" y="343.10" width="12.21" height="3.63" fill="#94b3d6"/>
<rect x="580.33" y="343.10" width="12.21" height="3.63" fill="#ec6868"/>
<rect x="592.54" y="343.10" width="73.26" height="3.63" fill="#c4232a"/>
<rect x="543.70" y="346.73" width="12.21" height="3.63" fill="#13559d"/>
<rect x="555.91" y="346.73" width="12.21" height="3.63" fill="#6692c2"/>
<rect x="568.12" y="346.73" width="12.21" height="3.63" fill="#fbf9f9"/>
<rect x="580.33" y="346.73" width="12.21" height="3.63" fill="#f6b6b6"/>
<rect x="592.54" y="346.73" width="12.21" height="3.63" fill="#e2352f"/>
<rect x="604.75" y="346.73" width="61.05" height="3.63" fill="#c4232a"/>
<rect x="543.70" y="350.37" width="12.21" height="3.63" fill="#13559d"/>
<rect x="555.91" y="350.37" width="12.21" height="3.63" fill="#6692c2"/>
<rect x="568.12" y="350.37" width="12.21" height="3.63" fill="#c9d9eb"/>
<rect x="580.33" y="350.37" width="12.21" height="3.63" fill="#f6b6b6"/>
<rect x="592.54" y="350.37" width="12.21" height="3.63" fill="#f08a8a"/>
<rect x="604.75" y="350.37" width="61.05" height="3.63" fill="#c4232a"/>
<rect x="543.70" y="354.00" width="12.21" height="3.63" fill="#13559d"/>
<rect x="555.91" y="354.00" width="12.21" height="3.63" fill="#4079b7"/>
<rect x="568.12" y="354.00" width="12.21" height="3.63" fill="#94b3d6"/>
<rect x="580.33" y="354.00" width="12.21" height="3.63" fill="#fbdede"/>
<rect x="592.54" y="354.00" width="12.21" height="3.63" fill="#f6b6b6"/>
<rect x="604.75" y="354.00" width="61.05" height="3.63" fill="#c4232a"/>
<rect x="543.70" y="357.64" width="12.21" height="3.63" fill="#13559d"/>
<rect x="555.91" y="357.64" width="12.21" height="3.63" fill="#6692c2"/>
<rect x="568.12" y="357.64" width="12.21" height="3.63" fill="#94b3d6"/>
<rect x="580.33" y="357.64" width="12.21" height="3.63" fill="#fbdede"/>
<rect x="592.54" y="357.64" width="12.21" height="3.63" fill="#f6b6b6"/>
<rect x="604.75" y="357.64" width="12.21" height="3.63" fill="#f08a8a"/>
<rect x="616.96" y="357.64" width="12.21" height="3.63" fill="#e2352f"/>
<rect x="629.17" y="357.64" width="36.63" height="3.63" fill="#c4232a"/>
<rect x="543.70" y="363.17" width="24.42" height="3.63" fill="#13559d"/>
<rect x="568.12" y="363.17" width="12.21" height="3.63" fill="#6692c2"/>
<rect x="580.33" y="363.17" width="12.21" height="3.63" fill="#fbf9f9"/>
<rect x="592.54" y="363.17" width="12.21" height="3.63" fill="#fbdede"/>
<rect x="604.75" y="363.17" width="12.21" height="3.63" fill="#ec6868"/>
<rect x="616.96" y="363.17" width="48.84" height="3.63" fill="#c4232a"/>
<rect x="543.70" y="366.81" width="24.42" height="3.63" fill="#13559d"/>
<rect x="568.12" y="366.81" width="12.21" height="3.63" fill="#6692c2"/>
<rect x="580.33" y="366.81" width="12.21" height="3.63" fill="#fbf9f9"/>
<rect x="592.54" y="366.81" width="12.21" height="3.63" fill="#f6b6b6"/>
<rect x="604.75" y="366.81" width="61.05" height="3.63" fill="#c4232a"/>
<rect x="543.70" y="370.44" width="24.42" height="3.63" fill="#13559d"/>
<rect x="568.12" y="370.44" width="12.21" height="3.63" fill="#94b3d6"/>
<rect x="580.33" y="370.44" width="12.21" height="3.63" fill="#fbf9f9"/>
<rect x="592.54" y="370.44" width="12.21" height="3.63" fill="#fbdede"/>
<rect x="604.75" y="370.44" width="12.21" height="3.63" fill="#f6b6b6"/>
<rect x="616.96" y="370.44" width="12.21" height="3.63" fill="#f08a8a"/>
<rect x="629.17" y="370.44" width="36.63" height="3.63" fill="#c4232a"/>
<rect x="543.70" y="374.08" width="12.21" height="3.63" fill="#13559d"/>
<rect x="555.91" y="374.08" width="12.21" height="3.63" fill="#2866ab"/>
<rect x="568.12" y="374.08" width="24.42" height="3.63" fill="#94b3d6"/>
<rect x="592.54" y="374.08" width="12.21" height="3.63" fill="#fbf9f9"/>
<rect x="604.75" y="374.08" width="12.21" height="3.63" fill="#fbdede"/>
<rect x="616.96" y="374.08" width="12.21" height="3.63" fill="#f6b6b6"/>
<rect x="629.17" y="374.08" width="36.63" height="3.63" fill="#c4232a"/>
<rect x="543.70" y="377.71" width="12.21" height="3.63" fill="#13559d"/>
<rect x="555.91" y="377.71" width="12.21" height="3.63" fill="#2866ab"/>
<rect x="568.12" y="377.71" width="24.42" height="3.63" fill="#94b3d6"/>
<rect x="592.54" y="377.71" width="12.21" height="3.63" fill="#c9d9eb"/>
<rect x="604.75" y="377.71" width="12.21" height="3.63" fill="#fbdede"/>
<rect x="616.96" y="377.71" width="12.21" height="3.63" fill="#f6b6b6"/>
<rect x="629.17" y="377.71" width="36.63" height="3.63" fill="#c4232a"/>
<rect x="543.70" y="383.25" width="12.21" height="3.63" fill="#13559d"/>
<rect x="555.91" y="383.25" width="24.42" height="3.63" fill="#6692c2"/>
<rect x="580.33" y="383.25" width="12.21" height="3.63" fill="#fbf9f9"/>
<rect x="592.54" y="383.25" width="12.21" height="3.63" fill="#fbdede"/>
<rect x="604.75" y="383.25" width="12.21" height="3.63" fill="#f6b6b6"/>
<rect x="616.96" y="383.25" width="12.21" height="3.63" fill="#f08a8a"/>
<rect x="629.17" y="383.25" width="36.63" height="3.63" fill="#c4232a"/>
<rect x="543.70" y="386.88" width="12.21" height="3.63" fill="#13559d"/>
<rect x="555.91" y="386.88" width="12.21" height="3.63" fill="#4079b7"/>
<rect x="568.12" y="386.88" width="12.21" height="3.63" fill="#6692c2"/>
<rect x="580.33" y="386.88" width="12.21" height="3.63" fill="#fbf9f9"/>
<rect x="592.54" y="386.88" width="24.42" height="3.63" fill="#fbdede"/>
<rect x="616.96" y="386.88" width="12.21" height="3.63" fill="#f08a8a"/>
<rect x="629.17" y="386.88" width="36.63" height="3.63" fill="#c4232a"/>
<rect x="543.70" y="390.51" width="12.21" height="3.63" fill="#13559d"/>
<rect x="555.91" y="390.51" width="12.21" height="3.63" fill="#4079b7"/>
<rect x="568.12" y="390.51" width="12.21" height="3.63" fill="#6692c2"/>
<rect x="580.33" y="390.51" width="12.21" height="3.63" fill="#c9d9eb"/>
<rect x="592.54" y="390.51" width="12.21" height="3.63" fill="#fbf9f9"/>
<rect x="604.75" y="390.51" width="24.42" height="3.63" fill="#f6b6b6"/>
<rect x="629.17" y="390.51" width="36.63" height="3.63" fill="#c4232a"/>
<rect x="543.70" y="394.15" width="12.21" height="3.63" fill="#13559d"/>
<rect x="555.91" y="394.15" width="12.21" height="3.63" fill="#4079b7"/>
<rect x="568.12" y="394.15" width="12.21" height="3.63" fill="#6692c2"/>
<rect x="580.33" y="394.15" width="12.21" height="3.63" fill="#c9d9eb"/>
<rect x="592.54" y="394.15" width="12.21" height="3.63" fill="#fbf9f9"/>
<rect x="604.75" y="394.15" width="36.63" height="3.63" fill="#f6b6b6"/>
<rect x="641.38" y="394.15" width="12.21" height="3.63" fill="#e2352f"/>
<rect x="653.59" y="394.15" width="12.21" height="3.63" fill="#c4232a"/>
<rect x="543.70" y="397.78" width="12.21" height="3.63" fill="#13559d"/>
<rect x="555.91" y="397.78" width="12.21" height="3.63" fill="#2866ab"/>
<rect x="568.12" y="397.78" width="12.21" height="3.63" fill="#4079b7"/>
<rect x="580.33" y="397.78" width="36.63" height="3.63" fill="#6692c2"/>
<rect x="616.96" y="397.78" width="12.21" height="3.63" fill="#94b3d6"/>
<rect x="629.17" y="397.78" width="12.21" height="3.63" fill="#fbf9f9"/>
<rect x="641.38" y="397.78" width="24.42" height="3.63" fill="#fbdede"/>
<rect x="543.70" y="403.32" width="12.21" height="3.63" fill="#13559d"/>
<rect x="555.91" y="403.32" width="12.21" height="3.63" fill="#2866ab"/>
<rect x="568.12" y="403.32" width="12.21" height="3.63" fill="#94b3d6"/>
<rect x="580.33" y="403.32" width="24.42" height="3.63" fill="#fbf9f9"/>
<rect x="604.75" y="403.32" width="61.05" height="3.63" fill="#c4232a"/>
<rect x="543.70" y="406.95" width="12.21" height="3.63" fill="#13559d"/>
<rect x="555.91" y="406.95" width="12.21" height="3.63" fill="#2866ab"/>
<rect x="568.12" y="406.95" width="12.21" height="3.63" fill="#94b3d6"/>
<rect x="580.33" y="406.95" width="12.21" height="3.63" fill="#c9d9eb"/>
<rect x="592.54" y="406.95" width="12.21" height="3.63" fill="#fbdede"/>
<rect x="604.75" y="406.95" width="12.21" height="3.63" fill="#e2352f"/>
<rect x="616.96" y="406.95" width="48.84" height="3.63" fill="#c4232a"/>
<rect x="543.70" y="410.59" width="12.21" height="3.63" fill="#13559d"/>
<rect x="555.91" y="410.59" width="12.21" height="3.63" fill="#2866ab"/>
<rect x="568.12" y="410.59" width="12.21" height="3.63" fill="#6692c2"/>
<rect x="580.33" y="410.59" width="12.21" height="3.63" fill="#fbf9f9"/>
<rect x="592.54" y="410.59" width="12.21" height="3.63" fill="#fbdede"/>
<rect x="604.75" y="410.59" width="12.21" height="3.63" fill="#f08a8a"/>
<rect x="616.96" y="410.59" width="48.84" height="3.63" fill="#c4232a"/>
<rect x="543.70" y="414.22" width="12.21" height="3.63" fill="#13559d"/>
<rect x="555.91" y="414.22" width="12.21" height="3.63" fill="#4079b7"/>
<rect x="568.12" y="414.22" width="12.21" height="3.63" fill="#94b3d6"/>
<rect x="580.33" y="414.22" width="12.21" height="3.63" fill="#c9d9eb"/>
<rect x="592.54" y="414.22" width="12.21" height="3.63" fill="#fbf9f9"/>
<rect x="604.75" y="414.22" width="12.21" height="3.63" fill="#fbdede"/>
<rect x="616.96" y="414.22" width="12.21" height="3.63" fill="#f6b6b6"/>
<rect x="629.17" y="414.22" width="12.21" height="3.63" fill="#ec6868"/>
<rect x="641.38" y="414.22" width="24.42" height="3.63" fill="#c4232a"/>
<rect x="543.70" y="417.86" width="12.21" height="3.63" fill="#13559d"/>
<rect x="555.91" y="417.86" width="12.21" height="3.63" fill="#4079b7"/>
<rect x="568.12" y="417.86" width="12.21" height="3.63" fill="#6692c2"/>
<rect x="580.33" y="417.86" width="12.21" height="3.63" fill="#94b3d6"/>
<rect x="592.54" y="417.86" width="24.42" height="3.63" fill="#fbf9f9"/>
<rect x="616.96" y="417.86" width="24.42" height="3.63" fill="#fbdede"/>
<rect x="641.38" y="417.86" width="24.42" height="3.63" fill="#f6b6b6"/>
<rect x="543.70" y="423.39" width="12.21" height="3.63" fill="#13559d"/>
<rect x="555.91" y="423.39" width="12.21" height="3.63" fill="#2866ab"/>
<rect x="568.12" y="423.39" width="12.21" height="3.63" fill="#6692c2"/>
<rect x="580.33" y="423.39" width="24.42" height="3.63" fill="#fbf9f9"/>
<rect x="604.75" y="423.39" width="24.42" height="3.63" fill="#fbdede"/>
<rect x="629.17" y="423.39" width="36.63" height="3.63" fill="#c4232a"/>
<rect x="543.70" y="427.02" width="12.21" height="3.63" fill="#13559d"/>
<rect x="555.91" y="427.02" width="12.21" height="3.63" fill="#2866ab"/>
<rect x="568.12" y="427.02" width="12.21" height="3.63" fill="#6692c2"/>
<rect x="580.33" y="427.02" width="12.21" height="3.63" fill="#c9d9eb"/>
<rect x="592.54" y="427.02" width="12.21" height="3.63" fill="#fbf9f9"/>
<rect x="604.75" y="427.02" width="24.42" height="3.63" fill="#fbdede"/>
<rect x="629.17" y="427.02" width="12.21" height="3.63" fill="#f6b6b6"/>
<rect x="641.38" y="427.02" width="24.42" height="3.63" fill="#c4232a"/>
<rect x="543.70" y="430.66" width="12.21" height="3.63" fill="#13559d"/>
<rect x="555.91" y="430.66" width="12.21" height="3.63" fill="#2866ab"/>
<rect x="568.12" y="430.66" width="12.21" height="3.63" fill="#6692c2"/>
<rect x="580.33" y="430.66" width="24.42" height="3.63" fill="#c9d9eb"/>
<rect x="604.75" y="430.66" width="12.21" height="3.63" fill="#fbf9f9"/>
<rect x="616.96" y="430.66" width="12.21" height="3.63" fill="#fbdede"/>
<rect x="629.17" y="430.66" width="12.21" height="3.63" fill="#f6b6b6"/>
<rect x="641.38" y="430.66" width="24.42" height="3.63" fill="#c4232a"/>
<rect x="543.70" y="434.29" width="12.21" height="3.63" fill="#13559d"/>
<rect x="555.91" y="434.29" width="12.21" height="3.63" fill="#2866ab"/>
<rect x="568.12" y="434.29" width="12.21" height="3.63" fill="#6692c2"/>
<rect x="580.33" y="434.29" width="12.21" height="3.63" fill="#94b3d6"/>
<rect x="592.54" y="434.29" width="12.21" height="3.63" fill="#c9d9eb"/>
<rect x="604.75" y="434.29" width="12.21" height="3.63" fill="#fbf9f9"/>
<rect x="616.96" y="434.29" width="12.21" height="3.63" fill="#fbdede"/>
<rect x="629.17" y="434.29" width="12.21" height="3.63" fill="#f6b6b6"/>
<rect x="641.38" y="434.29" width="12.21" height="3.63" fill="#f08a8a"/>
<rect x="653.59" y="434.29" width="12.21" height="3.63" fill="#e2352f"/>
<rect x="543.70" y="437.93" width="12.21" height="3.63" fill="#13559d"/>
<rect x="555.91" y="437.93" width="12.21" height="3.63" fill="#2866ab"/>
<rect x="568.12" y="437.93" width="12.21" height="3.63" fill="#4079b7"/>
<rect x="580.33" y="437.93" width="24.42" height="3.63" fill="#6692c2"/>
<rect x="604.75" y="437.93" width="24.42" height="3.63" fill="#94b3d6"/>
<rect x="629.17" y="437.93" width="24.42" height="3.63" fill="#fbf9f9"/>
<rect x="653.59" y="437.93" width="12.21" height="3.63" fill="#fbdede"/>
<rect x="543.70" y="443.46" width="24.42" height="3.63" fill="#13559d"/>
<rect x="568.12" y="443.46" width="12.21" height="3.63" fill="#4079b7"/>
<rect x="580.33" y="443.46" width="12.21" height="3.63" fill="#6692c2"/>
<rect x="592.54" y="443.46" width="12.21" height="3.63" fill="#fbf9f9"/>
<rect x="604.75" y="443.46" width="24.42" height="3.63" fill="#fbdede"/>
<rect x="629.17" y="443.46" width="12.21" height="3.63" fill="#f6b6b6"/>
<rect x="641.38" y="443.46" width="24.42" height="3.63" fill="#c4232a"/>
<rect x="543.70" y="447.10" width="24.42" height="3.63" fill="#13559d"/>
<rect x="568.12" y="447.10" width="12.21" height="3.63" fill="#4079b7"/>
<rect x="580.33" y="447.10" width="12.21" height="3.63" fill="#94b3d6"/>
<rect x="592.54" y="447.10" width="24.42" height="3.63" fill="#fbf9f9"/>
<rect x="616.96" y="447.10" width="12.21" height="3.63" fill="#fbdede"/>
<rect x="629.17" y="447.10" width="12.21" height="3.63" fill="#f6b6b6"/>
<rect x="641.38" y="447.10" width="12.21" height="3.63" fill="#f08a8a"/>
<rect x="653.59" y="447.10" width="12.21" height="3.63" fill="#c4232a"/>
<rect x="543.70" y="450.73" width="24.42" height="3.63" fill="#13559d"/>
<rect x="568.12" y="450.73" width="12.21" height="3.63" fill="#4079b7"/>
<rect x="580.33" y="450.73" width="36.63" height="3.63" fill="#fbf9f9"/>
<rect x="616.96" y="450.73" width="12.21" height="3.63" fill="#fbdede"/>
<rect x="629.17" y="450.73" width="12.21" height="3.63" fill="#f08a8a"/>
<rect x="641.38" y="450.73" width="24.42" height="3.63" fill="#c4232a"/>
<rect x="543.70" y="454.37" width="24.42" height="3.63" fill="#13559d"/>
<rect x="568.12" y="454.37" width="12.21" height="3.63" fill="#2866ab"/>
<rect x="580.33" y="454.37" width="12.21" height="3.63" fill="#4079b7"/>
<rect x="592.54" y="454.37" width="12.21" height="3.63" fill="#94b3d6"/>
<rect x="604.75" y="454.37" width="12.21" height="3.63" fill="#fbf9f9"/>
<rect x="616.96" y="454.37" width="24.42" height="3.63" fill="#fbdede"/>
<rect x="641.38" y="454.37" width="12.21" height="3.63" fill="#f6b6b6"/>
<rect x="653.59" y="454.37" width="12.21" height="3.63" fill="#c4232a"/>
<rect x="543.70" y="458.00" width="24.42" height="3.63" fill="#13559d"/>
<rect x="568.12" y="458.00" width="12.21" height="3.63" fill="#2866ab"/>
<rect x="580.33" y="458.00" width="12.21" height="3.63" fill="#4079b7"/>
<rect x="592.54" y="458.00" width="12.21" height="3.63" fill="#94b3d6"/>
<rect x="604.75" y="458.00" width="12.21" height="3.63" fill="#c9d9eb"/>
<rect x="616.96" y="458.00" width="12.21" height="3.63" fill="#fbf9f9"/>
<rect x="629.17" y="458.00" width="24.42" height="3.63" fill="#fbdede"/>
<rect x="653.59" y="458.00" width="12.21" height="3.63" fill="#f08a8a"/>
<rect x="543.70" y="463.54" width="12.21" height="3.63" fill="#13559d"/>
<rect x="555.91" y="463.54" width="12.21" height="3.63" fill="#2866ab"/>
<rect x="568.12" y="463.54" width="12.21" height="3.63" fill="#4079b7"/>
<rect x="580.33" y="463.54" width="12.21" height="3.63" fill="#6692c2"/>
<rect x="592.54" y="463.54" width="24.42" height="3.63" fill="#fbf9f9"/>
<rect x="616.96" y="463.54" width="12.21" height="3.63" fill="#fbdede"/>
<rect x="629.17" y="463.54" width="12.21" height="3.63" fill="#f6b6b6"/>
<rect x="641.38" y="463.54" width="12.21" height="3.63" fill="#f08a8a"/>
<rect x="653.59" y="463.54" width="12.21" height="3.63" fill="#c4232a"/>
<rect x="543.70" y="467.17" width="12.21" height="3.63" fill="#13559d"/>
<rect x="555.91" y="467.17" width="12.21" height="3.63" fill="#2866ab"/>
<rect x="568.12" y="467.17" width="12.21" height="3.63" fill="#4079b7"/>
<rect x="580.33" y="467.17" width="12.21" height="3.63" fill="#c9d9eb"/>
<rect x="592.54" y="467.17" width="36.63" height="3.63" fill="#fbf9f9"/>
<rect x="629.17" y="467.17" width="12.21" height="3.63" fill="#f6b6b6"/>
<rect x="641.38" y="467.17" width="12.21" height="3.63" fill="#f08a8a"/>
<rect x="653.59" y="467.17" width="12.21" height="3.63" fill="#e2352f"/>
<rect x="543.70" y="470.80" width="12.21" height="3.63" fill="#13559d"/>
<rect x="555.91" y="470.80" width="12.21" height="3.63" fill="#2866ab"/>
<rect x="568.12" y="470.80" width="12.21" height="3.63" fill="#4079b7"/>
<rect x="580.33" y="470.80" width="12.21" height="3.63" fill="#94b3d6"/>
<rect x="592.54" y="470.80" width="24.42" height="3.63" fill="#c9d9eb"/>
<rect x="616.96" y="470.80" width="12.21" height="3.63" fill="#fbf9f9"/>
<rect x="629.17" y="470.80" width="12.21" height="3.63" fill="#fbdede"/>
<rect x="641.38" y="470.80" width="12.21" height="3.63" fill="#f6b6b6"/>
<rect x="653.59" y="470.80" width="12.21" height="3.63" fill="#e2352f"/>
<rect x="543.70" y="474.44" width="12.21" height="3.63" fill="#13559d"/>
<rect x="555.91" y="474.44" width="12.21" height="3.63" fill="#2866ab"/>
<rect x="568.12" y="474.44" width="24.42" height="3.63" fill="#94b3d6"/>
<rect x="592.54" y="474.44" width="12.21" height="3.63" fill="#fbf9f9"/>
<rect x="604.75" y="474.44" width="24.42" height="3.63" fill="#fbdede"/>
<rect x="629.17" y="474.44" width="12.21" height="3.63" fill="#f6b6b6"/>
<rect x="641.38" y="474.44" width="12.21" height="3.63" fill="#f08a8a"/>
<rect x="653.59" y="474.44" width="12.21" height="3.63" fill="#e2352f"/>
<rect x="543.70" y="478.07" width="12.21" height="3.63" fill="#13559d"/>
<rect x="555.91" y="478.07" width="97.68" height="3.63" fill="#2866ab"/>
<rect x="653.59" y="478.07" width="12.21" height="3.63" fill="#4079b7"/>
<rect x="543.70" y="483.61" width="12.21" height="3.63" fill="#13559d"/>
<rect x="555.91" y="483.61" width="12.21" height="3.63" fill="#4079b7"/>
<rect x="568.12" y="483.61" width="12.21" height="3.63" fill="#94b3d6"/>
<rect x="580.33" y="483.61" width="12.21" height="3.63" fill="#c9d9eb"/>
<rect x="592.54" y="483.61" width="12.21" height="3.63" fill="#fbf9f9"/>
<rect x="604.75" y="483.61" width="24.42" height="3.63" fill="#fbdede"/>
<rect x="629.17" y="483.61" width="12.21" height="3.63" fill="#f08a8a"/>
<rect x="641.38" y="483.61" width="12.21" height="3.63" fill="#e2352f"/>
<rect x="653.59" y="483.61" width="12.21" height="3.63" fill="#c4232a"/>
<rect x="543.70" y="487.24" width="12.21" height="3.63" fill="#13559d"/>
<rect x="555.91" y="487.24" width="12.21" height="3.63" fill="#4079b7"/>
<rect x="568.12" y="487.24" width="12.21" height="3.63" fill="#6692c2"/>
<rect x="580.33" y="487.24" width="12.21" height="3.63" fill="#94b3d6"/>
<rect x="592.54" y="487.24" width="24.42" height="3.63" fill="#c9d9eb"/>
<rect x="616.96" y="487.24" width="12.21" height="3.63" fill="#fbf9f9"/>
<rect x="629.17" y="487.24" width="12.21" height="3.63" fill="#f6b6b6"/>
<rect x="641.38" y="487.24" width="12.21" height="3.63" fill="#f08a8a"/>
<rect x="653.59" y="487.24" width="12.21" height="3.63" fill="#ec6868"/>
<rect x="543.70" y="490.88" width="12.21" height="3.63" fill="#13559d"/>
<rect x="555.91" y="490.88" width="24.42" height="3.63" fill="#4079b7"/>
<rect x="580.33" y="490.88" width="12.21" height="3.63" fill="#fbf9f9"/>
<rect x="592.54" y="490.88" width="12.21" height="3.63" fill="#94b3d6"/>
<rect x="604.75" y="490.88" width="12.21" height="3.63" fill="#c9d9eb"/>
<rect x="616.96" y="490.88" width="12.21" height="3.63" fill="#fbf9f9"/>
<rect x="629.17" y="490.88" width="12.21" height="3.63" fill="#fbdede"/>
<rect x="641.38" y="490.88" width="12.21" height="3.63" fill="#f6b6b6"/>
<rect x="653.59" y="490.88" width="12.21" height="3.63" fill="#f08a8a"/>
<rect x="543.70" y="494.51" width="12.21" height="3.63" fill="#13559d"/>
<rect x="555.91" y="494.51" width="24.42" height="3.63" fill="#4079b7"/>
<rect x="580.33" y="494.51" width="12.21" height="3.63" fill="#6692c2"/>
<rect x="592.54" y="494.51" width="24.42" height="3.63" fill="#c9d9eb"/>
<rect x="616.96" y="494.51" width="12.21" height="3.63" fill="#fbf9f9"/>
<rect x="629.17" y="494.51" width="24.42" height="3.63" fill="#fbdede"/>
<rect x="653.59" y="494.51" width="12.21" height="3.63" fill="#f6b6b6"/>
<rect x="543.70" y="498.15" width="12.21" height="3.63" fill="#13559d"/>
<rect x="555.91" y="498.15" width="12.21" height="3.63" fill="#2866ab"/>
<rect x="568.12" y="498.15" width="12.21" height="3.63" fill="#4079b7"/>
<rect x="580.33" y="498.15" width="24.42" height="3.63" fill="#6692c2"/>
<rect x="604.75" y="498.15" width="24.42" height="3.63" fill="#94b3d6"/>
<rect x="629.17" y="498.15" width="12.21" height="3.63" fill="#c9d9eb"/>
<rect x="641.38" y="498.15" width="24.42" height="3.63" fill="#fbf9f9"/>
<rect x="543.70" y="503.68" width="12.21" height="3.63" fill="#13559d"/>
<rect x="555.91" y="503.68" width="73.26" height="3.63" fill="#2866ab"/>
<rect x="629.17" y="503.68" width="12.21" height="3.63" fill="#4079b7"/>
<rect x="641.38" y="503.68" width="12.21" height="3.63" fill="#6692c2"/>
<rect x="653.59" y="503.68" width="12.21" height="3.63" fill="#fbdede"/>
<rect x="543.70" y="507.32" width="12.21" height="3.63" fill="#13559d"/>
<rect x="555.91" y="507.32" width="73.26" height="3.63" fill="#2866ab"/>
<rect x="629.17" y="507.32" width="12.21" height="3.63" fill="#6692c2"/>
<rect x="641.38" y="507.32" width="12.21" height="3.63" fill="#fbf9f9"/>
<rect x="653.59" y="507.32" width="12.21" height="3.63" fill="#f6b6b6"/>
<rect x="543.70" y="510.95" width="12.21" height="3.63" fill="#13559d"/>
<rect x="555.91" y="510.95" width="73.26" height="3.63" fill="#2866ab"/>
<rect x="629.17" y="510.95" width="24.42" height="3.63" fill="#4079b7"/>
<rect x="653.59" y="510.95" width="12.21" height="3.63" fill="#fbf9f9"/>
<rect x="543.70" y="514.58" width="24.42" height="3.63" fill="#13559d"/>
<rect x="568.12" y="514.58" width="12.21" height="3.63" fill="#2866ab"/>
<rect x="580.33" y="514.58" width="85.47" height="3.63" fill="#13559d"/>
<rect x="543.70" y="518.22" width="24.42" height="3.63" fill="#13559d"/>
<rect x="568.12" y="518.22" width="12.21" height="3.63" fill="#4079b7"/>
<rect x="580.33" y="518.22" width="85.47" height="3.63" fill="#13559d"/>
<rect x="543.70" y="523.75" width="12.21" height="3.63" fill="#13559d"/>
<rect x="555.91" y="523.75" width="12.21" height="3.63" fill="#2866ab"/>
<rect x="568.12" y="523.75" width="24.42" height="3.63" fill="#4079b7"/>
<rect x="592.54" y="523.75" width="24.42" height="3.63" fill="#94b3d6"/>
<rect x="616.96" y="523.75" width="12.21" height="3.63" fill="#fbf9f9"/>
<rect x="629.17" y="523.75" width="24.42" height="3.63" fill="#fbdede"/>
<rect x="653.59" y="523.75" width="12.21" height="3.63" fill="#f6b6b6"/>
<rect x="543.70" y="527.39" width="12.21" height="3.63" fill="#13559d"/>
<rect x="555.91" y="527.39" width="12.21" height="3.63" fill="#2866ab"/>
<rect x="568.12" y="527.39" width="24.42" height="3.63" fill="#4079b7"/>
<rect x="592.54" y="527.39" width="12.21" height="3.63" fill="#6692c2"/>
<rect x="604.75" y="527.39" width="12.21" height="3.63" fill="#94b3d6"/>
<rect x="616.96" y="527.39" width="12.21" height="3.63" fill="#c9d9eb"/>
<rect x="629.17" y="527.39" width="12.21" height="3.63" fill="#94b3d6"/>
<rect x="641.38" y="527.39" width="12.21" height="3.63" fill="#fbf9f9"/>
<rect x="653.59" y="527.39" width="12.21" height="3.63" fill="#fbdede"/>
<rect x="543.70" y="531.02" width="12.21" height="3.63" fill="#13559d"/>
<rect x="555.91" y="531.02" width="12.21" height="3.63" fill="#2866ab"/>
<rect x="568.12" y="531.02" width="36.63" height="3.63" fill="#4079b7"/>
<rect x="604.75" y="531.02" width="12.21" height="3.63" fill="#6692c2"/>
<rect x="616.96" y="531.02" width="12.21" height="3.63" fill="#94b3d6"/>
<rect x="629.17" y="531.02" width="12.21" height="3.63" fill="#c9d9eb"/>
<rect x="641.38" y="531.02" width="24.42" height="3.63" fill="#fbf9f9"/>
<rect x="543.70" y="534.66" width="12.21" height="3.63" fill="#13559d"/>
<rect x="555.91" y="534.66" width="12.21" height="3.63" fill="#2866ab"/>
<rect x="568.12" y="534.66" width="12.21" height="3.63" fill="#4079b7"/>
<rect x="580.33" y="534.66" width="12.21" height="3.63" fill="#2866ab"/>
<rect x="592.54" y="534.66" width="24.42" height="3.63" fill="#6692c2"/>
<rect x="616.96" y="534.66" width="12.21" height="3.63" fill="#c9d9eb"/>
<rect x="629.17" y="534.66" width="12.21" height="3.63" fill="#94b3d6"/>
<rect x="641.38" y="534.66" width="24.42" height="3.63" fill="#4079b7"/>
<rect x="543.70" y="538.29" width="12.21" height="3.63" fill="#13559d"/>
<rect x="555.91" y="538.29" width="12.21" height="3.63" fill="#2866ab"/>
<rect x="568.12" y="538.29" width="12.21" height="3.63" fill="#4079b7"/>
<rect x="580.33" y="538.29" width="12.21" height="3.63" fill="#2866ab"/>
<rect x="592.54" y="538.29" width="24.42" height="3.63" fill="#4079b7"/>
<rect x="616.96" y="538.29" width="48.84" height="3.63" fill="#2866ab"/>
<rect x="543.70" y="543.83" width="24.42" height="3.63" fill="#13559d"/>
<rect x="568.12" y="543.83" width="36.63" height="3.63" fill="#2866ab"/>
<rect x="604.75" y="543.83" width="12.21" height="3.63" fill="#94b3d6"/>
<rect x="616.96" y="543.83" width="12.21" height="3.63" fill="#fbf9f9"/>
<rect x="629.17" y="543.83" width="24.42" height="3.63" fill="#fbdede"/>
<rect x="653.59" y="543.83" width="12.21" height="3.63" fill="#e2352f"/>
<rect x="543.70" y="547.46" width="12.21" height="3.63" fill="#13559d"/>
<rect x="555.91" y="547.46" width="12.21" height="3.63" fill="#2866ab"/>
<rect x="568.12" y="547.46" width="12.21" height="3.63" fill="#4079b7"/>
<rect x="580.33" y="547.46" width="24.42" height="3.63" fill="#2866ab"/>
<rect x="604.75" y="547.46" width="12.21" height="3.63" fill="#94b3d6"/>
<rect x="616.96" y="547.46" width="24.42" height="3.63" fill="#c9d9eb"/>
<rect x="641.38" y="547.46" width="12.21" height="3.63" fill="#fbf9f9"/>
<rect x="653.59" y="547.46" width="12.21" height="3.63" fill="#f6b6b6"/>
<rect x="543.70" y="551.09" width="12.21" height="3.63" fill="#13559d"/>
<rect x="555.91" y="551.09" width="12.21" height="3.63" fill="#2866ab"/>
<rect x="568.12" y="551.09" width="36.63" height="3.63" fill="#4079b7"/>
<rect x="604.75" y="551.09" width="24.42" height="3.63" fill="#6692c2"/>
<rect x="629.17" y="551.09" width="12.21" height="3.63" fill="#c9d9eb"/>
<rect x="641.38" y="551.09" width="24.42" height="3.63" fill="#fbf9f9"/>
<rect x="543.70" y="554.73" width="12.21" height="3.63" fill="#13559d"/>
<rect x="555.91" y="554.73" width="12.21" height="3.63" fill="#2866ab"/>
<rect x="568.12" y="554.73" width="61.05" height="3.63" fill="#4079b7"/>
<rect x="629.17" y="554.73" width="24.42" height="3.63" fill="#6692c2"/>
<rect x="653.59" y="554.73" width="12.21" height="3.63" fill="#c9d9eb"/>
<rect x="543.70" y="558.36" width="12.21" height="3.63" fill="#13559d"/>
<rect x="555.91" y="558.36" width="12.21" height="3.63" fill="#2866ab"/>
<rect x="568.12" y="558.36" width="85.47" height="3.63" fill="#4079b7"/>
<rect x="653.59" y="558.36" width="12.21" height="3.63" fill="#2866ab"/>
<rect x="543.70" y="563.90" width="12.21" height="3.63" fill="#13559d"/>
<rect x="555.91" y="563.90" width="24.42" height="3.63" fill="#2866ab"/>
<rect x="580.33" y="563.90" width="12.21" height="3.63" fill="#4079b7"/>
<rect x="592.54" y="563.90" width="24.42" height="3.63" fill="#2866ab"/>
<rect x="616.96" y="563.90" width="24.42" height="3.63" fill="#4079b7"/>
<rect x="641.38" y="563.90" width="12.21" height="3.63" fill="#2866ab"/>
<rect x="653.59" y="563.90" width="12.21" height="3.63" fill="#4079b7"/>
<rect x="543.70" y="567.53" width="12.21" height="3.63" fill="#13559d"/>
<rect x="555.91" y="567.53" width="48.84" height="3.63" fill="#2866ab"/>
<rect x="604.75" y="567.53" width="12.21" height="3.63" fill="#94b3d6"/>
<rect x="616.96" y="567.53" width="12.21" height="3.63" fill="#fbf9f9"/>
<rect x="629.17" y="567.53" width="12.21" height="3.63" fill="#94b3d6"/>
<rect x="641.38" y="567.53" width="24.42" height="3.63" fill="#fbf9f9"/>
<rect x="543.70" y="571.17" width="12.21" height="3.63" fill="#13559d"/>
<rect x="555.91" y="571.17" width="36.63" height="3.63" fill="#2866ab"/>
<rect x="592.54" y="571.17" width="36.63" height="3.63" fill="#4079b7"/>
<rect x="629.17" y="571.17" width="12.21" height="3.63" fill="#2866ab"/>
<rect x="641.38" y="571.17" width="12.21" height="3.63" fill="#4079b7"/>
<rect x="653.59" y="571.17" width="12.21" height="3.63" fill="#94b3d6"/>
<rect x="543.70" y="574.80" width="12.21" height="3.63" fill="#13559d"/>
<rect x="555.91" y="574.80" width="109.89" height="3.63" fill="#2866ab"/>
<rect x="543.70" y="580.34" width="12.21" height="3.63" fill="#13559d"/>
<rect x="555.91" y="580.34" width="12.21" height="3.63" fill="#2866ab"/>
<rect x="568.12" y="580.34" width="12.21" height="3.63" fill="#94b3d6"/>
<rect x="580.33" y="580.34" width="24.42" height="3.63" fill="#fbf9f9"/>
<rect x="604.75" y="580.34" width="24.42" height="3.63" fill="#fbdede"/>
<rect x="629.17" y="580.34" width="12.21" height="3.63" fill="#f6b6b6"/>
<rect x="641.38" y="580.34" width="12.21" height="3.63" fill="#ec6868"/>
<rect x="653.59" y="580.34" width="12.21" height="3.63" fill="#c4232a"/>
<rect x="543.70" y="583.97" width="12.21" height="3.63" fill="#13559d"/>
<rect x="555.91" y="583.97" width="12.21" height="3.63" fill="#2866ab"/>
<rect x="568.12" y="583.97" width="12.21" height="3.63" fill="#4079b7"/>
<rect x="580.33" y="583.97" width="24.42" height="3.63" fill="#6692c2"/>
<rect x="604.75" y="583.97" width="12.21" height="3.63" fill="#94b3d6"/>
<rect x="616.96" y="583.97" width="12.21" height="3.63" fill="#c9d9eb"/>
<rect x="629.17" y="583.97" width="12.21" height="3.63" fill="#fbdede"/>
<rect x="641.38" y="583.97" width="24.42" height="3.63" fill="#f6b6b6"/>
<rect x="543.70" y="587.61" width="12.21" height="3.63" fill="#13559d"/>
<rect x="555.91" y="587.61" width="12.21" height="3.63" fill="#2866ab"/>
<rect x="568.12" y="587.61" width="61.05" height="3.63" fill="#4079b7"/>
<rect x="629.17" y="587.61" width="12.21" height="3.63" fill="#6692c2"/>
<rect x="641.38" y="587.61" width="24.42" height="3.63" fill="#94b3d6"/>
<rect x="543.70" y="591.24" width="12.21" height="3.63" fill="#13559d"/>
<rect x="555.91" y="591.24" width="12.21" height="3.63" fill="#2866ab"/>
<rect x="568.12" y="591.24" width="73.26" height="3.63" fill="#4079b7"/>
<rect x="641.38" y="591.24" width="12.21" height="3.63" fill="#6692c2"/>
<rect x="653.59" y="591.24" width="12.21" height="3.63" fill="#94b3d6"/>
<rect x="543.70" y="594.87" width="12.21" height="3.63" fill="#13559d"/>
<rect x="555.91" y="594.87" width="109.89" height="3.63" fill="#2866ab"/>
<rect x="543.70" y="600.41" width="12.21" height="3.63" fill="#13559d"/>
<rect x="555.91" y="600.41" width="24.42" height="3.63" fill="#2866ab"/>
<rect x="580.33" y="600.41" width="12.21" height="3.63" fill="#4079b7"/>
<rect x="592.54" y="600.41" width="36.63" height="3.63" fill="#6692c2"/>
<rect x="629.17" y="600.41" width="24.42" height="3.63" fill="#4079b7"/>
<rect x="653.59" y="600.41" width="12.21" height="3.63" fill="#6692c2"/>
<rect x="543.70" y="604.04" width="12.21" height="3.63" fill="#13559d"/>
<rect x="555.91" y="604.04" width="24.42" height="3.63" fill="#2866ab"/>
<rect x="580.33" y="604.04" width="61.05" height="3.63" fill="#4079b7"/>
<rect x="641.38" y="604.04" width="12.21" height="3.63" fill="#6692c2"/>
<rect x="653.59" y="604.04" width="12.21" height="3.63" fill="#94b3d6"/>
<rect x="543.70" y="607.68" width="12.21" height="3.63" fill="#13559d"/>
<rect x="555.91" y="607.68" width="12.21" height="3.63" fill="#2866ab"/>
<rect x="568.12" y="607.68" width="24.42" height="3.63" fill="#4079b7"/>
<rect x="592.54" y="607.68" width="24.42" height="3.63" fill="#6692c2"/>
<rect x="616.96" y="607.68" width="12.21" height="3.63" fill="#4079b7"/>
<rect x="629.17" y="607.68" width="36.63" height="3.63" fill="#13559d"/>
<rect x="543.70" y="611.31" width="12.21" height="3.63" fill="#13559d"/>
<rect x="555.91" y="611.31" width="24.42" height="3.63" fill="#2866ab"/>
<rect x="580.33" y="611.31" width="48.84" height="3.63" fill="#4079b7"/>
<rect x="629.17" y="611.31" width="36.63" height="3.63" fill="#2866ab"/>
<rect x="543.70" y="614.95" width="12.21" height="3.63" fill="#13559d"/>
<rect x="555.91" y="614.95" width="24.42" height="3.63" fill="#2866ab"/>
<rect x="580.33" y="614.95" width="85.47" height="3.63" fill="#4079b7"/>
<rect x="543.70" y="620.48" width="12.21" height="3.63" fill="#13559d"/>
<rect x="555.91" y="620.48" width="48.84" height="3.63" fill="#2866ab"/>
<rect x="604.75" y="620.48" width="12.21" height="3.63" fill="#13559d"/>
<rect x="616.96" y="620.48" width="24.42" height="3.63" fill="#2866ab"/>
<rect x="641.38" y="620.48" width="12.21" height="3.63" fill="#4079b7"/>
<rect x="653.59" y="620.48" width="12.21" height="3.63" fill="#6692c2"/>
<rect x="543.70" y="624.12" width="12.21" height="3.63" fill="#13559d"/>
<rect x="555.91" y="624.12" width="109.89" height="3.63" fill="#2866ab"/>
<rect x="543.70" y="627.75" width="12.21" height="3.63" fill="#13559d"/>
<rect x="555.91" y="627.75" width="85.47" height="3.63" fill="#2866ab"/>
<rect x="641.38" y="627.75" width="12.21" height="3.63" fill="#6692c2"/>
<rect x="653.59" y="627.75" width="12.21" height="3.63" fill="#94b3d6"/>
<rect x="543.70" y="633.28" width="12.21" height="3.63" fill="#13559d"/>
<rect x="555.91" y="633.28" width="12.21" height="3.63" fill="#4079b7"/>
<rect x="568.12" y="633.28" width="12.21" height="3.63" fill="#2866ab"/>
<rect x="580.33" y="633.28" width="12.21" height="3.63" fill="#4079b7"/>
<rect x="592.54" y="633.28" width="48.84" height="3.63" fill="#2866ab"/>
<rect x="641.38" y="633.28" width="24.42" height="3.63" fill="#4079b7"/>
<rect x="543.70" y="636.92" width="12.21" height="3.63" fill="#13559d"/>
<rect x="555.91" y="636.92" width="12.21" height="3.63" fill="#2866ab"/>
<rect x="568.12" y="636.92" width="12.21" height="3.63" fill="#6692c2"/>
<rect x="580.33" y="636.92" width="12.21" height="3.63" fill="#4079b7"/>
<rect x="592.54" y="636.92" width="73.26" height="3.63" fill="#2866ab"/>
<rect x="543.70" y="640.55" width="12.21" height="3.63" fill="#13559d"/>
<rect x="555.91" y="640.55" width="24.42" height="3.63" fill="#2866ab"/>
<rect x="580.33" y="640.55" width="12.21" height="3.63" fill="#4079b7"/>
<rect x="592.54" y="640.55" width="12.21" height="3.63" fill="#2866ab"/>
<rect x="604.75" y="640.55" width="61.05" height="3.63" fill="#13559d"/>
<rect x="543.70" y="644.19" width="12.21" height="3.63" fill="#13559d"/>
<rect x="555.91" y="644.19" width="24.42" height="3.63" fill="#2866ab"/>
<rect x="580.33" y="644.19" width="12.21" height="3.63" fill="#6692c2"/>
<rect x="592.54" y="644.19" width="24.42" height="3.63" fill="#4079b7"/>
<rect x="616.96" y="644.19" width="48.84" height="3.63" fill="#2866ab"/>
<rect x="543.70" y="647.82" width="12.21" height="3.63" fill="#13559d"/>
<rect x="555.91" y="647.82" width="24.42" height="3.63" fill="#2866ab"/>
<rect x="580.33" y="647.82" width="12.21" height="3.63" fill="#94b3d6"/>
<rect x="592.54" y="647.82" width="24.42" height="3.63" fill="#4079b7"/>
<rect x="616.96" y="647.82" width="48.84" height="3.63" fill="#2866ab"/>
<rect x="543.70" y="653.36" width="12.21" height="3.63" fill="#13559d"/>
<rect x="555.91" y="653.36" width="12.21" height="3.63" fill="#2866ab"/>
<rect x="568.12" y="653.36" width="12.21" height="3.63" fill="#4079b7"/>
<rect x="580.33" y="653.36" width="12.21" height="3.63" fill="#fbf9f9"/>
<rect x="592.54" y="653.36" width="36.63" height="3.63" fill="#c9d9eb"/>
<rect x="629.17" y="653.36" width="12.21" height="3.63" fill="#fbdede"/>
<rect x="641.38" y="653.36" width="12.21" height="3.63" fill="#f6b6b6"/>
<rect x="653.59" y="653.36" width="12.21" height="3.63" fill="#ec6868"/>
<rect x="543.70" y="656.99" width="12.21" height="3.63" fill="#13559d"/>
<rect x="555.91" y="656.99" width="12.21" height="3.63" fill="#2866ab"/>
<rect x="568.12" y="656.99" width="24.42" height="3.63" fill="#4079b7"/>
<rect x="592.54" y="656.99" width="36.63" height="3.63" fill="#2866ab"/>
<rect x="629.17" y="656.99" width="12.21" height="3.63" fill="#13559d"/>
<rect x="641.38" y="656.99" width="12.21" height="3.63" fill="#2866ab"/>
<rect x="653.59" y="656.99" width="12.21" height="3.63" fill="#6692c2"/>
<rect x="543.70" y="660.63" width="12.21" height="3.63" fill="#13559d"/>
<rect x="555.91" y="660.63" width="12.21" height="3.63" fill="#2866ab"/>
<rect x="568.12" y="660.63" width="24.42" height="3.63" fill="#4079b7"/>
<rect x="592.54" y="660.63" width="12.21" height="3.63" fill="#2866ab"/>
<rect x="604.75" y="660.63" width="61.05" height="3.63" fill="#13559d"/>
<rect x="543.70" y="664.26" width="12.21" height="3.63" fill="#13559d"/>
<rect x="555.91" y="664.26" width="12.21" height="3.63" fill="#2866ab"/>
<rect x="568.12" y="664.26" width="24.42" height="3.63" fill="#4079b7"/>
<rect x="592.54" y="664.26" width="12.21" height="3.63" fill="#2866ab"/>
<rect x="604.75" y="664.26" width="61.05" height="3.63" fill="#13559d"/>
<rect x="543.70" y="667.90" width="12.21" height="3.63" fill="#13559d"/>
<rect x="555.91" y="667.90" width="24.42" height="3.63" fill="#2866ab"/>
<rect x="580.33" y="667.90" width="12.21" height="3.63" fill="#4079b7"/>
<rect x="592.54" y="667.90" width="12.21" height="3.63" fill="#2866ab"/>
<rect x="604.75" y="667.90" width="61.05" height="3.63" fill="#13559d"/>
<rect x="543.70" y="673.43" width="12.21" height="3.63" fill="#13559d"/>
<rect x="555.91" y="673.43" width="12.21" height="3.63" fill="#4079b7"/>
<rect x="568.12" y="673.43" width="12.21" height="3.63" fill="#94b3d6"/>
<rect x="580.33" y="673.43" width="12.21" height="3.63" fill="#c9d9eb"/>
<rect x="592.54" y="673.43" width="12.21" height="3.63" fill="#fbf9f9"/>
<rect x="604.75" y="673.43" width="12.21" height="3.63" fill="#fbdede"/>
<rect x="616.96" y="673.43" width="24.42" height="3.63" fill="#f6b6b6"/>
<rect x="641.38" y="673.43" width="24.42" height="3.63" fill="#c4232a"/>
<rect x="543.70" y="677.06" width="12.21" height="3.63" fill="#13559d"/>
<rect x="555.91" y="677.06" width="12.21" height="3.63" fill="#4079b7"/>
<rect x="568.12" y="677.06" width="12.21" height="3.63" fill="#6692c2"/>
<rect x="580.33" y="677.06" width="48.84" height="3.63" fill="#2866ab"/>
<rect x="629.17" y="677.06" width="36.63" height="3.63" fill="#13559d"/>
<rect x="543.70" y="680.70" width="12.21" height="3.63" fill="#13559d"/>
<rect x="555.91" y="680.70" width="12.21" height="3.63" fill="#4079b7"/>
<rect x="568.12" y="680.70" width="12.21" height="3.63" fill="#6692c2"/>
<rect x="580.33" y="680.70" width="48.84" height="3.63" fill="#2866ab"/>
<rect x="629.17" y="680.70" width="36.63" height="3.63" fill="#13559d"/>
<rect x="543.70" y="684.33" width="12.21" height="3.63" fill="#13559d"/>
<rect x="555.91" y="684.33" width="24.42" height="3.63" fill="#4079b7"/>
<rect x="580.33" y="684.33" width="48.84" height="3.63" fill="#2866ab"/>
<rect x="629.17" y="684.33" width="36.63" height="3.63" fill="#13559d"/>
<rect x="543.70" y="689.87" width="12.21" height="3.63" fill="#13559d"/>
<rect x="555.91" y="689.87" width="12.21" height="3.63" fill="#4079b7"/>
<rect x="568.12" y="689.87" width="24.42" height="3.63" fill="#6692c2"/>
<rect x="592.54" y="689.87" width="12.21" height="3.63" fill="#4079b7"/>
<rect x="604.75" y="689.87" width="12.21" height="3.63" fill="#94b3d6"/>
<rect x="616.96" y="689.87" width="12.21" height="3.63" fill="#c9d9eb"/>
<rect x="629.17" y="689.87" width="12.21" height="3.63" fill="#fbf9f9"/>
<rect x="641.38" y="689.87" width="12.21" height="3.63" fill="#fbdede"/>
<rect x="653.59" y="689.87" width="12.21" height="3.63" fill="#f6b6b6"/>
<rect x="543.70" y="693.50" width="12.21" height="3.63" fill="#13559d"/>
<rect x="555.91" y="693.50" width="36.63" height="3.63" fill="#6692c2"/>
<rect x="592.54" y="693.50" width="48.84" height="3.63" fill="#2866ab"/>
<rect x="641.38" y="693.50" width="24.42" height="3.63" fill="#13559d"/>
<rect x="543.70" y="697.14" width="12.21" height="3.63" fill="#13559d"/>
<rect x="555.91" y="697.14" width="12.21" height="3.63" fill="#c9d9eb"/>
<rect x="568.12" y="697.14" width="12.21" height="3.63" fill="#6692c2"/>
<rect x="580.33" y="697.14" width="12.21" height="3.63" fill="#4079b7"/>
<rect x="592.54" y="697.14" width="24.42" height="3.63" fill="#2866ab"/>
<rect x="616.96" y="697.14" width="12.21" height="3.63" fill="#4079b7"/>
<rect x="629.17" y="697.14" width="12.21" height="3.63" fill="#2866ab"/>
<rect x="641.38" y="697.14" width="24.42" height="3.63" fill="#13559d"/>
<rect x="543.70" y="700.77" width="12.21" height="3.63" fill="#13559d"/>
<rect x="555.91" y="700.77" width="24.42" height="3.63" fill="#4079b7"/>
<rect x="580.33" y="700.77" width="12.21" height="3.63" fill="#94b3d6"/>
<rect x="592.54" y="700.77" width="48.84" height="3.63" fill="#4079b7"/>
<rect x="641.38" y="700.77" width="24.42" height="3.63" fill="#2866ab"/>
<rect x="543.70" y="706.31" width="12.21" height="3.63" fill="#13559d"/>
<rect x="555.91" y="706.31" width="12.21" height="3.63" fill="#4079b7"/>
<rect x="568.12" y="706.31" width="12.21" height="3.63" fill="#94b3d6"/>
<rect x="580.33" y="706.31" width="24.42" height="3.63" fill="#6692c2"/>
<rect x="604.75" y="706.31" width="61.05" height="3.63" fill="#2866ab"/>
<rect x="543.70" y="709.94" width="12.21" height="3.63" fill="#13559d"/>
<rect x="555.91" y="709.94" width="61.05" height="3.63" fill="#4079b7"/>
<rect x="616.96" y="709.94" width="12.21" height="3.63" fill="#6692c2"/>
<rect x="629.17" y="709.94" width="36.63" height="3.63" fill="#4079b7"/>
<rect x="543.70" y="713.58" width="12.21" height="3.63" fill="#13559d"/>
<rect x="555.91" y="713.58" width="12.21" height="3.63" fill="#2866ab"/>
<rect x="568.12" y="713.58" width="24.42" height="3.63" fill="#4079b7"/>
<rect x="592.54" y="713.58" width="12.21" height="3.63" fill="#2866ab"/>
<rect x="604.75" y="713.58" width="61.05" height="3.63" fill="#13559d"/>
<rect x="543.70" y="717.21" width="12.21" height="3.63" fill="#13559d"/>
<rect x="555.91" y="717.21" width="12.21" height="3.63" fill="#2866ab"/>
<rect x="568.12" y="717.21" width="24.42" height="3.63" fill="#4079b7"/>
<rect x="592.54" y="717.21" width="12.21" height="3.63" fill="#2866ab"/>
<rect x="604.75" y="717.21" width="61.05" height="3.63" fill="#13559d"/>
<rect x="543.70" y="720.84" width="12.21" height="3.63" fill="#13559d"/>
<rect x="555.91" y="720.84" width="12.21" height="3.63" fill="#2866ab"/>
<rect x="568.12" y="720.84" width="12.21" height="3.63" fill="#6692c2"/>
<rect x="580.33" y="720.84" width="12.21" height="3.63" fill="#4079b7"/>
<rect x="592.54" y="720.84" width="12.21" height="3.63" fill="#2866ab"/>
<rect x="604.75" y="720.84" width="61.05" height="3.63" fill="#13559d"/>
<rect x="543.70" y="726.38" width="12.21" height="3.63" fill="#13559d"/>
<rect x="555.91" y="726.38" width="36.63" height="3.63" fill="#4079b7"/>
<rect x="592.54" y="726.38" width="73.26" height="3.63" fill="#2866ab"/>
<rect x="543.70" y="730.01" width="12.21" height="3.63" fill="#13559d"/>
<rect x="555.91" y="730.01" width="24.42" height="3.63" fill="#6692c2"/>
<rect x="580.33" y="730.01" width="12.21" height="3.63" fill="#4079b7"/>
<rect x="592.54" y="730.01" width="73.26" height="3.63" fill="#2866ab"/>
<rect x="543.70" y="733.65" width="12.21" height="3.63" fill="#13559d"/>
<rect x="555.91" y="733.65" width="24.42" height="3.63" fill="#6692c2"/>
<rect x="580.33" y="733.65" width="12.21" height="3.63" fill="#4079b7"/>
<rect x="592.54" y="733.65" width="73.26" height="3.63" fill="#2866ab"/>
<rect x="543.70" y="737.28" width="12.21" height="3.63" fill="#13559d"/>
<rect x="555.91" y="737.28" width="12.21" height="3.63" fill="#4079b7"/>
<rect x="568.12" y="737.28" width="12.21" height="3.63" fill="#6692c2"/>
<rect x="580.33" y="737.28" width="12.21" height="3.63" fill="#4079b7"/>
<rect x="592.54" y="737.28" width="73.26" height="3.63" fill="#2866ab"/>
<rect x="543.70" y="740.92" width="12.21" height="3.63" fill="#13559d"/>
<rect x="555.91" y="740.92" width="12.21" height="3.63" fill="#4079b7"/>
<rect x="568.12" y="740.92" width="12.21" height="3.63" fill="#6692c2"/>
<rect x="580.33" y="740.92" width="12.21" height="3.63" fill="#4079b7"/>
<rect x="592.54" y="740.92" width="12.21" height="3.63" fill="#2866ab"/>
<rect x="604.75" y="740.92" width="61.05" height="3.63" fill="#13559d"/>
<rect x="543.70" y="746.45" width="12.21" height="3.63" fill="#13559d"/>
<rect x="555.91" y="746.45" width="24.42" height="3.63" fill="#2866ab"/>
<rect x="580.33" y="746.45" width="12.21" height="3.63" fill="#4079b7"/>
<rect x="592.54" y="746.45" width="12.21" height="3.63" fill="#2866ab"/>
<rect x="604.75" y="746.45" width="61.05" height="3.63" fill="#13559d"/>
<rect x="543.70" y="750.09" width="12.21" height="3.63" fill="#13559d"/>
<rect x="555.91" y="750.09" width="24.42" height="3.63" fill="#2866ab"/>
<rect x="580.33" y="750.09" width="12.21" height="3.63" fill="#94b3d6"/>
<rect x="592.54" y="750.09" width="73.26" height="3.63" fill="#2866ab"/>
<rect x="543.70" y="753.72" width="12.21" height="3.63" fill="#13559d"/>
<rect x="555.91" y="753.72" width="36.63" height="3.63" fill="#4079b7"/>
<rect x="592.54" y="753.72" width="24.42" height="3.63" fill="#2866ab"/>
<rect x="616.96" y="753.72" width="12.21" height="3.63" fill="#4079b7"/>
<rect x="629.17" y="753.72" width="36.63" height="3.63" fill="#2866ab"/>
<rect x="543.70" y="757.35" width="12.21" height="3.63" fill="#13559d"/>
<rect x="555.91" y="757.35" width="48.84" height="3.63" fill="#2866ab"/>
<rect x="604.75" y="757.35" width="61.05" height="3.63" fill="#13559d"/>
<rect x="543.70" y="762.89" width="12.21" height="3.63" fill="#13559d"/>
<rect x="555.91" y="762.89" width="12.21" height="3.63" fill="#4079b7"/>
<rect x="568.12" y="762.89" width="36.63" height="3.63" fill="#6692c2"/>
<rect x="604.75" y="762.89" width="12.21" height="3.63" fill="#4079b7"/>
<rect x="616.96" y="762.89" width="24.42" height="3.63" fill="#2866ab"/>
<rect x="641.38" y="762.89" width="24.42" height="3.63" fill="#13559d"/>
<rect x="543.70" y="766.52" width="12.21" height="3.63" fill="#13559d"/>
<rect x="555.91" y="766.52" width="12.21" height="3.63" fill="#4079b7"/>
<rect x="568.12" y="766.52" width="12.21" height="3.63" fill="#6692c2"/>
<rect x="580.33" y="766.52" width="24.42" height="3.63" fill="#94b3d6"/>
<rect x="604.75" y="766.52" width="12.21" height="3.63" fill="#4079b7"/>
<rect x="616.96" y="766.52" width="24.42" height="3.63" fill="#2866ab"/>
<rect x="641.38" y="766.52" width="24.42" height="3.63" fill="#13559d"/>
<rect x="543.70" y="770.16" width="12.21" height="3.63" fill="#13559d"/>
<rect x="555.91" y="770.16" width="12.21" height="3.63" fill="#4079b7"/>
<rect x="568.12" y="770.16" width="36.63" height="3.63" fill="#6692c2"/>
<rect x="604.75" y="770.16" width="12.21" height="3.63" fill="#4079b7"/>
<rect x="616.96" y="770.16" width="24.42" height="3.63" fill="#2866ab"/>
<rect x="641.38" y="770.16" width="24.42" height="3.63" fill="#13559d"/>
<rect x="543.70" y="773.79" width="12.21" height="3.63" fill="#13559d"/>
<rect x="555.91" y="773.79" width="12.21" height="3.63" fill="#4079b7"/>
<rect x="568.12" y="773.79" width="36.63" height="3.63" fill="#6692c2"/>
<rect x="604.75" y="773.79" width="12.21" height="3.63" fill="#4079b7"/>
<rect x="616.96" y="773.79" width="24.42" height="3.63" fill="#2866ab"/>
<rect x="641.38" y="773.79" width="24.42" height="3.63" fill="#13559d"/>
<rect x="543.70" y="779.33" width="12.21" height="3.63" fill="#13559d"/>
<rect x="555.91" y="779.33" width="24.42" height="3.63" fill="#2866ab"/>
<rect x="580.33" y="779.33" width="85.47" height="3.63" fill="#13559d"/>
<rect x="543.70" y="782.96" width="12.21" height="3.63" fill="#13559d"/>
<rect x="555.91" y="782.96" width="12.21" height="3.63" fill="#2866ab"/>
<rect x="568.12" y="782.96" width="12.21" height="3.63" fill="#4079b7"/>
<rect x="580.33" y="782.96" width="85.47" height="3.63" fill="#13559d"/>
<rect x="543.70" y="786.60" width="12.21" height="3.63" fill="#13559d"/>
<rect x="555.91" y="786.60" width="24.42" height="3.63" fill="#2866ab"/>
<rect x="580.33" y="786.60" width="85.47" height="3.63" fill="#13559d"/>
<rect x="543.70" y="790.23" width="12.21" height="3.63" fill="#13559d"/>
<rect x="555.91" y="790.23" width="36.63" height="3.63" fill="#2866ab"/>
<rect x="592.54" y="790.23" width="73.26" height="3.63" fill="#13559d"/>
<rect x="543.70" y="793.87" width="12.21" height="3.63" fill="#13559d"/>
<rect x="555.91" y="793.87" width="48.84" height="3.63" fill="#2866ab"/>
<rect x="604.75" y="793.87" width="61.05" height="3.63" fill="#13559d"/>
<path d="M543.70,343.10H665.80M543.70,346.73H665.80M543.70,350.37H665.80M543.70,354.00H665.80M543.70,357.64H665.80M543.70,361.27H665.80M543.70,343.10V361.27M555.91,343.10V361.27M568.12,343.10V361.27M580.33,343.10V361.27M592.54,343.10V361.27M604.75,343.10V361.27M616.96,343.10V361.27M629.17,343.10V361.27M641.38,343.10V361.27M653.59,343.10V361.27M665.80,343.10V361.27M543.70,363.17H665.80M543.70,366.81H665.80M543.70,370.44H665.80M543.70,374.08H665.80M543.70,377.71H665.80M543.70,381.35H665.80M543.70,363.17V381.35M555.91,363.17V381.35M568.12,363.17V381.35M580.33,363.17V381.35M592.54,363.17V381.35M604.75,363.17V381.35M616.96,363.17V381.35M629.17,363.17V381.35M641.38,363.17V381.35M653.59,363.17V381.35M665.80,363.17V381.35M543.70,383.25H665.80M543.70,386.88H665.80M543.70,390.51H665.80M543.70,394.15H665.80M543.70,397.78H665.80M543.70,401.42H665.80M543.70,383.25V401.42M555.91,383.25V401.42M568.12,383.25V401.42M580.33,383.25V401.42M592.54,383.25V401.42M604.75,383.25V401.42M616.96,383.25V401.42M629.17,383.25V401.42M641.38,383.25V401.42M653.59,383.25V401.42M665.80,383.25V401.42M543.70,403.32H665.80M543.70,406.95H665.80M543.70,410.59H665.80M543.70,414.22H665.80M543.70,417.86H665.80M543.70,421.49H665.80M543.70,403.32V421.49M555.91,403.32V421.49M568.12,403.32V421.49M580.33,403.32V421.49M592.54,403.32V421.49M604.75,403.32V421.49M616.96,403.32V421.49M629.17,403.32V421.49M641.38,403.32V421.49M653.59,403.32V421.49M665.80,403.32V421.49M543.70,423.39H665.80M543.70,427.02H665.80M543.70,430.66H665.80M543.70,434.29H665.80M543.70,437.93H665.80M543.70,441.56H665.80M543.70,423.39V441.56M555.91,423.39V441.56M568.12,423.39V441.56M580.33,423.39V441.56M592.54,423.39V441.56M604.75,423.39V441.56M616.96,423.39V441.56M629.17,423.39V441.56M641.38,423.39V441.56M653.59,423.39V441.56M665.80,423.39V441.56M543.70,443.46H665.80M543.70,447.10H665.80M543.70,450.73H665.80M543.70,454.37H665.80M543.70,458.00H665.80M543.70,461.64H665.80M543.70,443.46V461.64M555.91,443.46V461.64M568.12,443.46V461.64M580.33,443.46V461.64M592.54,443.46V461.64M604.75,443.46V461.64M616.96,443.46V461.64M629.17,443.46V461.64M641.38,443.46V461.64M653.59,443.46V461.64M665.80,443.46V461.64M543.70,463.54H665.80M543.70,467.17H665.80M543.70,470.80H665.80M543.70,474.44H665.80M543.70,478.07H665.80M543.70,481.71H665.80M543.70,463.54V481.71M555.91,463.54V481.71M568.12,463.54V481.71M580.33,463.54V481.71M592.54,463.54V481.71M604.75,463.54V481.71M616.96,463.54V481.71M629.17,463.54V481.71M641.38,463.54V481.71M653.59,463.54V481.71M665.80,463.54V481.71M543.70,483.61H665.80M543.70,487.24H665.80M543.70,490.88H665.80M543.70,494.51H665.80M543.70,498.15H665.80M543.70,501.78H665.80M543.70,483.61V501.78M555.91,483.61V501.78M568.12,483.61V501.78M580.33,483.61V501.78M592.54,483.61V501.78M604.75,483.61V501.78M616.96,483.61V501.78M629.17,483.61V501.78M641.38,483.61V501.78M653.59,483.61V501.78M665.80,483.61V501.78M543.70,503.68H665.80M543.70,507.32H665.80M543.70,510.95H665.80M543.70,514.58H665.80M543.70,518.22H665.80M543.70,521.85H665.80M543.70,503.68V521.85M555.91,503.68V521.85M568.12,503.68V521.85M580.33,503.68V521.85M592.54,503.68V521.85M604.75,503.68V521.85M616.96,503.68V521.85M629.17,503.68V521.85M641.38,503.68V521.85M653.59,503.68V521.85M665.80,503.68V521.85M543.70,523.75H665.80M543.70,527.39H665.80M543.70,531.02H665.80M543.70,534.66H665.80M543.70,538.29H665.80M543.70,541.93H665.80M543.70,523.75V541.93M555.91,523.75V541.93M568.12,523.75V541.93M580.33,523.75V541.93M592.54,523.75V541.93M604.75,523.75V541.93M616.96,523.75V541.93M629.17,523.75V541.93M641.38,523.75V541.93M653.59,523.75V541.93M665.80,523.75V541.93M543.70,543.83H665.80M543.70,547.46H665.80M543.70,551.09H665.80M543.70,554.73H665.80M543.70,558.36H665.80M543.70,562.00H665.80M543.70,543.83V562.00M555.91,543.83V562.00M568.12,543.83V562.00M580.33,543.83V562.00M592.54,543.83V562.00M604.75,543.83V562.00M616.96,543.83V562.00M629.17,543.83V562.00M641.38,543.83V562.00M653.59,543.83V562.00M665.80,543.83V562.00M543.70,563.90H665.80M543.70,567.53H665.80M543.70,571.17H665.80M543.70,574.80H665.80M543.70,578.44H665.80M543.70,563.90V578.44M555.91,563.90V578.44M568.12,563.90V578.44M580.33,563.90V578.44M592.54,563.90V578.44M604.75,563.90V578.44M616.96,563.90V578.44M629.17,563.90V578.44M641.38,563.90V578.44M653.59,563.90V578.44M665.80,563.90V578.44M543.70,580.34H665.80M543.70,583.97H665.80M543.70,587.61H665.80M543.70,591.24H665.80M543.70,594.87H665.80M543.70,598.51H665.80M543.70,580.34V598.51M555.91,580.34V598.51M568.12,580.34V598.51M580.33,580.34V598.51M592.54,580.34V598.51M604.75,580.34V598.51M616.96,580.34V598.51M629.17,580.34V598.51M641.38,580.34V598.51M653.59,580.34V598.51M665.80,580.34V598.51M543.70,600.41H665.80M543.70,604.04H665.80M543.70,607.68H665.80M543.70,611.31H665.80M543.70,614.95H665.80M543.70,618.58H665.80M543.70,600.41V618.58M555.91,600.41V618.58M568.12,600.41V618.58M580.33,600.41V618.58M592.54,600.41V618.58M604.75,600.41V618.58M616.96,600.41V618.58M629.17,600.41V618.58M641.38,600.41V618.58M653.59,600.41V618.58M665.80,600.41V618.58M543.70,620.48H665.80M543.70,624.12H665.80M543.70,627.75H665.80M543.70,631.38H665.80M543.70,620.48V631.38M555.91,620.48V631.38M568.12,620.48V631.38M580.33,620.48V631.38M592.54,620.48V631.38M604.75,620.48V631.38M616.96,620.48V631.38M629.17,620.48V631.38M641.38,620.48V631.38M653.59,620.48V631.38M665.80,620.48V631.38M543.70,633.28H665.80M543.70,636.92H665.80M543.70,640.55H665.80M543.70,644.19H665.80M543.70,647.82H665.80M543.70,651.46H665.80M543.70,633.28V651.46M555.91,633.28V651.46M568.12,633.28V651.46M580.33,633.28V651.46M592.54,633.28V651.46M604.75,633.28V651.46M616.96,633.28V651.46M629.17,633.28V651.46M641.38,633.28V651.46M653.59,633.28V651.46M665.80,633.28V651.46M543.70,653.36H665.80M543.70,656.99H665.80M543.70,660.63H665.80M543.70,664.26H665.80M543.70,667.90H665.80M543.70,671.53H665.80M543.70,653.36V671.53M555.91,653.36V671.53M568.12,653.36V671.53M580.33,653.36V671.53M592.54,653.36V671.53M604.75,653.36V671.53M616.96,653.36V671.53M629.17,653.36V671.53M641.38,653.36V671.53M653.59,653.36V671.53M665.80,653.36V671.53M543.70,673.43H665.80M543.70,677.06H665.80M543.70,680.70H665.80M543.70,684.33H665.80M543.70,687.97H665.80M543.70,673.43V687.97M555.91,673.43V687.97M568.12,673.43V687.97M580.33,673.43V687.97M592.54,673.43V687.97M604.75,673.43V687.97M616.96,673.43V687.97M629.17,673.43V687.97M641.38,673.43V687.97M653.59,673.43V687.97M665.80,673.43V687.97M543.70,689.87H665.80M543.70,693.50H665.80M543.70,697.14H665.80M543.70,700.77H665.80M543.70,704.41H665.80M543.70,689.87V704.41M555.91,689.87V704.41M568.12,689.87V704.41M580.33,689.87V704.41M592.54,689.87V704.41M604.75,689.87V704.41M616.96,689.87V704.41M629.17,689.87V704.41M641.38,689.87V704.41M653.59,689.87V704.41M665.80,689.87V704.41M543.70,706.31H665.80M543.70,709.94H665.80M543.70,713.58H665.80M543.70,717.21H665.80M543.70,720.84H665.80M543.70,724.48H665.80M543.70,706.31V724.48M555.91,706.31V724.48M568.12,706.31V724.48M580.33,706.31V724.48M592.54,706.31V724.48M604.75,706.31V724.48M616.96,706.31V724.48M629.17,706.31V724.48M641.38,706.31V724.48M653.59,706.31V724.48M665.80,706.31V724.48M543.70,726.38H665.80M543.70,730.01H665.80M543.70,733.65H665.80M543.70,737.28H665.80M543.70,740.92H665.80M543.70,744.55H665.80M543.70,726.38V744.55M555.91,726.38V744.55M568.12,726.38V744.55M580.33,726.38V744.55M592.54,726.38V744.55M604.75,726.38V744.55M616.96,726.38V744.55M629.17,726.38V744.55M641.38,726.38V744.55M653.59,726.38V744.55M665.80,726.38V744.55M543.70,746.45H665.80M543.70,750.09H665.80M543.70,753.72H665.80M543.70,757.35H665.80M543.70,760.99H665.80M543.70,746.45V760.99M555.91,746.45V760.99M568.12,746.45V760.99M580.33,746.45V760.99M592.54,746.45V760.99M604.75,746.45V760.99M616.96,746.45V760.99M629.17,746.45V760.99M641.38,746.45V760.99M653.59,746.45V760.99M665.80,746.45V760.99M543.70,762.89H665.80M543.70,766.52H665.80M543.70,770.16H665.80M543.70,773.79H665.80M543.70,777.43H665.80M543.70,762.89V777.43M555.91,762.89V777.43M568.12,762.89V777.43M580.33,762.89V777.43M592.54,762.89V777.43M604.75,762.89V777.43M616.96,762.89V777.43M629.17,762.89V777.43M641.38,762.89V777.43M653.59,762.89V777.43M665.80,762.89V777.43M543.70,779.33H665.80M543.70,782.96H665.80M543.70,786.60H665.80M543.70,790.23H665.80M543.70,793.87H665.80M543.70,797.50H665.80M543.70,779.33V797.50M555.91,779.33V797.50M568.12,779.33V797.50M580.33,779.33V797.50M592.54,779.33V797.50M604.75,779.33V797.50M616.96,779.33V797.50M629.17,779.33V797.50M641.38,779.33V797.50M653.59,779.33V797.50M665.80,779.33V797.50" stroke="#1a2230" stroke-width="0.55" stroke-opacity="0.85" fill="none"/>
<path d="M539.50,345.22H543.7" stroke="#555" stroke-width="0.7"/>
<text x="534.80" y="348.22" font-size="8.8" text-anchor="end" fill="#333333">51D11</text>
<path d="M539.50,365.29H543.7" stroke="#555" stroke-width="0.7"/>
<text x="534.80" y="368.29" font-size="8.8" text-anchor="end" fill="#333333">88D5</text>
<path d="M539.50,385.36H543.7" stroke="#555" stroke-width="0.7"/>
<text x="534.80" y="388.36" font-size="8.8" text-anchor="end" fill="#333333">88D13</text>
<path d="M539.50,405.43H543.7" stroke="#555" stroke-width="0.7"/>
<text x="534.80" y="408.43" font-size="8.8" text-anchor="end" fill="#333333">88D14</text>
<path d="M539.50,425.51H543.7" stroke="#555" stroke-width="0.7"/>
<text x="534.80" y="428.51" font-size="8.8" text-anchor="end" fill="#333333">88D11</text>
<path d="M539.50,445.58H543.7" stroke="#555" stroke-width="0.7"/>
<text x="534.80" y="448.58" font-size="8.8" text-anchor="end" fill="#333333">88D1</text>
<path d="M539.50,465.65H543.7" stroke="#555" stroke-width="0.7"/>
<text x="534.80" y="468.65" font-size="8.8" text-anchor="end" fill="#333333">51D6</text>
<path d="M539.50,485.73H543.7" stroke="#555" stroke-width="0.7"/>
<text x="534.80" y="488.73" font-size="8.8" text-anchor="end" fill="#333333">88D7</text>
<path d="M539.50,505.80H543.7" stroke="#555" stroke-width="0.7"/>
<text x="534.80" y="508.80" font-size="8.8" text-anchor="end" fill="#333333">88D2</text>
<path d="M539.50,525.87H543.7" stroke="#555" stroke-width="0.7"/>
<text x="534.80" y="528.87" font-size="8.8" text-anchor="end" fill="#333333">88D9</text>
<path d="M539.50,545.94H543.7" stroke="#555" stroke-width="0.7"/>
<text x="534.80" y="548.94" font-size="8.8" text-anchor="end" fill="#333333">88D8</text>
<path d="M539.50,566.02H543.7" stroke="#555" stroke-width="0.7"/>
<text x="534.80" y="569.02" font-size="8.8" text-anchor="end" fill="#333333">51D8</text>
<path d="M539.50,582.45H543.7" stroke="#555" stroke-width="0.7"/>
<text x="534.80" y="585.45" font-size="8.8" text-anchor="end" fill="#333333">88D4</text>
<path d="M539.50,602.53H543.7" stroke="#555" stroke-width="0.7"/>
<text x="534.80" y="605.53" font-size="8.8" text-anchor="end" fill="#333333">88D6</text>
<path d="M539.50,622.60H543.7" stroke="#555" stroke-width="0.7"/>
<text x="534.80" y="625.60" font-size="8.8" text-anchor="end" fill="#333333">51D9</text>
<path d="M539.50,635.40H543.7" stroke="#555" stroke-width="0.7"/>
<text x="534.80" y="638.40" font-size="8.8" text-anchor="end" fill="#333333">88D12</text>
<path d="M539.50,655.47H543.7" stroke="#555" stroke-width="0.7"/>
<text x="534.80" y="658.47" font-size="8.8" text-anchor="end" fill="#333333">88D3</text>
<path d="M539.50,675.55H543.7" stroke="#555" stroke-width="0.7"/>
<text x="534.80" y="678.55" font-size="8.8" text-anchor="end" fill="#333333">51D1</text>
<path d="M539.50,691.99H543.7" stroke="#555" stroke-width="0.7"/>
<text x="534.80" y="694.99" font-size="8.8" text-anchor="end" fill="#333333">51D2</text>
<path d="M539.50,708.42H543.7" stroke="#555" stroke-width="0.7"/>
<text x="534.80" y="711.42" font-size="8.8" text-anchor="end" fill="#333333">51D5</text>
<path d="M539.50,728.50H543.7" stroke="#555" stroke-width="0.7"/>
<text x="534.80" y="731.50" font-size="8.8" text-anchor="end" fill="#333333">51D3</text>
<path d="M539.50,748.57H543.7" stroke="#555" stroke-width="0.7"/>
<text x="534.80" y="751.57" font-size="8.8" text-anchor="end" fill="#333333">51D7</text>
<path d="M539.50,765.01H543.7" stroke="#555" stroke-width="0.7"/>
<text x="534.80" y="768.01" font-size="8.8" text-anchor="end" fill="#333333">88D10</text>
<path d="M539.50,781.44H543.7" stroke="#555" stroke-width="0.7"/>
<text x="534.80" y="784.44" font-size="8.8" text-anchor="end" fill="#333333">51D10</text>
<path d="M568.12,797.5V801.0" stroke="#555" stroke-width="0.7"/>
<text x="568.12" y="812.2" font-size="8.6" text-anchor="middle" fill="#333333">5</text>
<path d="M592.54,797.5V801.0" stroke="#555" stroke-width="0.7"/>
<text x="592.54" y="812.2" font-size="8.6" text-anchor="middle" fill="#333333">10</text>
<path d="M616.96,797.5V801.0" stroke="#555" stroke-width="0.7"/>
<text x="616.96" y="812.2" font-size="8.6" text-anchor="middle" fill="#333333">15</text>
<path d="M641.38,797.5V801.0" stroke="#555" stroke-width="0.7"/>
<text x="641.38" y="812.2" font-size="8.6" text-anchor="middle" fill="#333333">20</text>
<path d="M665.80,797.5V801.0" stroke="#555" stroke-width="0.7"/>
<text x="665.80" y="812.2" font-size="8.6" text-anchor="middle" fill="#333333">25</text>
<text x="606.75" y="827.4" font-size="9.6" text-anchor="middle" fill="#333333" textLength="55" lengthAdjust="spacingAndGlyphs">Time (days)</text>
<text x="20.8" y="690.6" font-size="8.8" text-anchor="middle" fill="#333333" textLength="25" lengthAdjust="spacingAndGlyphs">Tumor</text>
<text x="20.8" y="701.2" font-size="8.8" text-anchor="middle" fill="#333333" textLength="29.8" lengthAdjust="spacingAndGlyphs">volume</text>
<text x="20.8" y="711.8" font-size="8.8" text-anchor="middle" fill="#333333">(mm<tspan font-size="6.3" dy="-3.6">3</tspan><tspan dy="3.6">)</tspan></text>
<rect x="23.4" y="721.1" width="8.8" height="77.19999999999993" fill="url(#cbg)" stroke="#777" stroke-width="0.4"/>
<text x="18.9" y="723.70" font-size="8" text-anchor="end" fill="#333333">1,000</text>
<text x="18.9" y="742.90" font-size="8" text-anchor="end" fill="#333333">750</text>
<text x="18.9" y="762.30" font-size="8" text-anchor="end" fill="#333333">500</text>
<text x="18.9" y="781.50" font-size="8" text-anchor="end" fill="#333333">250</text>
<text x="18.9" y="800.70" font-size="8" text-anchor="end" fill="#333333">0</text>
<text x="253.8" y="690.6" font-size="8.8" text-anchor="middle" fill="#333333" textLength="25" lengthAdjust="spacingAndGlyphs">Tumor</text>
<text x="253.8" y="701.2" font-size="8.8" text-anchor="middle" fill="#333333" textLength="29.8" lengthAdjust="spacingAndGlyphs">volume</text>
<text x="253.8" y="711.8" font-size="8.8" text-anchor="middle" fill="#333333">(mm<tspan font-size="6.3" dy="-3.6">3</tspan><tspan dy="3.6">)</tspan></text>
<rect x="255.0" y="721.2" width="8.8" height="77.09999999999991" fill="url(#cbg)" stroke="#777" stroke-width="0.4"/>
<text x="251.3" y="724.70" font-size="8" text-anchor="end" fill="#333333">1,000</text>
<text x="251.3" y="743.90" font-size="8" text-anchor="end" fill="#333333">750</text>
<text x="251.3" y="762.70" font-size="8" text-anchor="end" fill="#333333">500</text>
<text x="251.3" y="781.00" font-size="8" text-anchor="end" fill="#333333">250</text>
<text x="251.3" y="799.70" font-size="8" text-anchor="end" fill="#333333">0</text>
<text x="492.1" y="690.6" font-size="8.8" text-anchor="middle" fill="#333333" textLength="25" lengthAdjust="spacingAndGlyphs">Tumor</text>
<text x="492.1" y="701.2" font-size="8.8" text-anchor="middle" fill="#333333" textLength="29.8" lengthAdjust="spacingAndGlyphs">volume</text>
<text x="492.1" y="711.8" font-size="8.8" text-anchor="middle" fill="#333333">(mm<tspan font-size="6.3" dy="-3.6">3</tspan><tspan dy="3.6">)</tspan></text>
<rect x="493.2" y="722.0" width="8.8" height="76.60000000000002" fill="url(#cbg)" stroke="#777" stroke-width="0.4"/>
<text x="489.0" y="724.20" font-size="8" text-anchor="end" fill="#333333">1,000</text>
<text x="489.0" y="743.70" font-size="8" text-anchor="end" fill="#333333">750</text>
<text x="489.0" y="763.00" font-size="8" text-anchor="end" fill="#333333">500</text>
<text x="489.0" y="782.60" font-size="8" text-anchor="end" fill="#333333">250</text>
<text x="489.0" y="801.30" font-size="8" text-anchor="end" fill="#333333">0</text>
<text transform="translate(217.8,390.8) rotate(-90)" font-size="9.6" text-anchor="middle" fill="#c0394a" textLength="68.5" lengthAdjust="spacingAndGlyphs">PROGRESSOR</text>
<text transform="translate(450.1,390.8) rotate(-90)" font-size="9.6" text-anchor="middle" fill="#c0394a" textLength="68.5" lengthAdjust="spacingAndGlyphs">PROGRESSOR</text>
<text transform="translate(683.6,386.8) rotate(-90)" font-size="9.6" text-anchor="middle" fill="#c0394a" textLength="68.6" lengthAdjust="spacingAndGlyphs">PROGRESSOR</text>
<text transform="translate(217.8,767.7) rotate(-90)" font-size="9.6" text-anchor="middle" fill="#3a8ad0" textLength="60" lengthAdjust="spacingAndGlyphs">REGRESSOR</text>
<text transform="translate(450.1,767.7) rotate(-90)" font-size="9.6" text-anchor="middle" fill="#3a8ad0" textLength="60" lengthAdjust="spacingAndGlyphs">REGRESSOR</text>
<text transform="translate(683.6,767.7) rotate(-90)" font-size="9.6" text-anchor="middle" fill="#3a8ad0" textLength="60" lengthAdjust="spacingAndGlyphs">REGRESSOR</text>
<text transform="translate(29.0,557.3) rotate(-90)" font-size="10" text-anchor="middle" fill="#333333" textLength="111.5" lengthAdjust="spacingAndGlyphs">Cell lines from WT mice</text>
<text transform="translate(261.5,571.3) rotate(-90)" font-size="10" text-anchor="middle" fill="#333333" textLength="136" lengthAdjust="spacingAndGlyphs">Cell lines from RAG1<tspan font-size="7" dy="-3.8">KO</tspan><tspan dy="3.8"> mice</tspan></text>
<text transform="translate(497.3,571) rotate(-90)" font-size="10" text-anchor="middle" fill="#333333" textLength="147.4" lengthAdjust="spacingAndGlyphs">Cell lines from DNGR-1<tspan font-size="7" dy="-3.8">KO</tspan><tspan dy="3.8"> mice</tspan></text>
</svg></body></html>
